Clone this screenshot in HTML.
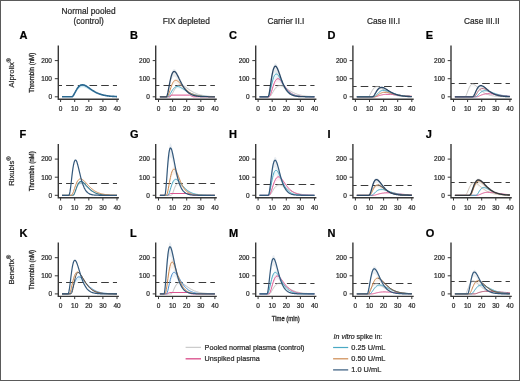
<!DOCTYPE html>
<html><head><meta charset="utf-8"><title>Thrombin generation</title>
<style>html,body{margin:0;padding:0;background:#fff;}svg{display:block;will-change:transform;filter:blur(0.3px);} text{stroke-width:0.22px;}</style>
</head><body>
<svg width="520" height="381" viewBox="0 0 520 381"><rect x="0.5" y="0.5" width="519" height="380" fill="#fff" stroke="#5a5a5a" stroke-width="1"/>
<g font-family='"Liberation Sans", sans-serif' font-size="8.3" fill="#2a2a2a" stroke="#2a2a2a" text-anchor="middle">
<text x="88.6" y="13.9">Normal pooled</text>
<text x="88.6" y="23.5">(control)</text>
<text x="186.25" y="23.5">FIX depleted</text>
<text x="285.9" y="23.5">Carrier II.I</text>
<text x="383.5" y="23.5">Case III.I</text>
<text x="481.75" y="23.5">Case III.II</text>
</g>
<g font-family='"Liberation Sans", sans-serif' font-size="11" font-weight="bold" fill="#000" stroke="#000">
<text x="19.5" y="39.0">A</text>
<text x="130.1" y="39.0">B</text>
<text x="228.9" y="39.0">C</text>
<text x="327.5" y="39.0">D</text>
<text x="425.8" y="39.0">E</text>
<text x="19.5" y="137.8">F</text>
<text x="130.1" y="137.8">G</text>
<text x="228.9" y="137.8">H</text>
<text x="327.5" y="137.8">I</text>
<text x="425.8" y="137.8">J</text>
<text x="19.5" y="236.6">K</text>
<text x="130.1" y="236.6">L</text>
<text x="228.9" y="236.6">M</text>
<text x="327.5" y="236.6">N</text>
<text x="425.8" y="236.6">O</text>
</g>
<text transform="translate(13.6,87.4) rotate(-90)" font-family='"Liberation Sans", sans-serif' font-size="7.7" fill="#2a2a2a" stroke="#2a2a2a">Alprolix<tspan font-size="5.6" dy="-2.5">®</tspan></text>
<text transform="translate(13.6,185.8) rotate(-90)" font-family='"Liberation Sans", sans-serif' font-size="7.7" fill="#2a2a2a" stroke="#2a2a2a">Rixubis<tspan font-size="5.6" dy="-2.5">®</tspan></text>
<text transform="translate(13.6,284.6) rotate(-90)" font-family='"Liberation Sans", sans-serif' font-size="7.7" fill="#2a2a2a" stroke="#2a2a2a">Benefix<tspan font-size="5.6" dy="-2.5">®</tspan></text>
<text transform="translate(34.0,72.8) rotate(-90) scale(0.765,1)" font-family='"Liberation Sans", sans-serif' font-size="8" fill="#2a2a2a" stroke="#2a2a2a" style="stroke-width:0.35px" text-anchor="middle">Thrombin (nM)</text>
<line x1="58.30" y1="85.50" x2="117.00" y2="85.50" stroke="#3a3a3a" stroke-width="1.15" stroke-dasharray="7.6 4.1" stroke-dashoffset="3.9"/>
<path d="M72.5,96.5 L73.0,95.9 L73.5,95.2 L73.9,94.4 L74.4,93.5 L74.8,92.5 L75.3,91.6 L75.8,90.6 L76.2,89.7 L76.7,88.9 L77.1,88.1 L77.6,87.4 L78.0,86.7 L78.5,86.1 L79.0,85.6 L79.4,85.2 L79.9,84.8 L80.3,84.5 L80.8,84.2 L81.3,84.1 L81.7,84.0 L82.2,83.9 L82.6,83.9 L83.1,83.9 L83.5,84.0 L84.0,84.2 L84.5,84.3 L84.9,84.6 L85.4,84.8 L85.8,85.0 L86.3,85.3 L86.8,85.6 L87.2,85.9 L87.7,86.3 L88.1,86.6 L88.6,86.9 L89.0,87.3 L89.5,87.6 L90.0,88.0 L90.4,88.3 L90.9,88.7 L91.3,89.0 L91.8,89.4 L92.3,89.7 L92.7,90.0 L93.2,90.3 L93.6,90.6 L94.1,90.9 L94.5,91.2 L95.0,91.5 L95.5,91.8 L95.9,92.0 L96.4,92.3 L96.8,92.5 L97.3,92.7 L97.8,93.0 L98.2,93.2 L98.7,93.4 L99.1,93.6 L99.6,93.8 L100.0,93.9 L100.5,94.1 L101.0,94.3 L101.4,94.4 L101.9,94.6 L102.3,94.7 L102.8,94.8 L103.3,94.9 L103.7,95.0 L104.2,95.2 L104.6,95.3 L105.1,95.4 L105.5,95.4 L106.0,95.5 L106.5,95.6 L106.9,95.7 L107.4,95.8 L107.8,95.8 L108.3,95.9 L108.8,96.0 L109.2,96.0 L109.7,96.1 L110.1,96.1 L110.6,96.2 L111.0,96.2 L111.5,96.2 L112.0,96.3 L112.4,96.3 L112.9,96.3 L113.3,96.4 L113.8,96.4 L114.3,96.4 L114.7,96.5 L115.2,96.5 L115.6,96.5 L116.1,96.5 L116.5,96.5 L117.0,96.6 L117.0,96.6 L116.5,96.6 L116.1,96.6 L115.6,96.6 L115.2,96.6 L114.7,96.5 L114.3,96.5 L113.8,96.5 L113.3,96.5 L112.9,96.5 L112.4,96.4 L112.0,96.4 L111.5,96.4 L111.0,96.4 L110.6,96.3 L110.1,96.3 L109.7,96.3 L109.2,96.2 L108.8,96.2 L108.3,96.1 L107.8,96.1 L107.4,96.0 L106.9,96.0 L106.5,95.9 L106.0,95.9 L105.5,95.8 L105.1,95.7 L104.6,95.7 L104.2,95.6 L103.7,95.5 L103.3,95.4 L102.8,95.3 L102.3,95.2 L101.9,95.1 L101.4,95.0 L101.0,94.9 L100.5,94.8 L100.0,94.7 L99.6,94.5 L99.1,94.4 L98.7,94.3 L98.2,94.1 L97.8,94.0 L97.3,93.8 L96.8,93.6 L96.4,93.5 L95.9,93.3 L95.5,93.1 L95.0,92.9 L94.5,92.7 L94.1,92.5 L93.6,92.2 L93.2,92.0 L92.7,91.8 L92.3,91.5 L91.8,91.3 L91.3,91.0 L90.9,90.8 L90.4,90.5 L90.0,90.3 L89.5,90.0 L89.0,89.8 L88.6,89.5 L88.1,89.2 L87.7,89.0 L87.2,88.8 L86.8,88.5 L86.3,88.3 L85.8,88.1 L85.4,87.9 L84.9,87.7 L84.5,87.6 L84.0,87.4 L83.5,87.3 L83.1,87.3 L82.6,87.2 L82.2,87.3 L81.7,87.3 L81.3,87.4 L80.8,87.5 L80.3,87.7 L79.9,87.9 L79.4,88.2 L79.0,88.5 L78.5,88.9 L78.0,89.3 L77.6,89.8 L77.1,90.3 L76.7,90.9 L76.2,91.6 L75.8,92.2 L75.3,92.9 L74.8,93.6 L74.4,94.3 L73.9,95.0 L73.5,95.6 L73.0,96.2 L72.5,96.6 Z" fill="#bfe6f4" opacity="0.8"/>
<path d="M62,96.8 L72,96.8 L72.5,96.5 L73,96 L73.5,95.3 L74,94.4 L74.5,93.5 L75,92.5 L75.5,91.6 L76,90.6 L76.5,89.8 L77,88.9 L77.5,88.2 L78,87.5 L78.5,86.9 L79,86.4 L79.5,85.9 L80,85.6 L80.5,85.3 L81,85.1 L81.5,85 L82,84.9 L83,84.9 L83.5,85 L84,85.1 L84.5,85.3 L85,85.5 L85.5,85.7 L86,86 L86.5,86.3 L87,86.6 L87.5,86.9 L88,87.3 L88.5,87.6 L89,88 L89.5,88.3 L90,88.7 L90.5,89 L91,89.4 L91.5,89.7 L92,90.1 L92.5,90.4 L93,90.7 L93.5,91 L94,91.3 L94.5,91.6 L95,91.9 L95.5,92.2 L96,92.4 L96.5,92.7 L97,92.9 L97.5,93.1 L98,93.4 L98.5,93.6 L99,93.8 L99.5,94 L100,94.1 L100.5,94.3 L101,94.5 L101.5,94.6 L102,94.8 L102.5,94.9 L103,95 L103.5,95.1 L104,95.2 L104.5,95.3 L105,95.4 L105.5,95.5 L106,95.6 L106.5,95.7 L107,95.8 L107.5,95.9 L108,95.9 L108.5,96 L109,96 L109.5,96.1 L110,96.1 L110.5,96.2 L111,96.2 L111.5,96.3 L112,96.3 L112.5,96.4 L114,96.4 L114.5,96.5 L116,96.5 L116.5,96.6 L117,96.6" fill="none" stroke="#2a6890" stroke-width="1.6" stroke-linejoin="round" opacity="1.0"/>
<path d="M58.30,45.50 L58.30,99.30 L118.90,99.30" fill="none" stroke="#383838" stroke-width="1.4"/>
<path d="M54.80,96.80 L58.30,96.80 M54.80,78.70 L58.30,78.70 M54.80,60.60 L58.30,60.60 M60.60,99.30 L60.60,102.00 M74.70,99.30 L74.70,102.00 M88.80,99.30 L88.80,102.00 M102.90,99.30 L102.90,102.00 M117.00,99.30 L117.00,102.00" stroke="#383838" stroke-width="1"/>
<g font-family='"Liberation Sans", sans-serif' font-size="6.5" fill="#2a2a2a" stroke="#2a2a2a">
<text x="52.00" y="99.15" text-anchor="end">0</text>
<text x="52.00" y="81.05" text-anchor="end">100</text>
<text x="52.00" y="62.95" text-anchor="end">200</text>
<text x="60.60" y="111.30" text-anchor="middle">0</text>
<text x="74.70" y="111.30" text-anchor="middle">10</text>
<text x="88.80" y="111.30" text-anchor="middle">20</text>
<text x="102.90" y="111.30" text-anchor="middle">30</text>
<text x="117.00" y="111.30" text-anchor="middle">40</text>
</g>
<line x1="155.70" y1="85.50" x2="214.90" y2="85.50" stroke="#3a3a3a" stroke-width="1.15" stroke-dasharray="7.6 4.1" stroke-dashoffset="3.9"/>
<path d="M170.9,95.9 L171.8,94.3 L172.7,92.5 L173.7,90.5 L174.6,88.7 L175.5,87.2 L176.4,85.9 L177.3,84.9 L178.2,84.3 L179.2,83.8 L180.1,83.7 L181.0,83.7 L181.9,83.9 L182.8,84.3 L183.7,84.8 L184.7,85.4 L185.6,86.1 L186.5,86.8 L187.4,87.5 L188.3,88.2 L189.2,88.9 L190.2,89.6 L191.1,90.2 L192.0,90.8 L192.9,91.4 L193.8,91.9 L194.7,92.4 L195.7,92.9 L196.6,93.3 L197.5,93.7 L198.4,94.0 L199.3,94.4 L200.2,94.6 L201.2,94.9 L202.1,95.1 L203.0,95.3 L203.9,95.5 L204.8,95.7 L205.7,95.8 L206.7,95.9 L207.6,96.0 L208.5,96.1 L209.4,96.2 L210.3,96.3 L211.2,96.4 L212.2,96.4 L213.1,96.5 L214.0,96.5 L214.9,96.6 L214.9,96.6 L214.0,96.6 L213.1,96.6 L212.2,96.5 L211.2,96.5 L210.3,96.4 L209.4,96.4 L208.5,96.3 L207.6,96.3 L206.7,96.2 L205.7,96.1 L204.8,96.0 L203.9,95.9 L203.0,95.7 L202.1,95.6 L201.2,95.4 L200.2,95.2 L199.3,95.0 L198.4,94.8 L197.5,94.5 L196.6,94.3 L195.7,94.0 L194.7,93.6 L193.8,93.3 L192.9,92.9 L192.0,92.5 L191.1,92.0 L190.2,91.5 L189.2,91.0 L188.3,90.5 L187.4,90.0 L186.5,89.5 L185.6,89.0 L184.7,88.5 L183.7,88.1 L182.8,87.7 L181.9,87.4 L181.0,87.3 L180.1,87.3 L179.2,87.4 L178.2,87.7 L177.3,88.2 L176.4,88.9 L175.5,89.8 L174.6,90.9 L173.7,92.2 L172.7,93.6 L171.8,95.0 L170.9,96.2 Z" fill="#b8b8b8" opacity="0.1"/>
<path d="M170.9,95.0 L171.8,94.9 L172.7,94.9 L173.7,94.9 L174.6,94.9 L175.5,94.9 L176.4,94.9 L177.3,94.9 L178.2,94.9 L179.2,94.9 L180.1,94.9 L181.0,94.9 L181.9,94.9 L182.8,94.9 L183.7,94.9 L184.7,94.9 L185.6,94.9 L186.5,94.9 L187.4,94.9 L188.3,94.9 L189.2,94.9 L190.2,95.3 L191.1,95.7 L192.0,96.2 L192.9,96.7 L192.9,96.7 L192.0,96.4 L191.1,96.0 L190.2,95.7 L189.2,95.5 L188.3,95.4 L187.4,95.4 L186.5,95.4 L185.6,95.4 L184.7,95.4 L183.7,95.4 L182.8,95.4 L181.9,95.4 L181.0,95.4 L180.1,95.4 L179.2,95.4 L178.2,95.4 L177.3,95.4 L176.4,95.4 L175.5,95.4 L174.6,95.4 L173.7,95.4 L172.7,95.4 L171.8,95.4 L170.9,95.5 Z" fill="#dc5690" opacity="0.1"/>
<path d="M168.2,96.7 L169.1,95.7 L170.0,94.1 L170.9,92.3 L171.8,90.5 L172.7,88.9 L173.7,87.6 L174.6,86.6 L175.5,85.9 L176.4,85.6 L177.3,85.5 L178.2,85.6 L179.2,85.8 L180.1,86.2 L181.0,86.7 L181.9,87.3 L182.8,87.9 L183.7,88.6 L184.7,89.2 L185.6,89.8 L186.5,90.4 L187.4,91.0 L188.3,91.6 L189.2,92.1 L190.2,92.6 L191.1,93.0 L192.0,93.4 L192.9,93.8 L193.8,94.1 L194.7,94.4 L195.7,94.7 L196.6,95.0 L197.5,95.2 L198.4,95.4 L199.3,95.6 L200.2,95.7 L201.2,95.9 L202.1,96.0 L203.0,96.1 L203.9,96.2 L204.8,96.3 L205.7,96.3 L206.7,96.4 L207.6,96.4 L208.5,96.5 L209.4,96.5 L210.3,96.6 L211.2,96.6 L212.2,96.6 L213.1,96.7 L214.0,96.7 L214.9,96.7 L214.9,96.7 L214.0,96.7 L213.1,96.7 L212.2,96.7 L211.2,96.7 L210.3,96.6 L209.4,96.6 L208.5,96.6 L207.6,96.5 L206.7,96.5 L205.7,96.5 L204.8,96.4 L203.9,96.3 L203.0,96.3 L202.1,96.2 L201.2,96.1 L200.2,96.0 L199.3,95.9 L198.4,95.8 L197.5,95.6 L196.6,95.5 L195.7,95.3 L194.7,95.1 L193.8,94.9 L192.9,94.6 L192.0,94.3 L191.1,94.0 L190.2,93.7 L189.2,93.4 L188.3,93.0 L187.4,92.6 L186.5,92.2 L185.6,91.7 L184.7,91.3 L183.7,90.8 L182.8,90.3 L181.9,89.9 L181.0,89.5 L180.1,89.1 L179.2,88.8 L178.2,88.6 L177.3,88.5 L176.4,88.6 L175.5,88.9 L174.6,89.4 L173.7,90.1 L172.7,91.1 L171.8,92.2 L170.9,93.5 L170.0,94.9 L169.1,96.0 L168.2,96.7 Z" fill="#4aa9c4" opacity="0.1"/>
<path d="M167.2,96.7 L168.2,95.4 L169.1,92.8 L170.0,89.7 L170.9,86.5 L171.8,83.7 L172.7,81.5 L173.7,80.0 L174.6,79.1 L175.5,78.7 L176.4,78.8 L177.3,79.3 L178.2,80.0 L179.2,80.9 L180.1,81.9 L181.0,83.1 L181.9,84.2 L182.8,85.4 L183.7,86.5 L184.7,87.5 L185.6,88.5 L186.5,89.5 L187.4,90.3 L188.3,91.1 L189.2,91.8 L190.2,92.4 L191.1,93.0 L192.0,93.5 L192.9,93.9 L193.8,94.3 L194.7,94.7 L195.7,95.0 L196.6,95.2 L197.5,95.5 L198.4,95.7 L199.3,95.8 L200.2,96.0 L201.2,96.1 L202.1,96.2 L203.0,96.3 L203.9,96.4 L204.8,96.4 L205.7,96.5 L206.7,96.5 L207.6,96.6 L208.5,96.6 L209.4,96.6 L210.3,96.7 L211.2,96.7 L212.2,96.7 L213.1,96.7 L214.0,96.7 L214.0,96.8 L213.1,96.7 L212.2,96.7 L211.2,96.7 L210.3,96.7 L209.4,96.7 L208.5,96.7 L207.6,96.6 L206.7,96.6 L205.7,96.6 L204.8,96.5 L203.9,96.5 L203.0,96.4 L202.1,96.4 L201.2,96.3 L200.2,96.2 L199.3,96.1 L198.4,96.0 L197.5,95.8 L196.6,95.7 L195.7,95.5 L194.7,95.3 L193.8,95.0 L192.9,94.7 L192.0,94.4 L191.1,94.0 L190.2,93.6 L189.2,93.2 L188.3,92.6 L187.4,92.1 L186.5,91.5 L185.6,90.8 L184.7,90.1 L183.7,89.3 L182.8,88.5 L181.9,87.6 L181.0,86.8 L180.1,86.0 L179.2,85.2 L178.2,84.6 L177.3,84.0 L176.4,83.7 L175.5,83.6 L174.6,83.9 L173.7,84.6 L172.7,85.7 L171.8,87.3 L170.9,89.3 L170.0,91.6 L169.1,93.9 L168.2,95.8 L167.2,96.8 Z" fill="#cd8a50" opacity="0.1"/>
<path d="M167.2,95.1 L168.2,90.7 L169.1,85.3 L170.0,80.0 L170.9,75.6 L171.8,72.2 L172.7,70.1 L173.7,69.1 L174.6,69.0 L175.5,69.8 L176.4,71.1 L177.3,72.8 L178.2,74.8 L179.2,76.9 L180.1,79.0 L181.0,81.0 L181.9,83.0 L182.8,84.8 L183.7,86.4 L184.7,87.9 L185.6,89.2 L186.5,90.3 L187.4,91.3 L188.3,92.2 L189.2,92.9 L190.2,93.6 L191.1,94.1 L192.0,94.6 L192.9,95.0 L193.8,95.3 L194.7,95.6 L195.7,95.8 L196.6,96.0 L197.5,96.1 L198.4,96.2 L199.3,96.3 L200.2,96.4 L201.2,96.5 L202.1,96.6 L203.0,96.6 L203.9,96.6 L204.8,96.7 L205.7,96.7 L206.7,96.7 L207.6,96.7 L207.6,96.8 L206.7,96.7 L205.7,96.7 L204.8,96.7 L203.9,96.7 L203.0,96.7 L202.1,96.6 L201.2,96.6 L200.2,96.5 L199.3,96.5 L198.4,96.4 L197.5,96.3 L196.6,96.2 L195.7,96.1 L194.7,95.9 L193.8,95.7 L192.9,95.5 L192.0,95.2 L191.1,94.9 L190.2,94.5 L189.2,94.0 L188.3,93.5 L187.4,92.8 L186.5,92.1 L185.6,91.3 L184.7,90.3 L183.7,89.2 L182.8,88.0 L181.9,86.7 L181.0,85.3 L180.1,83.8 L179.2,82.3 L178.2,80.8 L177.3,79.4 L176.4,78.1 L175.5,77.1 L174.6,76.6 L173.7,76.6 L172.7,77.4 L171.8,78.9 L170.9,81.4 L170.0,84.6 L169.1,88.5 L168.2,92.4 L167.2,95.5 Z" fill="#2c4866" opacity="0.1"/>
<path d="M159.9,96.8 L169.9,96.8 L170.4,96.5 L170.9,96 L171.4,95.3 L171.9,94.4 L172.4,93.5 L172.9,92.5 L173.4,91.6 L173.9,90.6 L174.4,89.8 L174.9,88.9 L175.4,88.2 L175.9,87.5 L176.4,86.9 L176.9,86.4 L177.4,85.9 L177.9,85.6 L178.4,85.3 L178.9,85.1 L179.4,85 L179.9,84.9 L180.9,84.9 L181.4,85 L181.9,85.1 L182.4,85.3 L182.9,85.5 L183.4,85.7 L183.9,86 L184.4,86.3 L184.9,86.6 L185.4,86.9 L185.9,87.3 L186.4,87.6 L186.9,88 L187.4,88.3 L187.9,88.7 L188.4,89 L188.9,89.4 L189.4,89.7 L189.9,90.1 L190.4,90.4 L190.9,90.7 L191.4,91 L191.9,91.3 L192.4,91.6 L192.9,91.9 L193.4,92.2 L193.9,92.4 L194.4,92.7 L194.9,92.9 L195.4,93.1 L195.9,93.4 L196.4,93.6 L196.9,93.8 L197.4,94 L197.9,94.1 L198.4,94.3 L198.9,94.5 L199.4,94.6 L199.9,94.8 L200.4,94.9 L200.9,95 L201.4,95.1 L201.9,95.2 L202.4,95.3 L202.9,95.4 L203.4,95.5 L203.9,95.6 L204.4,95.7 L204.9,95.8 L205.4,95.9 L205.9,95.9 L206.4,96 L206.9,96 L207.4,96.1 L207.9,96.1 L208.4,96.2 L208.9,96.2 L209.4,96.3 L209.9,96.3 L210.4,96.4 L211.9,96.4 L212.4,96.5 L213.9,96.5 L214.4,96.6 L214.9,96.6" fill="none" stroke="#b8b8b8" stroke-width="0.8" stroke-linejoin="round" opacity="1.0"/>
<path d="M159.9,96.8 L169.9,96.8 L170.4,96.5 L170.9,95.2 L171.4,95.1 L189.4,95.1 L189.9,95.3 L190.4,95.5 L190.9,95.7 L191.4,96 L191.9,96.3 L192.4,96.5 L192.9,96.7 L193.4,96.8 L214.9,96.8" fill="none" stroke="#dc5690" stroke-width="1.0" stroke-linejoin="round" opacity="1.0"/>
<path d="M159.9,96.8 L167.9,96.8 L168.4,96.5 L168.9,96 L169.4,95.3 L169.9,94.5 L170.4,93.6 L170.9,92.7 L171.4,91.8 L171.9,90.9 L172.4,90.1 L172.9,89.4 L173.4,88.7 L173.9,88.2 L174.4,87.7 L174.9,87.3 L175.4,87 L175.9,86.7 L176.4,86.6 L176.9,86.5 L177.9,86.5 L178.4,86.6 L178.9,86.8 L179.4,86.9 L179.9,87.1 L180.4,87.4 L180.9,87.6 L181.4,87.9 L181.9,88.2 L182.4,88.5 L182.9,88.8 L183.4,89.1 L183.9,89.4 L184.4,89.7 L184.9,90 L185.4,90.4 L185.9,90.7 L186.4,91 L186.9,91.3 L187.4,91.5 L187.9,91.8 L188.4,92.1 L188.9,92.3 L189.4,92.6 L189.9,92.8 L190.4,93.1 L190.9,93.3 L191.4,93.5 L191.9,93.7 L192.4,93.9 L192.9,94.1 L193.4,94.2 L193.9,94.4 L194.4,94.6 L194.9,94.7 L195.4,94.8 L195.9,95 L196.4,95.1 L196.9,95.2 L197.4,95.3 L197.9,95.4 L198.4,95.5 L198.9,95.6 L199.4,95.7 L199.9,95.8 L200.4,95.8 L200.9,95.9 L201.4,96 L201.9,96 L202.4,96.1 L202.9,96.1 L203.4,96.2 L203.9,96.2 L204.4,96.3 L205.4,96.3 L205.9,96.4 L206.9,96.4 L207.4,96.5 L208.9,96.5 L209.4,96.6 L211.9,96.6 L212.4,96.7 L214.9,96.7" fill="none" stroke="#4aa9c4" stroke-width="1.0" stroke-linejoin="round" opacity="1.0"/>
<path d="M159.9,96.8 L166.9,96.8 L167.4,96.6 L167.9,96 L168.4,95 L168.9,93.7 L169.4,92.2 L169.9,90.6 L170.4,89 L170.9,87.5 L171.4,86 L171.9,84.7 L172.4,83.6 L172.9,82.6 L173.4,81.8 L173.9,81.2 L174.4,80.8 L174.9,80.5 L175.4,80.4 L175.9,80.3 L176.4,80.4 L176.9,80.6 L177.4,80.9 L177.9,81.2 L178.4,81.7 L178.9,82.1 L179.4,82.6 L179.9,83.1 L180.4,83.7 L180.9,84.2 L181.4,84.8 L181.9,85.4 L182.4,85.9 L182.9,86.5 L183.4,87 L183.9,87.6 L184.4,88.1 L184.9,88.6 L185.4,89.1 L185.9,89.6 L186.4,90.1 L186.9,90.5 L187.4,90.9 L187.9,91.3 L188.4,91.7 L188.9,92 L189.4,92.4 L189.9,92.7 L190.4,93 L190.9,93.3 L191.4,93.5 L191.9,93.8 L192.4,94 L192.9,94.2 L193.4,94.4 L193.9,94.6 L194.4,94.8 L194.9,94.9 L195.4,95.1 L195.9,95.2 L196.4,95.3 L196.9,95.5 L197.4,95.6 L197.9,95.7 L198.4,95.8 L198.9,95.8 L199.4,95.9 L199.9,96 L200.4,96.1 L200.9,96.1 L201.4,96.2 L201.9,96.2 L202.4,96.3 L202.9,96.3 L203.4,96.4 L204.4,96.4 L204.9,96.5 L205.9,96.5 L206.4,96.6 L208.9,96.6 L209.4,96.7 L214.4,96.7 L214.9,96.8" fill="none" stroke="#cd8a50" stroke-width="1.0" stroke-linejoin="round" opacity="1.0"/>
<path d="M159.9,96.8 L166.4,96.8 L166.9,96.1 L167.4,94.6 L167.9,92.5 L168.4,90 L168.9,87.3 L169.4,84.6 L169.9,82 L170.4,79.6 L170.9,77.5 L171.4,75.7 L171.9,74.2 L172.4,73.1 L172.9,72.3 L173.4,71.7 L173.9,71.5 L174.4,71.5 L174.9,71.7 L175.4,72.1 L175.9,72.7 L176.4,73.4 L176.9,74.3 L177.4,75.2 L177.9,76.1 L178.4,77.1 L178.9,78.2 L179.4,79.2 L179.9,80.3 L180.4,81.3 L180.9,82.3 L181.4,83.3 L181.9,84.2 L182.4,85.1 L182.9,86 L183.4,86.8 L183.9,87.6 L184.4,88.3 L184.9,89 L185.4,89.7 L185.9,90.3 L186.4,90.8 L186.9,91.3 L187.4,91.8 L187.9,92.3 L188.4,92.7 L188.9,93.1 L189.4,93.4 L189.9,93.7 L190.4,94 L190.9,94.3 L191.4,94.5 L191.9,94.8 L192.4,95 L192.9,95.1 L193.4,95.3 L193.9,95.5 L194.4,95.6 L194.9,95.7 L195.4,95.8 L195.9,95.9 L196.4,96 L196.9,96.1 L197.4,96.2 L197.9,96.2 L198.4,96.3 L198.9,96.4 L199.9,96.4 L200.4,96.5 L201.4,96.5 L201.9,96.6 L203.4,96.6 L203.9,96.7 L207.9,96.7 L208.4,96.8 L214.9,96.8" fill="none" stroke="#2c4866" stroke-width="1.3" stroke-linejoin="round" opacity="1.0"/>
<path d="M155.70,45.50 L155.70,99.30 L216.80,99.30" fill="none" stroke="#383838" stroke-width="1.4"/>
<path d="M152.70,96.80 L155.70,96.80 M152.70,78.70 L155.70,78.70 M152.70,60.60 L155.70,60.60 M158.50,99.30 L158.50,102.00 M172.60,99.30 L172.60,102.00 M186.70,99.30 L186.70,102.00 M200.80,99.30 L200.80,102.00 M214.90,99.30 L214.90,102.00" stroke="#383838" stroke-width="1"/>
<g font-family='"Liberation Sans", sans-serif' font-size="6.5" fill="#2a2a2a" stroke="#2a2a2a">
<text x="149.90" y="99.15" text-anchor="end">0</text>
<text x="149.90" y="81.05" text-anchor="end">100</text>
<text x="149.90" y="62.95" text-anchor="end">200</text>
<text x="158.50" y="111.30" text-anchor="middle">0</text>
<text x="172.60" y="111.30" text-anchor="middle">10</text>
<text x="186.70" y="111.30" text-anchor="middle">20</text>
<text x="200.80" y="111.30" text-anchor="middle">30</text>
<text x="214.90" y="111.30" text-anchor="middle">40</text>
</g>
<line x1="255.70" y1="85.50" x2="314.50" y2="85.50" stroke="#3a3a3a" stroke-width="1.15" stroke-dasharray="7.6 4.1" stroke-dashoffset="3.9"/>
<path d="M270.5,96.0 L271.4,94.5 L272.3,92.7 L273.3,90.9 L274.2,89.2 L275.1,87.8 L276.0,86.6 L276.9,85.7 L277.8,85.0 L278.8,84.6 L279.7,84.5 L280.6,84.5 L281.5,84.7 L282.4,85.1 L283.3,85.6 L284.3,86.1 L285.2,86.7 L286.1,87.4 L287.0,88.0 L287.9,88.7 L288.8,89.4 L289.8,90.0 L290.7,90.6 L291.6,91.2 L292.5,91.7 L293.4,92.2 L294.3,92.7 L295.3,93.1 L296.2,93.5 L297.1,93.9 L298.0,94.2 L298.9,94.5 L299.8,94.8 L300.8,95.0 L301.7,95.2 L302.6,95.4 L303.5,95.6 L304.4,95.7 L305.3,95.9 L306.3,96.0 L307.2,96.1 L308.1,96.2 L309.0,96.3 L309.9,96.3 L310.8,96.4 L311.8,96.4 L312.7,96.5 L313.6,96.5 L314.5,96.6 L314.5,96.6 L313.6,96.6 L312.7,96.6 L311.8,96.5 L310.8,96.5 L309.9,96.5 L309.0,96.4 L308.1,96.4 L307.2,96.3 L306.3,96.2 L305.3,96.1 L304.4,96.0 L303.5,95.9 L302.6,95.8 L301.7,95.7 L300.8,95.5 L299.8,95.3 L298.9,95.1 L298.0,94.9 L297.1,94.7 L296.2,94.4 L295.3,94.1 L294.3,93.8 L293.4,93.5 L292.5,93.1 L291.6,92.7 L290.7,92.3 L289.8,91.9 L288.8,91.4 L287.9,90.9 L287.0,90.4 L286.1,89.9 L285.2,89.5 L284.3,89.0 L283.3,88.6 L282.4,88.3 L281.5,88.0 L280.6,87.9 L279.7,87.8 L278.8,87.9 L277.8,88.2 L276.9,88.7 L276.0,89.4 L275.1,90.2 L274.2,91.3 L273.3,92.5 L272.3,93.8 L271.4,95.1 L270.5,96.2 Z" fill="#b8b8b8" opacity="0.1"/>
<path d="M269.6,96.2 L270.5,94.2 L271.4,91.3 L272.3,88.0 L273.3,84.7 L274.2,81.9 L275.1,79.7 L276.0,78.2 L276.9,77.2 L277.8,76.9 L278.8,77.1 L279.7,77.8 L280.6,78.8 L281.5,80.0 L282.4,81.5 L283.3,83.0 L284.3,84.4 L285.2,85.9 L286.1,87.2 L287.0,88.5 L287.9,89.7 L288.8,90.7 L289.8,91.6 L290.7,92.4 L291.6,93.1 L292.5,93.7 L293.4,94.2 L294.3,94.7 L295.3,95.0 L296.2,95.3 L297.1,95.6 L298.0,95.8 L298.9,96.0 L299.8,96.1 L300.8,96.3 L301.7,96.4 L302.6,96.5 L303.5,96.5 L304.4,96.6 L305.3,96.6 L306.3,96.7 L307.2,96.7 L308.1,96.7 L309.0,96.7 L309.0,96.7 L308.1,96.7 L307.2,96.7 L306.3,96.7 L305.3,96.7 L304.4,96.6 L303.5,96.6 L302.6,96.5 L301.7,96.5 L300.8,96.4 L299.8,96.3 L298.9,96.2 L298.0,96.1 L297.1,95.9 L296.2,95.7 L295.3,95.5 L294.3,95.2 L293.4,94.9 L292.5,94.5 L291.6,94.1 L290.7,93.6 L289.8,93.0 L288.8,92.4 L287.9,91.6 L287.0,90.8 L286.1,89.8 L285.2,88.9 L284.3,87.8 L283.3,86.7 L282.4,85.6 L281.5,84.6 L280.6,83.7 L279.7,82.9 L278.8,82.5 L277.8,82.3 L276.9,82.6 L276.0,83.2 L275.1,84.4 L274.2,86.0 L273.3,88.0 L272.3,90.4 L271.4,92.8 L270.5,94.9 L269.6,96.4 Z" fill="#dc5690" opacity="0.1"/>
<path d="M268.7,96.2 L269.6,93.4 L270.5,89.1 L271.4,84.4 L272.3,80.1 L273.3,76.5 L274.2,74.0 L275.1,72.4 L276.0,71.7 L276.9,71.9 L277.8,72.7 L278.8,74.0 L279.7,75.6 L280.6,77.5 L281.5,79.4 L282.4,81.3 L283.3,83.1 L284.3,84.9 L285.2,86.5 L286.1,87.9 L287.0,89.2 L287.9,90.4 L288.8,91.4 L289.8,92.2 L290.7,93.0 L291.6,93.6 L292.5,94.2 L293.4,94.6 L294.3,95.0 L295.3,95.3 L296.2,95.6 L297.1,95.8 L298.0,96.0 L298.9,96.2 L299.8,96.3 L300.8,96.4 L301.7,96.5 L302.6,96.5 L303.5,96.6 L304.4,96.6 L305.3,96.7 L306.3,96.7 L307.2,96.7 L308.1,96.7 L308.1,96.7 L307.2,96.7 L306.3,96.7 L305.3,96.7 L304.4,96.7 L303.5,96.6 L302.6,96.6 L301.7,96.6 L300.8,96.5 L299.8,96.4 L298.9,96.3 L298.0,96.2 L297.1,96.1 L296.2,95.9 L295.3,95.7 L294.3,95.5 L293.4,95.2 L292.5,94.9 L291.6,94.5 L290.7,94.0 L289.8,93.5 L288.8,92.9 L287.9,92.1 L287.0,91.3 L286.1,90.3 L285.2,89.3 L284.3,88.1 L283.3,86.9 L282.4,85.5 L281.5,84.1 L280.6,82.7 L279.7,81.4 L278.8,80.2 L277.8,79.3 L276.9,78.7 L276.0,78.6 L275.1,79.1 L274.2,80.2 L273.3,82.1 L272.3,84.6 L271.4,87.8 L270.5,91.2 L269.6,94.3 L268.7,96.4 Z" fill="#4aa9c4" opacity="0.1"/>
<path d="M268.7,95.6 L269.6,90.7 L270.5,84.0 L271.4,77.2 L272.3,71.3 L273.3,67.0 L274.2,64.4 L275.1,63.2 L276.0,63.4 L276.9,64.7 L277.8,66.8 L278.8,69.4 L279.7,72.3 L280.6,75.2 L281.5,78.1 L282.4,80.8 L283.3,83.2 L284.3,85.4 L285.2,87.3 L286.1,88.9 L287.0,90.4 L287.9,91.5 L288.8,92.5 L289.8,93.4 L290.7,94.0 L291.6,94.6 L292.5,95.0 L293.4,95.4 L294.3,95.7 L295.3,95.9 L296.2,96.1 L297.1,96.3 L298.0,96.4 L298.9,96.5 L299.8,96.5 L300.8,96.6 L301.7,96.6 L302.6,96.7 L303.5,96.7 L304.4,96.7 L304.4,96.7 L303.5,96.7 L302.6,96.7 L301.7,96.7 L300.8,96.7 L299.8,96.6 L298.9,96.6 L298.0,96.5 L297.1,96.4 L296.2,96.3 L295.3,96.2 L294.3,96.0 L293.4,95.8 L292.5,95.5 L291.6,95.2 L290.7,94.8 L289.8,94.3 L288.8,93.7 L287.9,93.0 L287.0,92.1 L286.1,91.1 L285.2,89.9 L284.3,88.5 L283.3,86.9 L282.4,85.1 L281.5,83.2 L280.6,81.1 L279.7,79.0 L278.8,76.9 L277.8,75.0 L276.9,73.4 L276.0,72.5 L275.1,72.4 L274.2,73.2 L273.3,75.2 L272.3,78.3 L271.4,82.5 L270.5,87.5 L269.6,92.4 L268.7,95.9 Z" fill="#2c4866" opacity="0.1"/>
<path d="M259.5,96.8 L269.5,96.8 L270,96.5 L270.5,96 L271,95.4 L271.5,94.6 L272,93.7 L272.5,92.8 L273,91.9 L273.5,91 L274,90.2 L274.5,89.4 L275,88.7 L275.5,88.1 L276,87.5 L276.5,87 L277,86.6 L277.5,86.3 L278,86 L278.5,85.8 L279,85.7 L279.5,85.6 L280.5,85.6 L281,85.7 L281.5,85.8 L282,86 L282.5,86.2 L283,86.4 L283.5,86.7 L284,86.9 L284.5,87.2 L285,87.5 L285.5,87.9 L286,88.2 L286.5,88.5 L287,88.8 L287.5,89.2 L288,89.5 L288.5,89.8 L289,90.1 L289.5,90.5 L290,90.8 L290.5,91.1 L291,91.4 L291.5,91.6 L292,91.9 L292.5,92.2 L293,92.4 L293.5,92.7 L294,92.9 L294.5,93.1 L295,93.4 L295.5,93.6 L296,93.8 L296.5,93.9 L297,94.1 L297.5,94.3 L298,94.5 L298.5,94.6 L299,94.7 L299.5,94.9 L300,95 L300.5,95.1 L301,95.2 L301.5,95.3 L302,95.4 L302.5,95.5 L303,95.6 L303.5,95.7 L304,95.8 L304.5,95.8 L305,95.9 L305.5,96 L306,96 L306.5,96.1 L307,96.1 L307.5,96.2 L308,96.2 L308.5,96.3 L309.5,96.3 L310,96.4 L311,96.4 L311.5,96.5 L313,96.5 L313.5,96.6 L314.5,96.6" fill="none" stroke="#b8b8b8" stroke-width="0.8" stroke-linejoin="round" opacity="1.0"/>
<path d="M259.5,96.8 L269,96.8 L269.5,96.4 L270,95.6 L270.5,94.5 L271,93.1 L271.5,91.5 L272,89.9 L272.5,88.2 L273,86.6 L273.5,85.1 L274,83.7 L274.5,82.5 L275,81.4 L275.5,80.6 L276,79.9 L276.5,79.3 L277,79 L277.5,78.8 L278,78.7 L278.5,78.8 L279,79 L279.5,79.3 L280,79.8 L280.5,80.3 L281,80.9 L281.5,81.6 L282,82.3 L282.5,83 L283,83.7 L283.5,84.5 L284,85.2 L284.5,85.9 L285,86.6 L285.5,87.3 L286,88 L286.5,88.6 L287,89.3 L287.5,89.8 L288,90.4 L288.5,90.9 L289,91.4 L289.5,91.9 L290,92.3 L290.5,92.7 L291,93 L291.5,93.4 L292,93.7 L292.5,94 L293,94.3 L293.5,94.5 L294,94.7 L294.5,94.9 L295,95.1 L295.5,95.3 L296,95.4 L296.5,95.6 L297,95.7 L297.5,95.8 L298,95.9 L298.5,96 L299,96.1 L299.5,96.2 L300,96.2 L300.5,96.3 L301,96.3 L301.5,96.4 L302,96.4 L302.5,96.5 L303.5,96.5 L304,96.6 L305.5,96.6 L306,96.7 L310,96.7 L310.5,96.8 L314.5,96.8" fill="none" stroke="#dc5690" stroke-width="1.0" stroke-linejoin="round" opacity="1.0"/>
<path d="M259.5,96.8 L268,96.8 L268.5,96.5 L269,95.5 L269.5,94 L270,92 L270.5,89.8 L271,87.5 L271.5,85.2 L272,83 L272.5,80.9 L273,79.2 L273.5,77.6 L274,76.4 L274.5,75.4 L275,74.7 L275.5,74.3 L276,74 L276.5,74 L277,74.2 L277.5,74.6 L278,75.1 L278.5,75.7 L279,76.5 L279.5,77.3 L280,78.2 L280.5,79.1 L281,80 L281.5,81 L282,81.9 L282.5,82.9 L283,83.8 L283.5,84.7 L284,85.5 L284.5,86.4 L285,87.2 L285.5,87.9 L286,88.6 L286.5,89.3 L287,89.9 L287.5,90.5 L288,91 L288.5,91.5 L289,92 L289.5,92.5 L290,92.9 L290.5,93.2 L291,93.6 L291.5,93.9 L292,94.2 L292.5,94.4 L293,94.6 L293.5,94.9 L294,95.1 L294.5,95.2 L295,95.4 L295.5,95.5 L296,95.7 L296.5,95.8 L297,95.9 L297.5,96 L298,96.1 L298.5,96.2 L299,96.2 L299.5,96.3 L300,96.3 L300.5,96.4 L301,96.4 L301.5,96.5 L302.5,96.5 L303,96.6 L304.5,96.6 L305,96.7 L309,96.7 L309.5,96.8 L314.5,96.8" fill="none" stroke="#4aa9c4" stroke-width="1.0" stroke-linejoin="round" opacity="1.0"/>
<path d="M259.5,96.8 L268,96.8 L268.5,96.2 L269,94.4 L269.5,91.8 L270,88.6 L270.5,85.1 L271,81.7 L271.5,78.4 L272,75.4 L272.5,72.8 L273,70.7 L273.5,68.9 L274,67.7 L274.5,66.8 L275,66.3 L275.5,66.2 L276,66.4 L276.5,67 L277,67.8 L277.5,68.8 L278,69.9 L278.5,71.2 L279,72.6 L279.5,74 L280,75.5 L280.5,77 L281,78.4 L281.5,79.8 L282,81.1 L282.5,82.4 L283,83.7 L283.5,84.8 L284,85.9 L284.5,86.9 L285,87.9 L285.5,88.7 L286,89.5 L286.5,90.3 L287,90.9 L287.5,91.6 L288,92.1 L288.5,92.6 L289,93.1 L289.5,93.5 L290,93.9 L290.5,94.2 L291,94.5 L291.5,94.8 L292,95 L292.5,95.2 L293,95.4 L293.5,95.6 L294,95.7 L294.5,95.8 L295,96 L295.5,96.1 L296,96.2 L296.5,96.2 L297,96.3 L297.5,96.4 L298,96.4 L298.5,96.5 L299.5,96.5 L300,96.6 L301,96.6 L301.5,96.7 L305,96.7 L305.5,96.8 L314.5,96.8" fill="none" stroke="#2c4866" stroke-width="1.3" stroke-linejoin="round" opacity="1.0"/>
<path d="M255.70,45.50 L255.70,99.30 L316.40,99.30" fill="none" stroke="#383838" stroke-width="1.4"/>
<path d="M252.30,96.80 L255.70,96.80 M252.30,78.70 L255.70,78.70 M252.30,60.60 L255.70,60.60 M258.10,99.30 L258.10,102.00 M272.20,99.30 L272.20,102.00 M286.30,99.30 L286.30,102.00 M300.40,99.30 L300.40,102.00 M314.50,99.30 L314.50,102.00" stroke="#383838" stroke-width="1"/>
<g font-family='"Liberation Sans", sans-serif' font-size="6.5" fill="#2a2a2a" stroke="#2a2a2a">
<text x="249.50" y="99.15" text-anchor="end">0</text>
<text x="249.50" y="81.05" text-anchor="end">100</text>
<text x="249.50" y="62.95" text-anchor="end">200</text>
<text x="258.10" y="111.30" text-anchor="middle">0</text>
<text x="272.20" y="111.30" text-anchor="middle">10</text>
<text x="286.30" y="111.30" text-anchor="middle">20</text>
<text x="300.40" y="111.30" text-anchor="middle">30</text>
<text x="314.50" y="111.30" text-anchor="middle">40</text>
</g>
<line x1="352.90" y1="86.50" x2="411.80" y2="86.50" stroke="#3a3a3a" stroke-width="1.15" stroke-dasharray="7.6 4.1" stroke-dashoffset="3.9"/>
<path d="M368.7,96.5 L369.6,95.1 L370.6,93.3 L371.5,91.3 L372.4,89.6 L373.3,88.1 L374.2,87.0 L375.1,86.1 L376.1,85.7 L377.0,85.5 L377.9,85.5 L378.8,85.8 L379.7,86.2 L380.6,86.7 L381.6,87.4 L382.5,88.1 L383.4,88.8 L384.3,89.5 L385.2,90.2 L386.1,90.8 L387.1,91.5 L388.0,92.0 L388.9,92.6 L389.8,93.1 L390.7,93.5 L391.6,93.9 L392.6,94.3 L393.5,94.6 L394.4,94.9 L395.3,95.2 L396.2,95.4 L397.1,95.6 L398.1,95.8 L399.0,95.9 L399.9,96.0 L400.8,96.1 L401.7,96.2 L402.6,96.3 L403.6,96.4 L404.5,96.5 L405.4,96.5 L406.3,96.6 L407.2,96.6 L408.1,96.6 L409.1,96.7 L410.0,96.7 L410.9,96.7 L411.8,96.7 L411.8,96.7 L410.9,96.7 L410.0,96.7 L409.1,96.7 L408.1,96.7 L407.2,96.6 L406.3,96.6 L405.4,96.6 L404.5,96.6 L403.6,96.5 L402.6,96.5 L401.7,96.4 L400.8,96.3 L399.9,96.2 L399.0,96.1 L398.1,96.0 L397.1,95.9 L396.2,95.8 L395.3,95.6 L394.4,95.4 L393.5,95.2 L392.6,95.0 L391.6,94.7 L390.7,94.4 L389.8,94.1 L388.9,93.7 L388.0,93.3 L387.1,92.9 L386.1,92.5 L385.2,92.0 L384.3,91.5 L383.4,91.0 L382.5,90.4 L381.6,89.9 L380.6,89.5 L379.7,89.1 L378.8,88.8 L377.9,88.6 L377.0,88.6 L376.1,88.7 L375.1,89.1 L374.2,89.6 L373.3,90.5 L372.4,91.5 L371.5,92.8 L370.6,94.2 L369.6,95.6 L368.7,96.5 Z" fill="#b8b8b8" opacity="0.1"/>
<path d="M376.1,96.6 L377.0,96.3 L377.9,96.0 L378.8,95.6 L379.7,95.3 L380.6,95.0 L381.6,94.8 L382.5,94.6 L383.4,94.4 L384.3,94.2 L385.2,94.1 L386.1,94.1 L387.1,94.0 L388.0,94.0 L388.9,94.0 L389.8,94.1 L390.7,94.1 L391.6,94.2 L392.6,94.3 L393.5,94.4 L394.4,94.5 L395.3,94.6 L396.2,94.7 L397.1,94.8 L398.1,94.9 L399.0,95.0 L399.9,95.1 L400.8,95.3 L401.7,95.4 L402.6,95.5 L403.6,95.6 L404.5,95.7 L405.4,95.7 L406.3,95.8 L407.2,95.9 L408.1,96.0 L409.1,96.0 L410.0,96.1 L410.9,96.2 L411.8,96.2 L411.8,96.4 L410.9,96.3 L410.0,96.3 L409.1,96.3 L408.1,96.2 L407.2,96.1 L406.3,96.1 L405.4,96.0 L404.5,96.0 L403.6,95.9 L402.6,95.8 L401.7,95.8 L400.8,95.7 L399.9,95.6 L399.0,95.5 L398.1,95.4 L397.1,95.4 L396.2,95.3 L395.3,95.2 L394.4,95.1 L393.5,95.0 L392.6,95.0 L391.6,94.9 L390.7,94.8 L389.8,94.8 L388.9,94.8 L388.0,94.8 L387.1,94.8 L386.1,94.8 L385.2,94.9 L384.3,94.9 L383.4,95.0 L382.5,95.2 L381.6,95.3 L380.6,95.5 L379.7,95.7 L378.8,96.0 L377.9,96.2 L377.0,96.5 L376.1,96.7 Z" fill="#dc5690" opacity="0.1"/>
<path d="M375.1,96.7 L376.1,96.2 L377.0,95.5 L377.9,94.8 L378.8,94.1 L379.7,93.4 L380.6,92.9 L381.6,92.5 L382.5,92.2 L383.4,92.0 L384.3,91.8 L385.2,91.8 L386.1,91.9 L387.1,92.0 L388.0,92.1 L388.9,92.3 L389.8,92.6 L390.7,92.8 L391.6,93.0 L392.6,93.3 L393.5,93.5 L394.4,93.8 L395.3,94.0 L396.2,94.3 L397.1,94.5 L398.1,94.7 L399.0,94.9 L399.9,95.1 L400.8,95.2 L401.7,95.4 L402.6,95.5 L403.6,95.7 L404.5,95.8 L405.4,95.9 L406.3,96.0 L407.2,96.1 L408.1,96.2 L409.1,96.2 L410.0,96.3 L410.9,96.4 L411.8,96.4 L411.8,96.5 L410.9,96.5 L410.0,96.4 L409.1,96.4 L408.1,96.3 L407.2,96.3 L406.3,96.2 L405.4,96.1 L404.5,96.1 L403.6,96.0 L402.6,95.9 L401.7,95.8 L400.8,95.7 L399.9,95.5 L399.0,95.4 L398.1,95.3 L397.1,95.1 L396.2,95.0 L395.3,94.8 L394.4,94.6 L393.5,94.4 L392.6,94.2 L391.6,94.1 L390.7,93.9 L389.8,93.7 L388.9,93.6 L388.0,93.4 L387.1,93.3 L386.1,93.2 L385.2,93.2 L384.3,93.2 L383.4,93.3 L382.5,93.4 L381.6,93.6 L380.6,94.0 L379.7,94.3 L378.8,94.8 L377.9,95.3 L377.0,95.8 L376.1,96.3 L375.1,96.7 Z" fill="#cd8a50" opacity="0.1"/>
<path d="M374.2,96.7 L375.1,96.1 L376.1,95.2 L377.0,94.1 L377.9,93.0 L378.8,92.0 L379.7,91.1 L380.6,90.5 L381.6,90.0 L382.5,89.7 L383.4,89.6 L384.3,89.7 L385.2,89.8 L386.1,90.0 L387.1,90.3 L388.0,90.7 L388.9,91.1 L389.8,91.5 L390.7,91.9 L391.6,92.3 L392.6,92.7 L393.5,93.0 L394.4,93.4 L395.3,93.7 L396.2,94.0 L397.1,94.3 L398.1,94.6 L399.0,94.8 L399.9,95.1 L400.8,95.3 L401.7,95.4 L402.6,95.6 L403.6,95.8 L404.5,95.9 L405.4,96.0 L406.3,96.1 L407.2,96.2 L408.1,96.3 L409.1,96.3 L410.0,96.4 L410.9,96.5 L411.8,96.5 L411.8,96.6 L410.9,96.5 L410.0,96.5 L409.1,96.5 L408.1,96.4 L407.2,96.4 L406.3,96.3 L405.4,96.2 L404.5,96.1 L403.6,96.0 L402.6,95.9 L401.7,95.8 L400.8,95.7 L399.9,95.5 L399.0,95.4 L398.1,95.2 L397.1,95.0 L396.2,94.8 L395.3,94.6 L394.4,94.3 L393.5,94.1 L392.6,93.8 L391.6,93.5 L390.7,93.2 L389.8,92.9 L388.9,92.6 L388.0,92.4 L387.1,92.1 L386.1,91.9 L385.2,91.7 L384.3,91.6 L383.4,91.6 L382.5,91.7 L381.6,91.9 L380.6,92.2 L379.7,92.7 L378.8,93.3 L377.9,94.0 L377.0,94.8 L376.1,95.6 L375.1,96.3 L374.2,96.7 Z" fill="#4aa9c4" opacity="0.1"/>
<path d="M373.3,96.3 L374.2,95.1 L375.1,93.4 L376.1,91.7 L377.0,90.0 L377.9,88.7 L378.8,87.6 L379.7,86.9 L380.6,86.6 L381.6,86.4 L382.5,86.6 L383.4,86.9 L384.3,87.3 L385.2,87.8 L386.1,88.4 L387.1,89.1 L388.0,89.7 L388.9,90.4 L389.8,91.0 L390.7,91.6 L391.6,92.1 L392.6,92.7 L393.5,93.1 L394.4,93.6 L395.3,94.0 L396.2,94.3 L397.1,94.6 L398.1,94.9 L399.0,95.2 L399.9,95.4 L400.8,95.6 L401.7,95.8 L402.6,95.9 L403.6,96.0 L404.5,96.1 L405.4,96.2 L406.3,96.3 L407.2,96.4 L408.1,96.5 L409.1,96.5 L410.0,96.6 L410.9,96.6 L411.8,96.6 L411.8,96.7 L410.9,96.6 L410.0,96.6 L409.1,96.6 L408.1,96.5 L407.2,96.5 L406.3,96.5 L405.4,96.4 L404.5,96.3 L403.6,96.2 L402.6,96.1 L401.7,96.0 L400.8,95.9 L399.9,95.8 L399.0,95.6 L398.1,95.4 L397.1,95.2 L396.2,95.0 L395.3,94.7 L394.4,94.4 L393.5,94.1 L392.6,93.8 L391.6,93.4 L390.7,93.0 L389.8,92.6 L388.9,92.1 L388.0,91.6 L387.1,91.2 L386.1,90.7 L385.2,90.3 L384.3,89.9 L383.4,89.6 L382.5,89.4 L381.6,89.3 L380.6,89.3 L379.7,89.6 L378.8,90.1 L377.9,90.9 L377.0,91.9 L376.1,93.1 L375.1,94.3 L374.2,95.5 L373.3,96.5 Z" fill="#2c4866" opacity="0.1"/>
<path d="M356.8,96.8 L368.3,96.8 L368.8,96.4 L369.3,95.8 L369.8,95 L370.3,94 L370.8,93.1 L371.3,92.1 L371.8,91.2 L372.3,90.4 L372.8,89.6 L373.3,88.9 L373.8,88.3 L374.3,87.8 L374.8,87.3 L375.3,87 L375.8,86.8 L376.3,86.6 L376.8,86.5 L377.8,86.5 L378.3,86.6 L378.8,86.8 L379.3,87 L379.8,87.2 L380.3,87.5 L380.8,87.8 L381.3,88.1 L381.8,88.4 L382.3,88.7 L382.8,89.1 L383.3,89.4 L383.8,89.8 L384.3,90.1 L384.8,90.5 L385.3,90.8 L385.8,91.2 L386.3,91.5 L386.8,91.8 L387.3,92.1 L387.8,92.4 L388.3,92.7 L388.8,92.9 L389.3,93.2 L389.8,93.4 L390.3,93.6 L390.8,93.9 L391.3,94.1 L391.8,94.3 L392.3,94.4 L392.8,94.6 L393.3,94.8 L393.8,94.9 L394.3,95.1 L394.8,95.2 L395.3,95.3 L395.8,95.4 L396.3,95.5 L396.8,95.6 L397.3,95.7 L397.8,95.8 L398.3,95.9 L398.8,96 L399.3,96 L399.8,96.1 L400.3,96.2 L400.8,96.2 L401.3,96.3 L402.3,96.3 L402.8,96.4 L403.8,96.4 L404.3,96.5 L405.3,96.5 L405.8,96.6 L408.3,96.6 L408.8,96.7 L411.8,96.7" fill="none" stroke="#b8b8b8" stroke-width="0.8" stroke-linejoin="round" opacity="1.0"/>
<path d="M356.8,96.8 L375.3,96.8 L375.8,96.7 L376.3,96.6 L376.8,96.4 L377.3,96.3 L377.8,96.1 L378.3,95.9 L378.8,95.7 L379.3,95.6 L379.8,95.4 L380.3,95.3 L380.8,95.1 L381.3,95 L381.8,94.9 L382.3,94.8 L382.8,94.7 L383.3,94.6 L383.8,94.5 L384.3,94.5 L384.8,94.4 L385.3,94.4 L385.8,94.3 L390.3,94.3 L390.8,94.4 L391.8,94.4 L392.3,94.5 L392.8,94.5 L393.3,94.6 L393.8,94.6 L394.3,94.7 L394.8,94.7 L395.3,94.8 L395.8,94.8 L396.3,94.9 L396.8,94.9 L397.3,95 L397.8,95.1 L398.3,95.1 L398.8,95.2 L399.3,95.2 L399.8,95.3 L400.3,95.3 L400.8,95.4 L401.3,95.5 L401.8,95.5 L402.3,95.6 L402.8,95.6 L403.3,95.7 L404.3,95.7 L404.8,95.8 L405.3,95.8 L405.8,95.9 L406.3,95.9 L406.8,96 L407.8,96 L408.3,96.1 L409.3,96.1 L409.8,96.2 L411.3,96.2 L411.8,96.3" fill="none" stroke="#dc5690" stroke-width="1.0" stroke-linejoin="round" opacity="1.0"/>
<path d="M356.8,96.8 L374.8,96.8 L375.3,96.6 L375.8,96.4 L376.3,96.1 L376.8,95.7 L377.3,95.4 L377.8,95 L378.3,94.6 L378.8,94.3 L379.3,94 L379.8,93.7 L380.3,93.4 L380.8,93.2 L381.3,93 L381.8,92.8 L382.3,92.6 L382.8,92.5 L383.3,92.4 L383.8,92.3 L386.3,92.3 L386.8,92.4 L387.3,92.5 L387.8,92.5 L388.3,92.6 L388.8,92.7 L389.3,92.8 L389.8,92.9 L390.3,93.1 L390.8,93.2 L391.3,93.3 L391.8,93.4 L392.3,93.5 L392.8,93.7 L393.3,93.8 L393.8,93.9 L394.3,94 L394.8,94.2 L395.3,94.3 L395.8,94.4 L396.3,94.5 L396.8,94.6 L397.3,94.7 L397.8,94.8 L398.3,94.9 L398.8,95 L399.3,95.1 L399.8,95.2 L400.3,95.3 L400.8,95.4 L401.3,95.5 L401.8,95.5 L402.3,95.6 L402.8,95.7 L403.3,95.7 L403.8,95.8 L404.3,95.9 L404.8,95.9 L405.3,96 L405.8,96 L406.3,96.1 L406.8,96.1 L407.3,96.2 L408.3,96.2 L408.8,96.3 L409.8,96.3 L410.3,96.4 L411.8,96.4" fill="none" stroke="#cd8a50" stroke-width="1.0" stroke-linejoin="round" opacity="1.0"/>
<path d="M356.8,96.8 L373.8,96.8 L374.3,96.7 L374.8,96.4 L375.3,96.1 L375.8,95.6 L376.3,95.1 L376.8,94.5 L377.3,94 L377.8,93.4 L378.3,92.9 L378.8,92.4 L379.3,92 L379.8,91.6 L380.3,91.2 L380.8,91 L381.3,90.7 L381.8,90.5 L382.3,90.4 L382.8,90.3 L384.3,90.3 L384.8,90.4 L385.3,90.5 L385.8,90.6 L386.3,90.7 L386.8,90.9 L387.3,91 L387.8,91.2 L388.3,91.4 L388.8,91.6 L389.3,91.8 L389.8,92 L390.3,92.2 L390.8,92.4 L391.3,92.6 L391.8,92.7 L392.3,92.9 L392.8,93.1 L393.3,93.3 L393.8,93.5 L394.3,93.7 L394.8,93.8 L395.3,94 L395.8,94.2 L396.3,94.3 L396.8,94.5 L397.3,94.6 L397.8,94.7 L398.3,94.9 L398.8,95 L399.3,95.1 L399.8,95.2 L400.3,95.3 L400.8,95.4 L401.3,95.5 L401.8,95.6 L402.3,95.7 L402.8,95.7 L403.3,95.8 L403.8,95.9 L404.3,95.9 L404.8,96 L405.3,96.1 L405.8,96.1 L406.3,96.2 L407.3,96.2 L407.8,96.3 L408.3,96.3 L408.8,96.4 L409.8,96.4 L410.3,96.5 L411.8,96.5" fill="none" stroke="#4aa9c4" stroke-width="1.0" stroke-linejoin="round" opacity="1.0"/>
<path d="M356.8,96.8 L372.3,96.8 L372.8,96.7 L373.3,96.4 L373.8,95.8 L374.3,95.1 L374.8,94.3 L375.3,93.4 L375.8,92.6 L376.3,91.7 L376.8,90.9 L377.3,90.2 L377.8,89.5 L378.3,89 L378.8,88.5 L379.3,88.1 L379.8,87.8 L380.3,87.6 L380.8,87.5 L381.3,87.4 L381.8,87.4 L382.3,87.5 L382.8,87.6 L383.3,87.7 L383.8,87.9 L384.3,88.2 L384.8,88.4 L385.3,88.7 L385.8,89 L386.3,89.3 L386.8,89.6 L387.3,89.9 L387.8,90.3 L388.3,90.6 L388.8,90.9 L389.3,91.2 L389.8,91.5 L390.3,91.8 L390.8,92.1 L391.3,92.4 L391.8,92.6 L392.3,92.9 L392.8,93.2 L393.3,93.4 L393.8,93.6 L394.3,93.8 L394.8,94 L395.3,94.2 L395.8,94.4 L396.3,94.6 L396.8,94.7 L397.3,94.9 L397.8,95 L398.3,95.2 L398.8,95.3 L399.3,95.4 L399.8,95.5 L400.3,95.6 L400.8,95.7 L401.3,95.8 L401.8,95.9 L402.3,95.9 L402.8,96 L403.3,96.1 L403.8,96.1 L404.3,96.2 L404.8,96.2 L405.3,96.3 L405.8,96.3 L406.3,96.4 L407.3,96.4 L407.8,96.5 L409.3,96.5 L409.8,96.6 L411.8,96.6" fill="none" stroke="#2c4866" stroke-width="1.3" stroke-linejoin="round" opacity="1.0"/>
<path d="M352.90,45.50 L352.90,99.30 L413.70,99.30" fill="none" stroke="#383838" stroke-width="1.4"/>
<path d="M349.60,96.80 L352.90,96.80 M349.60,78.70 L352.90,78.70 M349.60,60.60 L352.90,60.60 M355.40,99.30 L355.40,102.00 M369.50,99.30 L369.50,102.00 M383.60,99.30 L383.60,102.00 M397.70,99.30 L397.70,102.00 M411.80,99.30 L411.80,102.00" stroke="#383838" stroke-width="1"/>
<g font-family='"Liberation Sans", sans-serif' font-size="6.5" fill="#2a2a2a" stroke="#2a2a2a">
<text x="346.80" y="99.15" text-anchor="end">0</text>
<text x="346.80" y="81.05" text-anchor="end">100</text>
<text x="346.80" y="62.95" text-anchor="end">200</text>
<text x="355.40" y="111.30" text-anchor="middle">0</text>
<text x="369.50" y="111.30" text-anchor="middle">10</text>
<text x="383.60" y="111.30" text-anchor="middle">20</text>
<text x="397.70" y="111.30" text-anchor="middle">30</text>
<text x="411.80" y="111.30" text-anchor="middle">40</text>
</g>
<line x1="451.00" y1="83.50" x2="509.90" y2="83.50" stroke="#3a3a3a" stroke-width="1.15" stroke-dasharray="7.6 4.1" stroke-dashoffset="3.9"/>
<path d="M465.9,95.7 L466.8,93.6 L467.7,90.8 L468.7,88.2 L469.6,85.9 L470.5,84.3 L471.4,83.3 L472.3,82.9 L473.2,83.0 L474.2,83.4 L475.1,84.0 L476.0,84.8 L476.9,85.7 L477.8,86.6 L478.7,87.6 L479.7,88.5 L480.6,89.4 L481.5,90.2 L482.4,91.0 L483.3,91.7 L484.2,92.4 L485.2,93.0 L486.1,93.5 L487.0,93.9 L487.9,94.3 L488.8,94.7 L489.7,95.0 L490.7,95.3 L491.6,95.5 L492.5,95.7 L493.4,95.9 L494.3,96.0 L495.2,96.1 L496.2,96.2 L497.1,96.3 L498.0,96.4 L498.9,96.5 L499.8,96.5 L500.7,96.6 L501.7,96.6 L502.6,96.6 L503.5,96.7 L504.4,96.7 L505.3,96.7 L506.2,96.7 L507.2,96.7 L507.2,96.8 L506.2,96.7 L505.3,96.7 L504.4,96.7 L503.5,96.7 L502.6,96.7 L501.7,96.7 L500.7,96.6 L499.8,96.6 L498.9,96.6 L498.0,96.5 L497.1,96.5 L496.2,96.4 L495.2,96.3 L494.3,96.2 L493.4,96.1 L492.5,96.0 L491.6,95.9 L490.7,95.7 L489.7,95.5 L488.8,95.3 L487.9,95.0 L487.0,94.7 L486.1,94.4 L485.2,94.0 L484.2,93.6 L483.3,93.1 L482.4,92.6 L481.5,92.0 L480.6,91.4 L479.7,90.8 L478.7,90.1 L477.8,89.4 L476.9,88.7 L476.0,88.1 L475.1,87.5 L474.2,87.0 L473.2,86.7 L472.3,86.7 L471.4,87.0 L470.5,87.7 L469.6,88.9 L468.7,90.5 L467.7,92.5 L466.8,94.4 L465.9,96.0 Z" fill="#b8b8b8" opacity="0.1"/>
<path d="M477.8,96.6 L478.7,96.2 L479.7,95.7 L480.6,95.2 L481.5,94.8 L482.4,94.4 L483.3,94.1 L484.2,93.9 L485.2,93.7 L486.1,93.5 L487.0,93.5 L487.9,93.4 L488.8,93.4 L489.7,93.5 L490.7,93.6 L491.6,93.7 L492.5,93.8 L493.4,93.9 L494.3,94.1 L495.2,94.2 L496.2,94.4 L497.1,94.5 L498.0,94.7 L498.9,94.9 L499.8,95.0 L500.7,95.1 L501.7,95.3 L502.6,95.4 L503.5,95.5 L504.4,95.6 L505.3,95.7 L506.2,95.8 L507.2,95.9 L508.1,96.0 L509.0,96.1 L509.9,96.2 L509.9,96.3 L509.0,96.3 L508.1,96.2 L507.2,96.2 L506.2,96.1 L505.3,96.0 L504.4,96.0 L503.5,95.9 L502.6,95.8 L501.7,95.7 L500.7,95.6 L499.8,95.5 L498.9,95.4 L498.0,95.3 L497.1,95.2 L496.2,95.0 L495.2,94.9 L494.3,94.8 L493.4,94.7 L492.5,94.6 L491.6,94.5 L490.7,94.4 L489.7,94.4 L488.8,94.3 L487.9,94.3 L487.0,94.4 L486.1,94.4 L485.2,94.5 L484.2,94.7 L483.3,94.8 L482.4,95.1 L481.5,95.4 L480.6,95.7 L479.7,96.0 L478.7,96.3 L477.8,96.6 Z" fill="#dc5690" opacity="0.1"/>
<path d="M476.0,96.7 L476.9,96.0 L477.8,95.1 L478.7,94.0 L479.7,93.0 L480.6,92.0 L481.5,91.3 L482.4,90.7 L483.3,90.3 L484.2,90.1 L485.2,90.0 L486.1,90.1 L487.0,90.3 L487.9,90.5 L488.8,90.8 L489.7,91.1 L490.7,91.5 L491.6,91.8 L492.5,92.2 L493.4,92.6 L494.3,92.9 L495.2,93.3 L496.2,93.6 L497.1,93.9 L498.0,94.2 L498.9,94.5 L499.8,94.7 L500.7,95.0 L501.7,95.2 L502.6,95.3 L503.5,95.5 L504.4,95.7 L505.3,95.8 L506.2,95.9 L507.2,96.0 L508.1,96.1 L509.0,96.2 L509.9,96.3 L509.9,96.4 L509.0,96.4 L508.1,96.3 L507.2,96.2 L506.2,96.2 L505.3,96.1 L504.4,96.0 L503.5,95.9 L502.6,95.7 L501.7,95.6 L500.7,95.5 L499.8,95.3 L498.9,95.1 L498.0,94.9 L497.1,94.7 L496.2,94.5 L495.2,94.2 L494.3,94.0 L493.4,93.7 L492.5,93.5 L491.6,93.2 L490.7,92.9 L489.7,92.7 L488.8,92.4 L487.9,92.2 L487.0,92.0 L486.1,91.9 L485.2,91.9 L484.2,91.9 L483.3,92.1 L482.4,92.4 L481.5,92.8 L480.6,93.3 L479.7,94.0 L478.7,94.8 L477.8,95.6 L476.9,96.2 L476.0,96.7 Z" fill="#4aa9c4" opacity="0.1"/>
<path d="M475.1,96.1 L476.0,94.7 L476.9,93.0 L477.8,91.4 L478.7,90.0 L479.7,88.9 L480.6,88.2 L481.5,87.8 L482.4,87.6 L483.3,87.7 L484.2,88.0 L485.2,88.4 L486.1,88.9 L487.0,89.5 L487.9,90.1 L488.8,90.7 L489.7,91.3 L490.7,91.9 L491.6,92.4 L492.5,92.9 L493.4,93.4 L494.3,93.8 L495.2,94.2 L496.2,94.5 L497.1,94.8 L498.0,95.1 L498.9,95.3 L499.8,95.5 L500.7,95.7 L501.7,95.9 L502.6,96.0 L503.5,96.1 L504.4,96.2 L505.3,96.3 L506.2,96.4 L507.2,96.5 L508.1,96.5 L509.0,96.6 L509.9,96.6 L509.9,96.6 L509.0,96.6 L508.1,96.6 L507.2,96.5 L506.2,96.5 L505.3,96.4 L504.4,96.4 L503.5,96.3 L502.6,96.2 L501.7,96.1 L500.7,96.0 L499.8,95.9 L498.9,95.7 L498.0,95.6 L497.1,95.4 L496.2,95.1 L495.2,94.9 L494.3,94.6 L493.4,94.3 L492.5,94.0 L491.6,93.6 L490.7,93.2 L489.7,92.8 L488.8,92.4 L487.9,91.9 L487.0,91.5 L486.1,91.1 L485.2,90.7 L484.2,90.4 L483.3,90.2 L482.4,90.1 L481.5,90.2 L480.6,90.5 L479.7,91.1 L478.7,91.8 L477.8,92.9 L476.9,94.0 L476.0,95.2 L475.1,96.3 Z" fill="#b07080" opacity="0.1"/>
<path d="M473.2,96.5 L474.2,95.0 L475.1,92.8 L476.0,90.5 L476.9,88.4 L477.8,86.7 L478.7,85.5 L479.7,84.8 L480.6,84.5 L481.5,84.5 L482.4,84.9 L483.3,85.4 L484.2,86.1 L485.2,86.9 L486.1,87.7 L487.0,88.6 L487.9,89.4 L488.8,90.2 L489.7,91.0 L490.7,91.7 L491.6,92.3 L492.5,92.9 L493.4,93.4 L494.3,93.9 L495.2,94.3 L496.2,94.7 L497.1,95.0 L498.0,95.2 L498.9,95.5 L499.8,95.7 L500.7,95.9 L501.7,96.0 L502.6,96.1 L503.5,96.2 L504.4,96.3 L505.3,96.4 L506.2,96.5 L507.2,96.5 L508.1,96.6 L509.0,96.6 L509.9,96.6 L509.9,96.7 L509.0,96.7 L508.1,96.6 L507.2,96.6 L506.2,96.6 L505.3,96.5 L504.4,96.5 L503.5,96.4 L502.6,96.3 L501.7,96.2 L500.7,96.1 L499.8,96.0 L498.9,95.8 L498.0,95.7 L497.1,95.5 L496.2,95.2 L495.2,95.0 L494.3,94.7 L493.4,94.3 L492.5,94.0 L491.6,93.5 L490.7,93.1 L489.7,92.6 L488.8,92.0 L487.9,91.4 L487.0,90.8 L486.1,90.2 L485.2,89.6 L484.2,89.0 L483.3,88.5 L482.4,88.1 L481.5,87.9 L480.6,87.8 L479.7,88.1 L478.7,88.6 L477.8,89.5 L476.9,90.7 L476.0,92.2 L475.1,93.9 L474.2,95.5 L473.2,96.5 Z" fill="#2c4866" opacity="0.1"/>
<path d="M454.9,96.8 L464.9,96.8 L465.4,96.5 L465.9,95.8 L466.4,94.9 L466.9,93.6 L467.4,92.3 L467.9,90.9 L468.4,89.6 L468.9,88.3 L469.4,87.2 L469.9,86.3 L470.4,85.5 L470.9,84.9 L471.4,84.5 L471.9,84.2 L472.4,84.1 L472.9,84.2 L473.4,84.3 L473.9,84.5 L474.4,84.7 L474.9,85.1 L475.4,85.4 L475.9,85.8 L476.4,86.2 L476.9,86.7 L477.4,87.2 L477.9,87.6 L478.4,88.1 L478.9,88.6 L479.4,89 L479.9,89.5 L480.4,89.9 L480.9,90.3 L481.4,90.8 L481.9,91.2 L482.4,91.5 L482.9,91.9 L483.4,92.2 L483.9,92.6 L484.4,92.9 L484.9,93.2 L485.4,93.4 L485.9,93.7 L486.4,93.9 L486.9,94.2 L487.4,94.4 L487.9,94.6 L488.4,94.7 L488.9,94.9 L489.4,95.1 L489.9,95.2 L490.4,95.3 L490.9,95.5 L491.4,95.6 L491.9,95.7 L492.4,95.8 L492.9,95.9 L493.4,95.9 L493.9,96 L494.4,96.1 L494.9,96.2 L495.4,96.2 L495.9,96.3 L496.4,96.3 L496.9,96.4 L497.9,96.4 L498.4,96.5 L499.4,96.5 L499.9,96.6 L502.4,96.6 L502.9,96.7 L507.4,96.7 L507.9,96.8 L509.9,96.8" fill="none" stroke="#b8b8b8" stroke-width="0.8" stroke-linejoin="round" opacity="1.0"/>
<path d="M454.9,96.8 L476.9,96.8 L477.4,96.7 L477.9,96.6 L478.4,96.4 L478.9,96.1 L479.4,95.9 L479.9,95.7 L480.4,95.5 L480.9,95.2 L481.4,95 L481.9,94.8 L482.4,94.7 L482.9,94.5 L483.4,94.3 L483.9,94.2 L484.4,94.1 L484.9,94 L485.4,93.9 L485.9,93.8 L486.9,93.8 L487.4,93.7 L488.9,93.7 L489.4,93.8 L490.4,93.8 L490.9,93.9 L491.4,93.9 L491.9,94 L492.4,94 L492.9,94.1 L493.4,94.2 L493.9,94.3 L494.4,94.3 L494.9,94.4 L495.4,94.5 L495.9,94.6 L496.4,94.6 L496.9,94.7 L497.4,94.8 L497.9,94.9 L498.4,95 L498.9,95 L499.4,95.1 L499.9,95.2 L500.4,95.2 L500.9,95.3 L501.4,95.4 L501.9,95.5 L502.4,95.5 L502.9,95.6 L503.4,95.6 L503.9,95.7 L504.4,95.7 L504.9,95.8 L505.4,95.9 L506.4,95.9 L506.9,96 L507.4,96 L507.9,96.1 L508.4,96.1 L508.9,96.2 L509.9,96.2" fill="none" stroke="#dc5690" stroke-width="1.0" stroke-linejoin="round" opacity="1.0"/>
<path d="M454.9,96.8 L475.4,96.8 L475.9,96.7 L476.4,96.5 L476.9,96.1 L477.4,95.7 L477.9,95.2 L478.4,94.6 L478.9,94.1 L479.4,93.6 L479.9,93.1 L480.4,92.6 L480.9,92.2 L481.4,91.8 L481.9,91.5 L482.4,91.2 L482.9,91 L483.4,90.9 L483.9,90.8 L484.4,90.7 L484.9,90.6 L485.4,90.7 L486.4,90.7 L486.9,90.8 L487.4,90.9 L487.9,91.1 L488.4,91.2 L488.9,91.4 L489.4,91.5 L489.9,91.7 L490.4,91.9 L490.9,92 L491.4,92.2 L491.9,92.4 L492.4,92.6 L492.9,92.8 L493.4,93 L493.9,93.2 L494.4,93.3 L494.9,93.5 L495.4,93.7 L495.9,93.8 L496.4,94 L496.9,94.1 L497.4,94.3 L497.9,94.4 L498.4,94.6 L498.9,94.7 L499.4,94.8 L499.9,94.9 L500.4,95.1 L500.9,95.2 L501.4,95.3 L501.9,95.4 L502.4,95.4 L502.9,95.5 L503.4,95.6 L503.9,95.7 L504.4,95.8 L504.9,95.8 L505.4,95.9 L505.9,96 L506.4,96 L506.9,96.1 L507.4,96.1 L507.9,96.2 L508.4,96.2 L508.9,96.3 L509.9,96.3" fill="none" stroke="#4aa9c4" stroke-width="1.0" stroke-linejoin="round" opacity="1.0"/>
<path d="M454.9,96.8 L473.9,96.8 L474.4,96.7 L474.9,96.3 L475.4,95.7 L475.9,95 L476.4,94.2 L476.9,93.3 L477.4,92.5 L477.9,91.7 L478.4,91 L478.9,90.4 L479.4,89.9 L479.9,89.4 L480.4,89.1 L480.9,88.8 L481.4,88.6 L481.9,88.5 L482.9,88.5 L483.4,88.6 L483.9,88.7 L484.4,88.9 L484.9,89.1 L485.4,89.3 L485.9,89.6 L486.4,89.8 L486.9,90.1 L487.4,90.4 L487.9,90.7 L488.4,91 L488.9,91.3 L489.4,91.6 L489.9,91.9 L490.4,92.2 L490.9,92.4 L491.4,92.7 L491.9,93 L492.4,93.2 L492.9,93.5 L493.4,93.7 L493.9,93.9 L494.4,94.1 L494.9,94.3 L495.4,94.5 L495.9,94.6 L496.4,94.8 L496.9,94.9 L497.4,95.1 L497.9,95.2 L498.4,95.3 L498.9,95.5 L499.4,95.6 L499.9,95.7 L500.4,95.8 L500.9,95.8 L501.4,95.9 L501.9,96 L502.4,96.1 L502.9,96.1 L503.4,96.2 L503.9,96.2 L504.4,96.3 L504.9,96.3 L505.4,96.4 L506.4,96.4 L506.9,96.5 L508.4,96.5 L508.9,96.6 L509.9,96.6" fill="none" stroke="#b07080" stroke-width="1.0" stroke-linejoin="round" opacity="1.0"/>
<path d="M454.9,96.8 L472.4,96.8 L472.9,96.7 L473.4,96.3 L473.9,95.6 L474.4,94.6 L474.9,93.6 L475.4,92.4 L475.9,91.3 L476.4,90.2 L476.9,89.2 L477.4,88.3 L477.9,87.5 L478.4,86.9 L478.9,86.4 L479.4,86 L479.9,85.8 L480.4,85.6 L481.4,85.6 L481.9,85.8 L482.4,86 L482.9,86.2 L483.4,86.5 L483.9,86.8 L484.4,87.2 L484.9,87.6 L485.4,88 L485.9,88.4 L486.4,88.8 L486.9,89.3 L487.4,89.7 L487.9,90.1 L488.4,90.5 L488.9,90.9 L489.4,91.3 L489.9,91.6 L490.4,92 L490.9,92.3 L491.4,92.6 L491.9,92.9 L492.4,93.2 L492.9,93.5 L493.4,93.7 L493.9,94 L494.4,94.2 L494.9,94.4 L495.4,94.6 L495.9,94.8 L496.4,94.9 L496.9,95.1 L497.4,95.2 L497.9,95.4 L498.4,95.5 L498.9,95.6 L499.4,95.7 L499.9,95.8 L500.4,95.9 L500.9,96 L501.4,96 L501.9,96.1 L502.4,96.2 L502.9,96.2 L503.4,96.3 L503.9,96.3 L504.4,96.4 L504.9,96.4 L505.4,96.5 L506.9,96.5 L507.4,96.6 L509.4,96.6 L509.9,96.7" fill="none" stroke="#2c4866" stroke-width="1.3" stroke-linejoin="round" opacity="1.0"/>
<path d="M451.00,45.50 L451.00,99.30 L511.80,99.30" fill="none" stroke="#383838" stroke-width="1.4"/>
<path d="M447.70,96.80 L451.00,96.80 M447.70,78.70 L451.00,78.70 M447.70,60.60 L451.00,60.60 M453.50,99.30 L453.50,102.00 M467.60,99.30 L467.60,102.00 M481.70,99.30 L481.70,102.00 M495.80,99.30 L495.80,102.00 M509.90,99.30 L509.90,102.00" stroke="#383838" stroke-width="1"/>
<g font-family='"Liberation Sans", sans-serif' font-size="6.5" fill="#2a2a2a" stroke="#2a2a2a">
<text x="444.90" y="99.15" text-anchor="end">0</text>
<text x="444.90" y="81.05" text-anchor="end">100</text>
<text x="444.90" y="62.95" text-anchor="end">200</text>
<text x="453.50" y="111.30" text-anchor="middle">0</text>
<text x="467.60" y="111.30" text-anchor="middle">10</text>
<text x="481.70" y="111.30" text-anchor="middle">20</text>
<text x="495.80" y="111.30" text-anchor="middle">30</text>
<text x="509.90" y="111.30" text-anchor="middle">40</text>
</g>
<text transform="translate(34.0,171.3) rotate(-90) scale(0.765,1)" font-family='"Liberation Sans", sans-serif' font-size="8" fill="#2a2a2a" stroke="#2a2a2a" style="stroke-width:0.35px" text-anchor="middle">Thrombin (nM)</text>
<line x1="58.30" y1="183.50" x2="117.00" y2="183.50" stroke="#3a3a3a" stroke-width="1.15" stroke-dasharray="7.6 4.1" stroke-dashoffset="3.9"/>
<path d="M73.5,195.1 L73.9,194.5 L74.4,193.6 L74.8,192.4 L75.3,191.0 L75.8,189.6 L76.2,188.1 L76.7,186.8 L77.1,185.5 L77.6,184.3 L78.0,183.3 L78.5,182.5 L79.0,181.8 L79.4,181.2 L79.9,180.8 L80.3,180.6 L80.8,180.5 L81.3,180.5 L81.7,180.6 L82.2,180.7 L82.6,181.0 L83.1,181.4 L83.5,181.8 L84.0,182.2 L84.5,182.7 L84.9,183.2 L85.4,183.7 L85.8,184.2 L86.3,184.8 L86.8,185.3 L87.2,185.9 L87.7,186.4 L88.1,186.9 L88.6,187.4 L89.0,187.9 L89.5,188.4 L90.0,188.9 L90.4,189.3 L90.9,189.7 L91.3,190.1 L91.8,190.5 L92.3,190.8 L92.7,191.2 L93.2,191.5 L93.6,191.8 L94.1,192.0 L94.5,192.3 L95.0,192.5 L95.5,192.8 L95.9,193.0 L96.4,193.2 L96.8,193.3 L97.3,193.5 L97.8,193.6 L98.2,193.8 L98.7,193.9 L99.1,194.0 L99.6,194.1 L100.0,194.2 L100.5,194.3 L101.0,194.4 L101.4,194.5 L101.9,194.6 L102.3,194.6 L102.8,194.7 L103.3,194.8 L103.7,194.8 L104.2,194.9 L104.6,194.9 L105.1,194.9 L105.5,195.0 L106.0,195.0 L106.5,195.0 L106.9,195.1 L107.4,195.1 L107.8,195.1 L108.3,195.1 L108.8,195.1 L109.2,195.2 L109.7,195.2 L110.1,195.2 L110.6,195.2 L111.0,195.2 L111.5,195.2 L112.0,195.2 L112.4,195.2 L112.9,195.2 L113.3,195.2 L113.3,195.3 L112.9,195.3 L112.4,195.2 L112.0,195.2 L111.5,195.2 L111.0,195.2 L110.6,195.2 L110.1,195.2 L109.7,195.2 L109.2,195.2 L108.8,195.2 L108.3,195.2 L107.8,195.1 L107.4,195.1 L106.9,195.1 L106.5,195.1 L106.0,195.1 L105.5,195.1 L105.1,195.0 L104.6,195.0 L104.2,195.0 L103.7,194.9 L103.3,194.9 L102.8,194.9 L102.3,194.8 L101.9,194.8 L101.4,194.7 L101.0,194.7 L100.5,194.6 L100.0,194.5 L99.6,194.4 L99.1,194.4 L98.7,194.3 L98.2,194.2 L97.8,194.1 L97.3,194.0 L96.8,193.8 L96.4,193.7 L95.9,193.6 L95.5,193.4 L95.0,193.2 L94.5,193.1 L94.1,192.9 L93.6,192.7 L93.2,192.5 L92.7,192.2 L92.3,192.0 L91.8,191.7 L91.3,191.4 L90.9,191.2 L90.4,190.8 L90.0,190.5 L89.5,190.2 L89.0,189.8 L88.6,189.5 L88.1,189.1 L87.7,188.7 L87.2,188.3 L86.8,187.9 L86.3,187.5 L85.8,187.1 L85.4,186.7 L84.9,186.3 L84.5,186.0 L84.0,185.6 L83.5,185.3 L83.1,185.0 L82.6,184.7 L82.2,184.5 L81.7,184.4 L81.3,184.3 L80.8,184.3 L80.3,184.4 L79.9,184.6 L79.4,184.9 L79.0,185.3 L78.5,185.8 L78.0,186.4 L77.6,187.2 L77.1,188.0 L76.7,189.0 L76.2,190.0 L75.8,191.1 L75.3,192.1 L74.8,193.1 L74.4,194.0 L73.9,194.7 L73.5,195.2 Z" fill="#cfeaf4" opacity="0.8"/>
<path d="M62,195.3 L73,195.3 L73.5,195.1 L74,194.4 L74.5,193.4 L75,192.1 L75.5,190.7 L76,189.3 L76.5,187.9 L77,186.5 L77.5,185.3 L78,184.3 L78.5,183.4 L79,182.7 L79.5,182.2 L80,181.8 L80.5,181.6 L81,181.5 L81.5,181.6 L82,181.8 L82.5,182 L83,182.3 L83.5,182.7 L84,183.2 L84.5,183.7 L85,184.2 L85.5,184.7 L86,185.3 L86.5,185.8 L87,186.3 L87.5,186.9 L88,187.4 L88.5,187.9 L89,188.4 L89.5,188.9 L90,189.4 L90.5,189.8 L91,190.2 L91.5,190.6 L92,191 L92.5,191.3 L93,191.6 L93.5,191.9 L94,192.2 L94.5,192.5 L95,192.7 L95.5,193 L96,193.2 L96.5,193.4 L97,193.5 L97.5,193.7 L98,193.8 L98.5,194 L99,194.1 L99.5,194.2 L100,194.3 L100.5,194.4 L101,194.5 L101.5,194.6 L102,194.6 L102.5,194.7 L103,194.8 L103.5,194.8 L104,194.9 L104.5,194.9 L105,195 L106.5,195 L107,195.1 L108.5,195.1 L109,195.2 L113.5,195.2 L114,195.3 L117,195.3" fill="none" stroke="#3f7a8a" stroke-width="1.1" stroke-linejoin="round" opacity="1.0"/>
<path d="M62,195.3 L71,195.3 L71.5,195.2 L72,194.8 L72.5,193.9 L73,192.8 L73.5,191.5 L74,190 L74.5,188.5 L75,187 L75.5,185.6 L76,184.3 L76.5,183.1 L77,182 L77.5,181.1 L78,180.4 L78.5,179.8 L79,179.4 L79.5,179.1 L80,178.9 L80.5,178.8 L81,178.9 L81.5,179 L82,179.3 L82.5,179.6 L83,179.9 L83.5,180.3 L84,180.8 L84.5,181.3 L85,181.8 L85.5,182.3 L86,182.9 L86.5,183.4 L87,184 L87.5,184.5 L88,185.1 L88.5,185.6 L89,186.1 L89.5,186.6 L90,187.1 L90.5,187.6 L91,188.1 L91.5,188.5 L92,188.9 L92.5,189.3 L93,189.7 L93.5,190.1 L94,190.5 L94.5,190.8 L95,191.1 L95.5,191.4 L96,191.7 L96.5,191.9 L97,192.2 L97.5,192.4 L98,192.6 L98.5,192.8 L99,193 L99.5,193.2 L100,193.3 L100.5,193.5 L101,193.6 L101.5,193.8 L102,193.9 L102.5,194 L103,194.1 L103.5,194.2 L104,194.3 L104.5,194.4 L105,194.4 L105.5,194.5 L106,194.6 L106.5,194.6 L107,194.7 L107.5,194.7 L108,194.8 L108.5,194.8 L109,194.9 L110,194.9 L110.5,195 L111.5,195 L112,195.1 L114.5,195.1 L115,195.2 L117,195.2" fill="none" stroke="#cd8a50" stroke-width="1.0" stroke-linejoin="round" opacity="1.0"/>
<path d="M62,195.3 L68.5,195.3 L69,195.2 L69.5,194.1 L70,191.7 L70.5,188.3 L71,184.2 L71.5,179.8 L72,175.4 L72.5,171.4 L73,167.9 L73.5,165 L74,162.8 L74.5,161.2 L75,160.3 L75.5,160 L76,160.3 L76.5,161.1 L77,162.3 L77.5,164 L78,165.8 L78.5,167.9 L79,170 L79.5,172.1 L80,174.2 L80.5,176.3 L81,178.3 L81.5,180.1 L82,181.8 L82.5,183.4 L83,184.8 L83.5,186.1 L84,187.3 L84.5,188.4 L85,189.3 L85.5,190.1 L86,190.9 L86.5,191.5 L87,192 L87.5,192.5 L88,192.9 L88.5,193.3 L89,193.6 L89.5,193.9 L90,194.1 L90.5,194.3 L91,194.4 L91.5,194.6 L92,194.7 L92.5,194.8 L93,194.9 L93.5,195 L94,195 L94.5,195.1 L95.5,195.1 L96,195.2 L98.5,195.2 L99,195.3 L117,195.3" fill="none" stroke="#34597c" stroke-width="1.2" stroke-linejoin="round" opacity="1.0"/>
<path d="M58.30,144.00 L58.30,197.80 L118.90,197.80" fill="none" stroke="#383838" stroke-width="1.4"/>
<path d="M54.80,195.30 L58.30,195.30 M54.80,177.20 L58.30,177.20 M54.80,159.10 L58.30,159.10 M60.60,197.80 L60.60,200.50 M74.70,197.80 L74.70,200.50 M88.80,197.80 L88.80,200.50 M102.90,197.80 L102.90,200.50 M117.00,197.80 L117.00,200.50" stroke="#383838" stroke-width="1"/>
<g font-family='"Liberation Sans", sans-serif' font-size="6.5" fill="#2a2a2a" stroke="#2a2a2a">
<text x="52.00" y="197.65" text-anchor="end">0</text>
<text x="52.00" y="179.55" text-anchor="end">100</text>
<text x="52.00" y="161.45" text-anchor="end">200</text>
<text x="60.60" y="209.80" text-anchor="middle">0</text>
<text x="74.70" y="209.80" text-anchor="middle">10</text>
<text x="88.80" y="209.80" text-anchor="middle">20</text>
<text x="102.90" y="209.80" text-anchor="middle">30</text>
<text x="117.00" y="209.80" text-anchor="middle">40</text>
</g>
<line x1="155.70" y1="183.50" x2="214.90" y2="183.50" stroke="#3a3a3a" stroke-width="1.15" stroke-dasharray="7.6 4.1" stroke-dashoffset="3.9"/>
<path d="M171.8,194.9 L172.7,192.9 L173.7,190.1 L174.6,187.3 L175.5,185.0 L176.4,183.3 L177.3,182.4 L178.2,182.2 L179.2,182.4 L180.1,183.0 L181.0,183.8 L181.9,184.8 L182.8,185.8 L183.7,186.9 L184.7,187.9 L185.6,188.9 L186.5,189.8 L187.4,190.6 L188.3,191.3 L189.2,191.9 L190.2,192.5 L191.1,193.0 L192.0,193.4 L192.9,193.7 L193.8,194.0 L194.7,194.2 L195.7,194.4 L196.6,194.6 L197.5,194.7 L198.4,194.8 L199.3,194.9 L200.2,195.0 L201.2,195.1 L202.1,195.1 L203.0,195.1 L203.9,195.2 L204.8,195.2 L205.7,195.2 L206.7,195.2 L206.7,195.3 L205.7,195.2 L204.8,195.2 L203.9,195.2 L203.0,195.2 L202.1,195.2 L201.2,195.1 L200.2,195.1 L199.3,195.0 L198.4,195.0 L197.5,194.9 L196.6,194.8 L195.7,194.7 L194.7,194.5 L193.8,194.3 L192.9,194.1 L192.0,193.9 L191.1,193.6 L190.2,193.3 L189.2,192.9 L188.3,192.4 L187.4,191.9 L186.5,191.3 L185.6,190.6 L184.7,189.9 L183.7,189.2 L182.8,188.4 L181.9,187.7 L181.0,186.9 L180.1,186.3 L179.2,185.9 L178.2,185.7 L177.3,185.9 L176.4,186.6 L175.5,187.8 L174.6,189.5 L173.7,191.5 L172.7,193.5 L171.8,195.0 Z" fill="#b8b8b8" opacity="0.1"/>
<path d="M168.2,195.1 L169.1,194.3 L170.0,193.5 L170.9,193.3 L171.8,193.3 L172.7,193.3 L173.7,193.3 L174.6,193.3 L175.5,193.3 L176.4,193.3 L177.3,193.3 L178.2,193.3 L179.2,193.3 L180.1,193.3 L181.0,193.3 L181.9,193.3 L182.8,193.3 L183.7,193.3 L184.7,193.3 L185.6,193.3 L186.5,193.3 L187.4,193.3 L188.3,193.3 L189.2,193.5 L190.2,193.9 L191.1,194.4 L192.0,194.8 L192.9,195.2 L192.9,195.2 L192.0,195.0 L191.1,194.6 L190.2,194.3 L189.2,194.0 L188.3,193.9 L187.4,193.9 L186.5,193.9 L185.6,193.9 L184.7,193.9 L183.7,193.9 L182.8,193.9 L181.9,193.9 L181.0,193.9 L180.1,193.9 L179.2,193.9 L178.2,193.9 L177.3,193.9 L176.4,193.9 L175.5,193.9 L174.6,193.9 L173.7,193.9 L172.7,193.9 L171.8,193.9 L170.9,193.9 L170.0,194.0 L169.1,194.6 L168.2,195.2 Z" fill="#dc5690" opacity="0.1"/>
<path d="M168.2,195.1 L169.1,193.2 L170.0,190.1 L170.9,186.7 L171.8,183.6 L172.7,181.1 L173.7,179.3 L174.6,178.2 L175.5,177.8 L176.4,177.9 L177.3,178.4 L178.2,179.2 L179.2,180.2 L180.1,181.4 L181.0,182.6 L181.9,183.8 L182.8,185.0 L183.7,186.1 L184.7,187.2 L185.6,188.2 L186.5,189.1 L187.4,189.9 L188.3,190.6 L189.2,191.2 L190.2,191.8 L191.1,192.3 L192.0,192.8 L192.9,193.1 L193.8,193.5 L194.7,193.7 L195.7,194.0 L196.6,194.2 L197.5,194.4 L198.4,194.5 L199.3,194.6 L200.2,194.8 L201.2,194.8 L202.1,194.9 L203.0,195.0 L203.9,195.0 L204.8,195.1 L205.7,195.1 L206.7,195.2 L207.6,195.2 L208.5,195.2 L209.4,195.2 L210.3,195.2 L210.3,195.2 L209.4,195.2 L208.5,195.2 L207.6,195.2 L206.7,195.2 L205.7,195.2 L204.8,195.1 L203.9,195.1 L203.0,195.1 L202.1,195.0 L201.2,195.0 L200.2,194.9 L199.3,194.8 L198.4,194.7 L197.5,194.6 L196.6,194.5 L195.7,194.3 L194.7,194.2 L193.8,194.0 L192.9,193.7 L192.0,193.5 L191.1,193.1 L190.2,192.8 L189.2,192.4 L188.3,191.9 L187.4,191.3 L186.5,190.8 L185.6,190.1 L184.7,189.4 L183.7,188.6 L182.8,187.8 L181.9,186.9 L181.0,186.0 L180.1,185.2 L179.2,184.4 L178.2,183.6 L177.3,183.0 L176.4,182.7 L175.5,182.6 L174.6,182.9 L173.7,183.7 L172.7,185.0 L171.8,186.8 L170.9,189.1 L170.0,191.5 L169.1,193.7 L168.2,195.1 Z" fill="#4aa9c4" opacity="0.1"/>
<path d="M167.2,193.5 L168.2,189.0 L169.1,183.4 L170.0,178.0 L170.9,173.3 L171.8,169.8 L172.7,167.6 L173.7,166.6 L174.6,166.6 L175.5,167.5 L176.4,169.3 L177.3,171.5 L178.2,173.9 L179.2,176.5 L180.1,179.0 L181.0,181.3 L181.9,183.5 L182.8,185.4 L183.7,187.1 L184.7,188.5 L185.6,189.8 L186.5,190.8 L187.4,191.7 L188.3,192.4 L189.2,193.0 L190.2,193.5 L191.1,193.9 L192.0,194.2 L192.9,194.4 L193.8,194.6 L194.7,194.8 L195.7,194.9 L196.6,195.0 L197.5,195.0 L198.4,195.1 L199.3,195.2 L200.2,195.2 L201.2,195.2 L202.1,195.2 L202.1,195.3 L201.2,195.2 L200.2,195.2 L199.3,195.2 L198.4,195.2 L197.5,195.1 L196.6,195.1 L195.7,195.0 L194.7,194.9 L193.8,194.8 L192.9,194.7 L192.0,194.5 L191.1,194.2 L190.2,194.0 L189.2,193.6 L188.3,193.2 L187.4,192.7 L186.5,192.0 L185.6,191.3 L184.7,190.4 L183.7,189.3 L182.8,188.1 L181.9,186.7 L181.0,185.1 L180.1,183.4 L179.2,181.6 L178.2,179.8 L177.3,178.0 L176.4,176.4 L175.5,175.1 L174.6,174.4 L173.7,174.4 L172.7,175.2 L171.8,176.8 L170.9,179.3 L170.0,182.7 L169.1,186.7 L168.2,190.7 L167.2,194.0 Z" fill="#cd8a50" opacity="0.1"/>
<path d="M165.4,193.1 L166.3,182.9 L167.2,168.9 L168.2,156.4 L169.1,147.8 L170.0,143.7 L170.9,143.4 L171.8,145.9 L172.7,149.9 L173.7,154.9 L174.6,160.2 L175.5,165.4 L176.4,170.3 L177.3,174.6 L178.2,178.4 L179.2,181.7 L180.1,184.4 L181.0,186.7 L181.9,188.5 L182.8,190.0 L183.7,191.2 L184.7,192.1 L185.6,192.8 L186.5,193.4 L187.4,193.9 L188.3,194.2 L189.2,194.5 L190.2,194.7 L191.1,194.8 L192.0,194.9 L192.9,195.0 L193.8,195.1 L194.7,195.2 L195.7,195.2 L196.6,195.2 L197.5,195.2 L197.5,195.3 L196.6,195.2 L195.7,195.2 L194.7,195.2 L193.8,195.2 L192.9,195.1 L192.0,195.0 L191.1,195.0 L190.2,194.8 L189.2,194.7 L188.3,194.5 L187.4,194.2 L186.5,193.9 L185.6,193.5 L184.7,193.0 L183.7,192.3 L182.8,191.4 L181.9,190.3 L181.0,189.0 L180.1,187.4 L179.2,185.4 L178.2,183.0 L177.3,180.3 L176.4,177.1 L175.5,173.6 L174.6,169.8 L173.7,165.9 L172.7,162.3 L171.8,159.3 L170.9,157.6 L170.0,157.7 L169.1,160.7 L168.2,167.0 L167.2,176.1 L166.3,186.3 L165.4,193.7 Z" fill="#34597c" opacity="0.1"/>
<path d="M159.9,195.3 L171.4,195.3 L171.9,194.8 L172.4,193.9 L172.9,192.7 L173.4,191.3 L173.9,189.8 L174.4,188.4 L174.9,187.2 L175.4,186.1 L175.9,185.2 L176.4,184.4 L176.9,183.9 L177.4,183.6 L177.9,183.4 L178.4,183.4 L178.9,183.5 L179.4,183.7 L179.9,184 L180.4,184.3 L180.9,184.8 L181.4,185.2 L181.9,185.7 L182.4,186.3 L182.9,186.8 L183.4,187.3 L183.9,187.8 L184.4,188.3 L184.9,188.8 L185.4,189.3 L185.9,189.8 L186.4,190.2 L186.9,190.6 L187.4,191 L187.9,191.4 L188.4,191.7 L188.9,192 L189.4,192.3 L189.9,192.6 L190.4,192.9 L190.9,193.1 L191.4,193.3 L191.9,193.5 L192.4,193.7 L192.9,193.8 L193.4,194 L193.9,194.1 L194.4,194.2 L194.9,194.3 L195.4,194.4 L195.9,194.5 L196.4,194.6 L196.9,194.7 L197.4,194.8 L197.9,194.8 L198.4,194.9 L198.9,194.9 L199.4,195 L200.4,195 L200.9,195.1 L202.4,195.1 L202.9,195.2 L206.9,195.2 L207.4,195.3 L214.9,195.3" fill="none" stroke="#b8b8b8" stroke-width="0.8" stroke-linejoin="round" opacity="1.0"/>
<path d="M159.9,195.3 L167.9,195.3 L168.4,195 L168.9,194.6 L169.4,194.1 L169.9,193.7 L170.4,193.5 L188.4,193.5 L188.9,193.6 L189.4,193.7 L189.9,193.9 L190.4,194.1 L190.9,194.4 L191.4,194.6 L191.9,194.8 L192.4,195 L192.9,195.2 L193.4,195.3 L214.9,195.3" fill="none" stroke="#dc5690" stroke-width="1.0" stroke-linejoin="round" opacity="1.0"/>
<path d="M159.9,195.3 L167.9,195.3 L168.4,194.8 L168.9,193.8 L169.4,192.4 L169.9,190.9 L170.4,189.2 L170.9,187.5 L171.4,185.9 L171.9,184.4 L172.4,183.1 L172.9,182 L173.4,181.1 L173.9,180.4 L174.4,179.9 L174.9,179.6 L175.4,179.4 L175.9,179.4 L176.4,179.5 L176.9,179.7 L177.4,180 L177.9,180.4 L178.4,180.9 L178.9,181.4 L179.4,181.9 L179.9,182.5 L180.4,183 L180.9,183.6 L181.4,184.2 L181.9,184.8 L182.4,185.4 L182.9,186 L183.4,186.6 L183.9,187.1 L184.4,187.6 L184.9,188.2 L185.4,188.6 L185.9,189.1 L186.4,189.5 L186.9,190 L187.4,190.4 L187.9,190.7 L188.4,191.1 L188.9,191.4 L189.4,191.7 L189.9,192 L190.4,192.3 L190.9,192.5 L191.4,192.7 L191.9,193 L192.4,193.2 L192.9,193.3 L193.4,193.5 L193.9,193.7 L194.4,193.8 L194.9,193.9 L195.4,194.1 L195.9,194.2 L196.4,194.3 L196.9,194.4 L197.4,194.4 L197.9,194.5 L198.4,194.6 L198.9,194.7 L199.4,194.7 L199.9,194.8 L200.4,194.8 L200.9,194.9 L201.9,194.9 L202.4,195 L203.4,195 L203.9,195.1 L205.9,195.1 L206.4,195.2 L210.9,195.2 L211.4,195.3 L214.9,195.3" fill="none" stroke="#4aa9c4" stroke-width="1.0" stroke-linejoin="round" opacity="1.0"/>
<path d="M159.9,195.3 L166.4,195.3 L166.9,194.6 L167.4,193.1 L167.9,190.9 L168.4,188.3 L168.9,185.5 L169.4,182.6 L169.9,180 L170.4,177.5 L170.9,175.3 L171.4,173.4 L171.9,171.9 L172.4,170.7 L172.9,169.9 L173.4,169.3 L173.9,169.1 L174.4,169.1 L174.9,169.4 L175.4,169.9 L175.9,170.7 L176.4,171.6 L176.9,172.7 L177.4,173.8 L177.9,175.1 L178.4,176.3 L178.9,177.6 L179.4,178.8 L179.9,180.1 L180.4,181.3 L180.9,182.4 L181.4,183.5 L181.9,184.6 L182.4,185.5 L182.9,186.5 L183.4,187.3 L183.9,188.1 L184.4,188.8 L184.9,189.5 L185.4,190.1 L185.9,190.7 L186.4,191.2 L186.9,191.6 L187.4,192 L187.9,192.4 L188.4,192.7 L188.9,193 L189.4,193.3 L189.9,193.5 L190.4,193.7 L190.9,193.9 L191.4,194.1 L191.9,194.2 L192.4,194.4 L192.9,194.5 L193.4,194.6 L193.9,194.7 L194.4,194.8 L194.9,194.8 L195.4,194.9 L195.9,194.9 L196.4,195 L196.9,195 L197.4,195.1 L198.9,195.1 L199.4,195.2 L202.4,195.2 L202.9,195.3 L214.9,195.3" fill="none" stroke="#cd8a50" stroke-width="1.0" stroke-linejoin="round" opacity="1.0"/>
<path d="M159.9,195.3 L164.4,195.3 L164.9,195.2 L165.4,193.3 L165.9,189 L166.4,182.9 L166.9,176 L167.4,169 L167.9,162.7 L168.4,157.4 L168.9,153.2 L169.4,150.3 L169.9,148.5 L170.4,147.9 L170.9,148.2 L171.4,149.1 L171.9,150.6 L172.4,152.6 L172.9,154.8 L173.4,157.3 L173.9,159.9 L174.4,162.5 L174.9,165.1 L175.4,167.7 L175.9,170.2 L176.4,172.5 L176.9,174.8 L177.4,176.8 L177.9,178.8 L178.4,180.5 L178.9,182.2 L179.4,183.6 L179.9,185 L180.4,186.2 L180.9,187.3 L181.4,188.2 L181.9,189.1 L182.4,189.9 L182.9,190.6 L183.4,191.2 L183.9,191.7 L184.4,192.2 L184.9,192.6 L185.4,192.9 L185.9,193.3 L186.4,193.5 L186.9,193.8 L187.4,194 L187.9,194.2 L188.4,194.3 L188.9,194.5 L189.4,194.6 L189.9,194.7 L190.4,194.8 L190.9,194.8 L191.4,194.9 L191.9,195 L192.4,195 L192.9,195.1 L194.4,195.1 L194.9,195.2 L197.4,195.2 L197.9,195.3 L214.9,195.3" fill="none" stroke="#34597c" stroke-width="1.2" stroke-linejoin="round" opacity="1.0"/>
<path d="M155.70,144.00 L155.70,197.80 L216.80,197.80" fill="none" stroke="#383838" stroke-width="1.4"/>
<path d="M152.70,195.30 L155.70,195.30 M152.70,177.20 L155.70,177.20 M152.70,159.10 L155.70,159.10 M158.50,197.80 L158.50,200.50 M172.60,197.80 L172.60,200.50 M186.70,197.80 L186.70,200.50 M200.80,197.80 L200.80,200.50 M214.90,197.80 L214.90,200.50" stroke="#383838" stroke-width="1"/>
<g font-family='"Liberation Sans", sans-serif' font-size="6.5" fill="#2a2a2a" stroke="#2a2a2a">
<text x="149.90" y="197.65" text-anchor="end">0</text>
<text x="149.90" y="179.55" text-anchor="end">100</text>
<text x="149.90" y="161.45" text-anchor="end">200</text>
<text x="158.50" y="209.80" text-anchor="middle">0</text>
<text x="172.60" y="209.80" text-anchor="middle">10</text>
<text x="186.70" y="209.80" text-anchor="middle">20</text>
<text x="200.80" y="209.80" text-anchor="middle">30</text>
<text x="214.90" y="209.80" text-anchor="middle">40</text>
</g>
<line x1="255.70" y1="184.50" x2="314.50" y2="184.50" stroke="#3a3a3a" stroke-width="1.15" stroke-dasharray="7.6 4.1" stroke-dashoffset="3.9"/>
<path d="M270.5,194.4 L271.4,192.9 L272.3,191.1 L273.3,189.3 L274.2,187.7 L275.1,186.3 L276.0,185.3 L276.9,184.5 L277.8,184.0 L278.8,183.8 L279.7,183.8 L280.6,184.0 L281.5,184.3 L282.4,184.8 L283.3,185.3 L284.3,186.0 L285.2,186.6 L286.1,187.3 L287.0,188.0 L287.9,188.6 L288.8,189.2 L289.8,189.8 L290.7,190.4 L291.6,190.9 L292.5,191.4 L293.4,191.8 L294.3,192.2 L295.3,192.6 L296.2,192.9 L297.1,193.2 L298.0,193.5 L298.9,193.7 L299.8,193.9 L300.8,194.1 L301.7,194.2 L302.6,194.4 L303.5,194.5 L304.4,194.6 L305.3,194.7 L306.3,194.8 L307.2,194.9 L308.1,194.9 L309.0,195.0 L309.9,195.0 L310.8,195.1 L311.8,195.1 L312.7,195.1 L313.6,195.2 L314.5,195.2 L314.5,195.2 L313.6,195.2 L312.7,195.2 L311.8,195.2 L310.8,195.1 L309.9,195.1 L309.0,195.1 L308.1,195.0 L307.2,195.0 L306.3,194.9 L305.3,194.9 L304.4,194.8 L303.5,194.7 L302.6,194.6 L301.7,194.5 L300.8,194.4 L299.8,194.3 L298.9,194.1 L298.0,194.0 L297.1,193.8 L296.2,193.6 L295.3,193.3 L294.3,193.1 L293.4,192.8 L292.5,192.5 L291.6,192.1 L290.7,191.7 L289.8,191.3 L288.8,190.9 L287.9,190.4 L287.0,190.0 L286.1,189.5 L285.2,189.0 L284.3,188.5 L283.3,188.1 L282.4,187.7 L281.5,187.3 L280.6,187.1 L279.7,186.9 L278.8,186.9 L277.8,187.1 L276.9,187.4 L276.0,188.0 L275.1,188.8 L274.2,189.8 L273.3,190.9 L272.3,192.2 L271.4,193.5 L270.5,194.7 Z" fill="#b8b8b8" opacity="0.1"/>
<path d="M269.6,194.8 L270.5,193.0 L271.4,190.2 L272.3,187.1 L273.3,183.9 L274.2,181.1 L275.1,178.7 L276.0,176.9 L276.9,175.7 L277.8,175.1 L278.8,175.0 L279.7,175.4 L280.6,176.1 L281.5,177.2 L282.4,178.4 L283.3,179.8 L284.3,181.2 L285.2,182.6 L286.1,184.0 L287.0,185.4 L287.9,186.6 L288.8,187.7 L289.8,188.7 L290.7,189.7 L291.6,190.5 L292.5,191.2 L293.4,191.8 L294.3,192.4 L295.3,192.8 L296.2,193.2 L297.1,193.6 L298.0,193.9 L298.9,194.1 L299.8,194.3 L300.8,194.5 L301.7,194.6 L302.6,194.7 L303.5,194.8 L304.4,194.9 L305.3,195.0 L306.3,195.1 L307.2,195.1 L308.1,195.1 L309.0,195.2 L309.9,195.2 L310.8,195.2 L311.8,195.2 L311.8,195.2 L310.8,195.2 L309.9,195.2 L309.0,195.2 L308.1,195.2 L307.2,195.2 L306.3,195.1 L305.3,195.1 L304.4,195.0 L303.5,195.0 L302.6,194.9 L301.7,194.8 L300.8,194.7 L299.8,194.6 L298.9,194.4 L298.0,194.3 L297.1,194.0 L296.2,193.8 L295.3,193.5 L294.3,193.2 L293.4,192.8 L292.5,192.3 L291.6,191.8 L290.7,191.2 L289.8,190.5 L288.8,189.8 L287.9,189.0 L287.0,188.1 L286.1,187.1 L285.2,186.1 L284.3,185.1 L283.3,184.0 L282.4,183.0 L281.5,182.1 L280.6,181.3 L279.7,180.8 L278.8,180.5 L277.8,180.6 L276.9,181.1 L276.0,181.9 L275.1,183.2 L274.2,184.9 L273.3,187.0 L272.3,189.3 L271.4,191.6 L270.5,193.6 L269.6,194.9 Z" fill="#dc5690" opacity="0.1"/>
<path d="M268.7,194.9 L269.6,192.1 L270.5,187.3 L271.4,181.9 L272.3,176.9 L273.3,172.8 L274.2,169.9 L275.1,168.3 L276.0,167.8 L276.9,168.3 L277.8,169.6 L278.8,171.4 L279.7,173.5 L280.6,175.8 L281.5,178.1 L282.4,180.4 L283.3,182.5 L284.3,184.4 L285.2,186.1 L286.1,187.6 L287.0,188.9 L287.9,190.0 L288.8,191.0 L289.8,191.8 L290.7,192.4 L291.6,193.0 L292.5,193.4 L293.4,193.8 L294.3,194.1 L295.3,194.4 L296.2,194.5 L297.1,194.7 L298.0,194.8 L298.9,194.9 L299.8,195.0 L300.8,195.1 L301.7,195.1 L302.6,195.2 L303.5,195.2 L304.4,195.2 L305.3,195.2 L305.3,195.3 L304.4,195.2 L303.5,195.2 L302.6,195.2 L301.7,195.2 L300.8,195.1 L299.8,195.1 L298.9,195.0 L298.0,195.0 L297.1,194.9 L296.2,194.8 L295.3,194.6 L294.3,194.4 L293.4,194.2 L292.5,193.9 L291.6,193.6 L290.7,193.2 L289.8,192.7 L288.8,192.2 L287.9,191.5 L287.0,190.6 L286.1,189.7 L285.2,188.6 L284.3,187.4 L283.3,186.0 L282.4,184.4 L281.5,182.8 L280.6,181.1 L279.7,179.5 L278.8,177.9 L277.8,176.6 L276.9,175.7 L276.0,175.3 L275.1,175.7 L274.2,176.9 L273.3,178.9 L272.3,181.9 L271.4,185.6 L270.5,189.5 L269.6,193.0 L268.7,195.0 Z" fill="#4aa9c4" opacity="0.1"/>
<path d="M268.7,194.7 L269.6,190.1 L270.5,182.3 L271.4,173.8 L272.3,166.3 L273.3,160.9 L274.2,157.7 L275.1,156.7 L276.0,157.5 L276.9,159.8 L277.8,163.0 L278.8,166.8 L279.7,170.7 L280.6,174.5 L281.5,177.9 L282.4,181.1 L283.3,183.8 L284.3,186.1 L285.2,188.0 L286.1,189.5 L287.0,190.8 L287.9,191.8 L288.8,192.6 L289.8,193.3 L290.7,193.7 L291.6,194.1 L292.5,194.4 L293.4,194.6 L294.3,194.8 L295.3,194.9 L296.2,195.0 L297.1,195.1 L298.0,195.2 L298.9,195.2 L299.8,195.2 L299.8,195.2 L298.9,195.2 L298.0,195.2 L297.1,195.2 L296.2,195.1 L295.3,195.0 L294.3,194.9 L293.4,194.8 L292.5,194.7 L291.6,194.4 L290.7,194.2 L289.8,193.8 L288.8,193.4 L287.9,192.8 L287.0,192.0 L286.1,191.1 L285.2,190.0 L284.3,188.6 L283.3,186.9 L282.4,184.9 L281.5,182.7 L280.6,180.1 L279.7,177.4 L278.8,174.6 L277.8,171.8 L276.9,169.5 L276.0,167.8 L275.1,167.2 L274.2,168.0 L273.3,170.3 L272.3,174.2 L271.4,179.7 L270.5,185.8 L269.6,191.5 L268.7,194.9 Z" fill="#34597c" opacity="0.1"/>
<path d="M259.5,195.3 L269.5,195.3 L270,195 L270.5,194.5 L271,193.8 L271.5,193 L272,192.1 L272.5,191.2 L273,190.3 L273.5,189.4 L274,188.6 L274.5,187.9 L275,187.2 L275.5,186.7 L276,186.2 L276.5,185.8 L277,185.4 L277.5,185.2 L278,185 L278.5,184.9 L279,184.8 L279.5,184.8 L280,184.9 L280.5,185 L281,185.1 L281.5,185.3 L282,185.5 L282.5,185.8 L283,186.1 L283.5,186.4 L284,186.7 L284.5,187 L285,187.3 L285.5,187.6 L286,188 L286.5,188.3 L287,188.6 L287.5,189 L288,189.3 L288.5,189.6 L289,189.9 L289.5,190.2 L290,190.5 L290.5,190.7 L291,191 L291.5,191.3 L292,191.5 L292.5,191.7 L293,192 L293.5,192.2 L294,192.4 L294.5,192.6 L295,192.7 L295.5,192.9 L296,193.1 L296.5,193.2 L297,193.4 L297.5,193.5 L298,193.6 L298.5,193.7 L299,193.9 L299.5,194 L300,194.1 L300.5,194.1 L301,194.2 L301.5,194.3 L302,194.4 L302.5,194.5 L303,194.5 L303.5,194.6 L304,194.6 L304.5,194.7 L305,194.7 L305.5,194.8 L306,194.8 L306.5,194.9 L307.5,194.9 L308,195 L309.5,195 L310,195.1 L312.5,195.1 L313,195.2 L314.5,195.2" fill="none" stroke="#b8b8b8" stroke-width="0.8" stroke-linejoin="round" opacity="1.0"/>
<path d="M259.5,195.3 L269,195.3 L269.5,194.9 L270,194.2 L270.5,193.2 L271,191.9 L271.5,190.5 L272,188.9 L272.5,187.3 L273,185.7 L273.5,184.2 L274,182.8 L274.5,181.5 L275,180.4 L275.5,179.4 L276,178.6 L276.5,177.9 L277,177.5 L277.5,177.1 L278,176.9 L278.5,176.8 L279,176.9 L279.5,177.1 L280,177.4 L280.5,177.8 L281,178.3 L281.5,178.8 L282,179.4 L282.5,180.1 L283,180.7 L283.5,181.4 L284,182.1 L284.5,182.9 L285,183.6 L285.5,184.3 L286,184.9 L286.5,185.6 L287,186.3 L287.5,186.9 L288,187.5 L288.5,188 L289,188.6 L289.5,189.1 L290,189.6 L290.5,190 L291,190.5 L291.5,190.9 L292,191.2 L292.5,191.6 L293,191.9 L293.5,192.2 L294,192.5 L294.5,192.7 L295,192.9 L295.5,193.2 L296,193.4 L296.5,193.5 L297,193.7 L297.5,193.9 L298,194 L298.5,194.1 L299,194.2 L299.5,194.3 L300,194.4 L300.5,194.5 L301,194.6 L301.5,194.7 L302,194.7 L302.5,194.8 L303,194.8 L303.5,194.9 L304,194.9 L304.5,195 L305.5,195 L306,195.1 L308,195.1 L308.5,195.2 L312.5,195.2 L313,195.3 L314.5,195.3" fill="none" stroke="#dc5690" stroke-width="1.0" stroke-linejoin="round" opacity="1.0"/>
<path d="M259.5,195.3 L268,195.3 L268.5,195.1 L269,194.3 L269.5,192.7 L270,190.6 L270.5,188.1 L271,185.4 L271.5,182.7 L272,180.1 L272.5,177.8 L273,175.7 L273.5,174 L274,172.6 L274.5,171.6 L275,170.9 L275.5,170.5 L276,170.3 L276.5,170.5 L277,170.8 L277.5,171.4 L278,172.2 L278.5,173.1 L279,174.1 L279.5,175.1 L280,176.2 L280.5,177.4 L281,178.5 L281.5,179.7 L282,180.8 L282.5,181.9 L283,183 L283.5,184 L284,184.9 L284.5,185.8 L285,186.7 L285.5,187.4 L286,188.2 L286.5,188.9 L287,189.5 L287.5,190.1 L288,190.6 L288.5,191.1 L289,191.5 L289.5,191.9 L290,192.3 L290.5,192.6 L291,192.9 L291.5,193.2 L292,193.4 L292.5,193.6 L293,193.8 L293.5,194 L294,194.1 L294.5,194.3 L295,194.4 L295.5,194.5 L296,194.6 L296.5,194.7 L297,194.7 L297.5,194.8 L298,194.9 L298.5,194.9 L299,195 L300,195 L300.5,195.1 L301.5,195.1 L302,195.2 L305.5,195.2 L306,195.3 L314.5,195.3" fill="none" stroke="#4aa9c4" stroke-width="1.0" stroke-linejoin="round" opacity="1.0"/>
<path d="M259.5,195.3 L268,195.3 L268.5,195.1 L269,193.7 L269.5,191.1 L270,187.6 L270.5,183.5 L271,179.2 L271.5,175.1 L272,171.3 L272.5,167.9 L273,165.2 L273.5,163.1 L274,161.5 L274.5,160.6 L275,160.2 L275.5,160.3 L276,160.9 L276.5,161.9 L277,163.2 L277.5,164.8 L278,166.6 L278.5,168.4 L279,170.3 L279.5,172.3 L280,174.2 L280.5,176.1 L281,177.8 L281.5,179.5 L282,181.1 L282.5,182.6 L283,184 L283.5,185.2 L284,186.4 L284.5,187.4 L285,188.3 L285.5,189.2 L286,189.9 L286.5,190.6 L287,191.2 L287.5,191.7 L288,192.2 L288.5,192.6 L289,193 L289.5,193.3 L290,193.6 L290.5,193.8 L291,194 L291.5,194.2 L292,194.4 L292.5,194.5 L293,194.6 L293.5,194.7 L294,194.8 L294.5,194.9 L295,194.9 L295.5,195 L296,195 L296.5,195.1 L297.5,195.1 L298,195.2 L300.5,195.2 L301,195.3 L314.5,195.3" fill="none" stroke="#34597c" stroke-width="1.2" stroke-linejoin="round" opacity="1.0"/>
<path d="M255.70,144.00 L255.70,197.80 L316.40,197.80" fill="none" stroke="#383838" stroke-width="1.4"/>
<path d="M252.30,195.30 L255.70,195.30 M252.30,177.20 L255.70,177.20 M252.30,159.10 L255.70,159.10 M258.10,197.80 L258.10,200.50 M272.20,197.80 L272.20,200.50 M286.30,197.80 L286.30,200.50 M300.40,197.80 L300.40,200.50 M314.50,197.80 L314.50,200.50" stroke="#383838" stroke-width="1"/>
<g font-family='"Liberation Sans", sans-serif' font-size="6.5" fill="#2a2a2a" stroke="#2a2a2a">
<text x="249.50" y="197.65" text-anchor="end">0</text>
<text x="249.50" y="179.55" text-anchor="end">100</text>
<text x="249.50" y="161.45" text-anchor="end">200</text>
<text x="258.10" y="209.80" text-anchor="middle">0</text>
<text x="272.20" y="209.80" text-anchor="middle">10</text>
<text x="286.30" y="209.80" text-anchor="middle">20</text>
<text x="300.40" y="209.80" text-anchor="middle">30</text>
<text x="314.50" y="209.80" text-anchor="middle">40</text>
</g>
<line x1="352.90" y1="185.50" x2="411.80" y2="185.50" stroke="#3a3a3a" stroke-width="1.15" stroke-dasharray="7.6 4.1" stroke-dashoffset="3.9"/>
<path d="M368.7,195.0 L369.6,193.6 L370.6,191.9 L371.5,190.0 L372.4,188.3 L373.3,186.9 L374.2,185.8 L375.1,185.0 L376.1,184.6 L377.0,184.4 L377.9,184.4 L378.8,184.7 L379.7,185.1 L380.6,185.6 L381.6,186.2 L382.5,186.9 L383.4,187.5 L384.3,188.2 L385.2,188.9 L386.1,189.5 L387.1,190.1 L388.0,190.7 L388.9,191.2 L389.8,191.7 L390.7,192.1 L391.6,192.5 L392.6,192.9 L393.5,193.2 L394.4,193.5 L395.3,193.7 L396.2,193.9 L397.1,194.1 L398.1,194.3 L399.0,194.4 L399.9,194.6 L400.8,194.7 L401.7,194.8 L402.6,194.8 L403.6,194.9 L404.5,195.0 L405.4,195.0 L406.3,195.1 L407.2,195.1 L408.1,195.1 L409.1,195.2 L410.0,195.2 L410.9,195.2 L411.8,195.2 L411.8,195.2 L410.9,195.2 L410.0,195.2 L409.1,195.2 L408.1,195.2 L407.2,195.2 L406.3,195.1 L405.4,195.1 L404.5,195.1 L403.6,195.0 L402.6,195.0 L401.7,194.9 L400.8,194.8 L399.9,194.8 L399.0,194.7 L398.1,194.6 L397.1,194.4 L396.2,194.3 L395.3,194.2 L394.4,194.0 L393.5,193.8 L392.6,193.5 L391.6,193.3 L390.7,193.0 L389.8,192.7 L388.9,192.3 L388.0,192.0 L387.1,191.5 L386.1,191.1 L385.2,190.6 L384.3,190.2 L383.4,189.7 L382.5,189.2 L381.6,188.7 L380.6,188.2 L379.7,187.9 L378.8,187.6 L377.9,187.4 L377.0,187.3 L376.1,187.5 L375.1,187.8 L374.2,188.4 L373.3,189.2 L372.4,190.2 L371.5,191.5 L370.6,192.8 L369.6,194.1 L368.7,195.1 Z" fill="#b8b8b8" opacity="0.1"/>
<path d="M375.1,195.0 L376.1,194.7 L377.0,194.4 L377.9,194.1 L378.8,193.8 L379.7,193.6 L380.6,193.3 L381.6,193.1 L382.5,193.0 L383.4,192.8 L384.3,192.7 L385.2,192.6 L386.1,192.6 L387.1,192.5 L388.0,192.5 L388.9,192.5 L389.8,192.6 L390.7,192.6 L391.6,192.7 L392.6,192.8 L393.5,192.9 L394.4,193.0 L395.3,193.2 L396.2,193.3 L397.1,193.4 L398.1,193.6 L399.0,193.7 L399.9,193.8 L400.8,193.9 L401.7,194.1 L402.6,194.2 L403.6,194.3 L404.5,194.4 L405.4,194.5 L406.3,194.5 L407.2,194.6 L408.1,194.7 L409.1,194.8 L410.0,194.8 L410.9,194.9 L411.8,194.9 L411.8,195.0 L410.9,195.0 L410.0,194.9 L409.1,194.9 L408.1,194.9 L407.2,194.8 L406.3,194.8 L405.4,194.7 L404.5,194.6 L403.6,194.6 L402.6,194.5 L401.7,194.4 L400.8,194.3 L399.9,194.2 L399.0,194.1 L398.1,194.0 L397.1,193.9 L396.2,193.8 L395.3,193.8 L394.4,193.7 L393.5,193.6 L392.6,193.5 L391.6,193.4 L390.7,193.4 L389.8,193.3 L388.9,193.3 L388.0,193.3 L387.1,193.3 L386.1,193.3 L385.2,193.4 L384.3,193.4 L383.4,193.5 L382.5,193.6 L381.6,193.7 L380.6,193.9 L379.7,194.0 L378.8,194.2 L377.9,194.4 L377.0,194.7 L376.1,194.9 L375.1,195.1 Z" fill="#dc5690" opacity="0.1"/>
<path d="M372.4,195.0 L372.8,194.7 L373.3,194.3 L373.8,193.8 L374.2,193.3 L374.7,192.8 L375.1,192.3 L375.6,191.8 L376.1,191.3 L376.5,190.9 L377.0,190.5 L377.4,190.1 L377.9,189.8 L378.3,189.6 L378.8,189.4 L379.3,189.2 L379.7,189.0 L380.2,188.9 L380.6,188.9 L381.1,188.9 L381.6,188.9 L382.0,188.9 L382.5,188.9 L382.9,189.0 L383.4,189.1 L383.8,189.2 L384.3,189.3 L384.8,189.5 L385.2,189.6 L385.7,189.8 L386.1,189.9 L386.6,190.1 L387.1,190.3 L387.5,190.5 L388.0,190.6 L388.4,190.8 L388.9,191.0 L389.3,191.2 L389.8,191.3 L390.3,191.5 L390.7,191.7 L391.2,191.8 L391.6,192.0 L392.1,192.2 L392.6,192.3 L393.0,192.5 L393.5,192.6 L393.9,192.7 L394.4,192.9 L394.8,193.0 L395.3,193.1 L395.8,193.2 L396.2,193.4 L396.7,193.5 L397.1,193.6 L397.6,193.7 L398.1,193.8 L398.5,193.9 L399.0,193.9 L399.4,194.0 L399.9,194.1 L400.3,194.2 L400.8,194.2 L401.3,194.3 L401.7,194.4 L402.2,194.4 L402.6,194.5 L403.1,194.5 L403.6,194.6 L404.0,194.6 L404.5,194.7 L404.9,194.7 L405.4,194.7 L405.8,194.8 L406.3,194.8 L406.8,194.8 L407.2,194.9 L407.7,194.9 L408.1,194.9 L408.6,195.0 L409.1,195.0 L409.5,195.0 L410.0,195.0 L410.4,195.0 L410.9,195.1 L411.3,195.1 L411.8,195.1 L411.8,195.1 L411.3,195.1 L410.9,195.1 L410.4,195.1 L410.0,195.1 L409.5,195.1 L409.1,195.1 L408.6,195.0 L408.1,195.0 L407.7,195.0 L407.2,195.0 L406.8,195.0 L406.3,194.9 L405.8,194.9 L405.4,194.9 L404.9,194.9 L404.5,194.8 L404.0,194.8 L403.6,194.8 L403.1,194.7 L402.6,194.7 L402.2,194.6 L401.7,194.6 L401.3,194.6 L400.8,194.5 L400.3,194.5 L399.9,194.4 L399.4,194.4 L399.0,194.3 L398.5,194.2 L398.1,194.2 L397.6,194.1 L397.1,194.0 L396.7,193.9 L396.2,193.9 L395.8,193.8 L395.3,193.7 L394.8,193.6 L394.4,193.5 L393.9,193.4 L393.5,193.3 L393.0,193.2 L392.6,193.1 L392.1,193.0 L391.6,192.9 L391.2,192.7 L390.7,192.6 L390.3,192.5 L389.8,192.4 L389.3,192.2 L388.9,192.1 L388.4,192.0 L388.0,191.8 L387.5,191.7 L387.1,191.6 L386.6,191.5 L386.1,191.3 L385.7,191.2 L385.2,191.1 L384.8,191.0 L384.3,190.9 L383.8,190.8 L383.4,190.7 L382.9,190.6 L382.5,190.6 L382.0,190.5 L381.6,190.5 L381.1,190.5 L380.6,190.5 L380.2,190.6 L379.7,190.7 L379.3,190.8 L378.8,190.9 L378.3,191.1 L377.9,191.3 L377.4,191.5 L377.0,191.7 L376.5,192.0 L376.1,192.3 L375.6,192.7 L375.1,193.1 L374.7,193.4 L374.2,193.8 L373.8,194.2 L373.3,194.5 L372.8,194.9 L372.4,195.1 Z" fill="#cfeaf4" opacity="0.8"/>
<path d="M370.6,194.5 L371.5,192.8 L372.4,190.7 L373.3,188.6 L374.2,186.8 L375.1,185.4 L376.1,184.5 L377.0,184.1 L377.9,184.0 L378.8,184.2 L379.7,184.6 L380.6,185.1 L381.6,185.8 L382.5,186.6 L383.4,187.3 L384.3,188.1 L385.2,188.8 L386.1,189.6 L387.1,190.2 L388.0,190.8 L388.9,191.4 L389.8,191.9 L390.7,192.3 L391.6,192.8 L392.6,193.1 L393.5,193.4 L394.4,193.7 L395.3,193.9 L396.2,194.1 L397.1,194.3 L398.1,194.5 L399.0,194.6 L399.9,194.7 L400.8,194.8 L401.7,194.9 L402.6,194.9 L403.6,195.0 L404.5,195.1 L405.4,195.1 L406.3,195.1 L407.2,195.2 L408.1,195.2 L409.1,195.2 L410.0,195.2 L410.9,195.2 L410.9,195.3 L410.0,195.2 L409.1,195.2 L408.1,195.2 L407.2,195.2 L406.3,195.2 L405.4,195.2 L404.5,195.1 L403.6,195.1 L402.6,195.0 L401.7,195.0 L400.8,194.9 L399.9,194.9 L399.0,194.8 L398.1,194.7 L397.1,194.6 L396.2,194.5 L395.3,194.3 L394.4,194.1 L393.5,193.9 L392.6,193.7 L391.6,193.4 L390.7,193.2 L389.8,192.8 L388.9,192.5 L388.0,192.1 L387.1,191.6 L386.1,191.1 L385.2,190.6 L384.3,190.1 L383.4,189.5 L382.5,189.0 L381.6,188.4 L380.6,187.9 L379.7,187.5 L378.8,187.2 L377.9,187.1 L377.0,187.1 L376.1,187.5 L375.1,188.1 L374.2,189.1 L373.3,190.4 L372.4,192.0 L371.5,193.5 L370.6,194.7 Z" fill="#cd8a50" opacity="0.1"/>
<path d="M369.6,194.8 L370.6,192.4 L371.5,189.0 L372.4,185.4 L373.3,182.4 L374.2,180.1 L375.1,178.6 L376.1,178.0 L377.0,178.1 L377.9,178.6 L378.8,179.5 L379.7,180.7 L380.6,181.9 L381.6,183.2 L382.5,184.6 L383.4,185.8 L384.3,187.0 L385.2,188.1 L386.1,189.1 L387.1,190.0 L388.0,190.8 L388.9,191.5 L389.8,192.1 L390.7,192.6 L391.6,193.0 L392.6,193.4 L393.5,193.7 L394.4,194.0 L395.3,194.2 L396.2,194.4 L397.1,194.6 L398.1,194.7 L399.0,194.8 L399.9,194.9 L400.8,195.0 L401.7,195.0 L402.6,195.1 L403.6,195.1 L404.5,195.2 L405.4,195.2 L406.3,195.2 L407.2,195.2 L407.2,195.2 L406.3,195.2 L405.4,195.2 L404.5,195.2 L403.6,195.2 L402.6,195.1 L401.7,195.1 L400.8,195.1 L399.9,195.0 L399.0,194.9 L398.1,194.9 L397.1,194.8 L396.2,194.7 L395.3,194.5 L394.4,194.4 L393.5,194.2 L392.6,193.9 L391.6,193.7 L390.7,193.3 L389.8,193.0 L388.9,192.5 L388.0,192.0 L387.1,191.5 L386.1,190.8 L385.2,190.1 L384.3,189.3 L383.4,188.4 L382.5,187.5 L381.6,186.5 L380.6,185.6 L379.7,184.7 L378.8,183.8 L377.9,183.2 L377.0,182.8 L376.1,182.7 L375.1,183.2 L374.2,184.2 L373.3,185.9 L372.4,188.1 L371.5,190.7 L370.6,193.2 L369.6,194.9 Z" fill="#2c4866" opacity="0.1"/>
<path d="M356.8,195.3 L368.3,195.3 L368.8,194.9 L369.3,194.3 L369.8,193.5 L370.3,192.6 L370.8,191.7 L371.3,190.8 L371.8,189.9 L372.3,189.1 L372.8,188.3 L373.3,187.7 L373.8,187.1 L374.3,186.6 L374.8,186.2 L375.3,185.9 L375.8,185.6 L376.3,185.5 L376.8,185.4 L377.3,185.3 L377.8,185.4 L378.3,185.5 L378.8,185.6 L379.3,185.8 L379.8,186 L380.3,186.3 L380.8,186.6 L381.3,186.9 L381.8,187.2 L382.3,187.5 L382.8,187.9 L383.3,188.2 L383.8,188.5 L384.3,188.9 L384.8,189.2 L385.3,189.5 L385.8,189.9 L386.3,190.2 L386.8,190.5 L387.3,190.8 L387.8,191 L388.3,191.3 L388.8,191.6 L389.3,191.8 L389.8,192 L390.3,192.3 L390.8,192.5 L391.3,192.7 L391.8,192.8 L392.3,193 L392.8,193.2 L393.3,193.3 L393.8,193.5 L394.3,193.6 L394.8,193.7 L395.3,193.9 L395.8,194 L396.3,194.1 L396.8,194.2 L397.3,194.3 L397.8,194.3 L398.3,194.4 L398.8,194.5 L399.3,194.6 L399.8,194.6 L400.3,194.7 L400.8,194.7 L401.3,194.8 L401.8,194.8 L402.3,194.9 L403.3,194.9 L403.8,195 L405.3,195 L405.8,195.1 L407.8,195.1 L408.3,195.2 L411.8,195.2" fill="none" stroke="#b8b8b8" stroke-width="0.8" stroke-linejoin="round" opacity="1.0"/>
<path d="M356.8,195.3 L373.8,195.3 L374.3,195.2 L374.8,195.1 L375.3,195 L375.8,194.9 L376.3,194.7 L376.8,194.6 L377.3,194.4 L377.8,194.3 L378.3,194.1 L378.8,194 L379.3,193.8 L379.8,193.7 L380.3,193.6 L380.8,193.5 L381.3,193.4 L381.8,193.3 L382.3,193.2 L382.8,193.1 L383.3,193.1 L383.8,193 L384.3,192.9 L385.3,192.9 L385.8,192.8 L390.3,192.8 L390.8,192.9 L391.3,192.9 L391.8,193 L392.3,193 L392.8,193.1 L393.3,193.1 L393.8,193.2 L394.3,193.2 L394.8,193.3 L395.3,193.4 L395.8,193.4 L396.3,193.5 L396.8,193.6 L397.3,193.6 L397.8,193.7 L398.3,193.8 L398.8,193.8 L399.3,193.9 L399.8,194 L400.3,194 L400.8,194.1 L401.3,194.1 L401.8,194.2 L402.3,194.2 L402.8,194.3 L403.3,194.3 L403.8,194.4 L404.3,194.4 L404.8,194.5 L405.3,194.5 L405.8,194.6 L406.3,194.6 L406.8,194.7 L407.8,194.7 L408.3,194.8 L409.8,194.8 L410.3,194.9 L411.8,194.9" fill="none" stroke="#dc5690" stroke-width="1.0" stroke-linejoin="round" opacity="1.0"/>
<path d="M356.8,195.3 L371.8,195.3 L372.3,195.1 L372.8,194.8 L373.3,194.4 L373.8,193.9 L374.3,193.4 L374.8,192.8 L375.3,192.3 L375.8,191.8 L376.3,191.4 L376.8,191 L377.3,190.6 L377.8,190.3 L378.3,190 L378.8,189.8 L379.3,189.6 L379.8,189.5 L380.3,189.4 L380.8,189.3 L381.8,189.3 L382.3,189.4 L382.8,189.4 L383.3,189.5 L383.8,189.6 L384.3,189.8 L384.8,189.9 L385.3,190.1 L385.8,190.2 L386.3,190.4 L386.8,190.6 L387.3,190.7 L387.8,190.9 L388.3,191.1 L388.8,191.3 L389.3,191.5 L389.8,191.6 L390.3,191.8 L390.8,192 L391.3,192.1 L391.8,192.3 L392.3,192.5 L392.8,192.6 L393.3,192.8 L393.8,192.9 L394.3,193 L394.8,193.2 L395.3,193.3 L395.8,193.4 L396.3,193.5 L396.8,193.6 L397.3,193.7 L397.8,193.8 L398.3,193.9 L398.8,194 L399.3,194.1 L399.8,194.2 L400.3,194.2 L400.8,194.3 L401.3,194.4 L401.8,194.4 L402.3,194.5 L402.8,194.6 L403.3,194.6 L403.8,194.7 L404.8,194.7 L405.3,194.8 L405.8,194.8 L406.3,194.9 L407.8,194.9 L408.3,195 L409.8,195 L410.3,195.1 L411.8,195.1" fill="none" stroke="#4aa9c4" stroke-width="1.0" stroke-linejoin="round" opacity="1.0"/>
<path d="M356.8,195.3 L369.8,195.3 L370.3,194.9 L370.8,194.2 L371.3,193.4 L371.8,192.4 L372.3,191.3 L372.8,190.2 L373.3,189.2 L373.8,188.3 L374.3,187.5 L374.8,186.7 L375.3,186.2 L375.8,185.7 L376.3,185.4 L376.8,185.1 L377.3,185 L378.3,185 L378.8,185.2 L379.3,185.4 L379.8,185.6 L380.3,185.9 L380.8,186.2 L381.3,186.5 L381.8,186.9 L382.3,187.2 L382.8,187.6 L383.3,188 L383.8,188.4 L384.3,188.8 L384.8,189.1 L385.3,189.5 L385.8,189.8 L386.3,190.2 L386.8,190.5 L387.3,190.8 L387.8,191.1 L388.3,191.4 L388.8,191.7 L389.3,192 L389.8,192.2 L390.3,192.4 L390.8,192.7 L391.3,192.9 L391.8,193 L392.3,193.2 L392.8,193.4 L393.3,193.5 L393.8,193.7 L394.3,193.8 L394.8,193.9 L395.3,194.1 L395.8,194.2 L396.3,194.3 L396.8,194.3 L397.3,194.4 L397.8,194.5 L398.3,194.6 L398.8,194.6 L399.3,194.7 L399.8,194.7 L400.3,194.8 L400.8,194.8 L401.3,194.9 L401.8,194.9 L402.3,195 L403.8,195 L404.3,195.1 L406.3,195.1 L406.8,195.2 L411.8,195.2" fill="none" stroke="#cd8a50" stroke-width="1.0" stroke-linejoin="round" opacity="1.0"/>
<path d="M378,185 L378.5,185.1 L379,185.2 L379.5,185.4 L380,185.7 L380.5,186 L381,186.3 L381.5,186.6 L382,187 L382.5,187.4 L383,187.8 L383.5,188.2 L384,188.5 L384.5,188.9 L385,189.3 L385.5,189.7 L386,190 L386.5,190.4 L387.1,190.7 L387.6,191 L388.1,191.3 L388.6,191.6 L389.1,191.8 L389.6,192.1 L390.1,192.3 L390.6,192.6 L391.1,192.8 L391.6,193 L392.1,193.2 L392.6,193.3 L393.1,193.5 L393.6,193.6 L394.1,193.8 L394.6,193.9 L395.1,194 L395.6,194.1 L396.1,194.2 L396.6,194.3 L397.2,194.4 L397.7,194.5 L398.2,194.6 L398.7,194.6 L399.2,194.7 L399.7,194.7 L400.2,194.8 L400.7,194.8 L401.2,194.9 L401.7,194.9 L402.2,195 L403.7,195 L404.2,195.1 L406.2,195.1 L406.7,195.2 L411.8,195.2" fill="none" stroke="#4a4d52" stroke-width="1.0" stroke-linejoin="round" opacity="1.0"/>
<path d="M356.8,195.3 L368.8,195.3 L369.3,195.2 L369.8,194.5 L370.3,193.4 L370.8,191.9 L371.3,190.1 L371.8,188.3 L372.3,186.6 L372.8,185 L373.3,183.5 L373.8,182.3 L374.3,181.3 L374.8,180.5 L375.3,180 L375.8,179.7 L376.3,179.6 L376.8,179.6 L377.3,179.8 L377.8,180.1 L378.3,180.5 L378.8,181 L379.3,181.5 L379.8,182.1 L380.3,182.7 L380.8,183.4 L381.3,184 L381.8,184.7 L382.3,185.3 L382.8,186 L383.3,186.6 L383.8,187.2 L384.3,187.8 L384.8,188.3 L385.3,188.9 L385.8,189.4 L386.3,189.8 L386.8,190.3 L387.3,190.7 L387.8,191.1 L388.3,191.4 L388.8,191.8 L389.3,192.1 L389.8,192.4 L390.3,192.6 L390.8,192.9 L391.3,193.1 L391.8,193.3 L392.3,193.5 L392.8,193.7 L393.3,193.8 L393.8,194 L394.3,194.1 L394.8,194.2 L395.3,194.3 L395.8,194.4 L396.3,194.5 L396.8,194.6 L397.3,194.7 L397.8,194.7 L398.3,194.8 L398.8,194.8 L399.3,194.9 L399.8,194.9 L400.3,195 L401.3,195 L401.8,195.1 L403.3,195.1 L403.8,195.2 L408.3,195.2 L408.8,195.3 L411.8,195.3" fill="none" stroke="#2c4866" stroke-width="1.3" stroke-linejoin="round" opacity="1.0"/>
<path d="M352.90,144.00 L352.90,197.80 L413.70,197.80" fill="none" stroke="#383838" stroke-width="1.4"/>
<path d="M349.60,195.30 L352.90,195.30 M349.60,177.20 L352.90,177.20 M349.60,159.10 L352.90,159.10 M355.40,197.80 L355.40,200.50 M369.50,197.80 L369.50,200.50 M383.60,197.80 L383.60,200.50 M397.70,197.80 L397.70,200.50 M411.80,197.80 L411.80,200.50" stroke="#383838" stroke-width="1"/>
<g font-family='"Liberation Sans", sans-serif' font-size="6.5" fill="#2a2a2a" stroke="#2a2a2a">
<text x="346.80" y="197.65" text-anchor="end">0</text>
<text x="346.80" y="179.55" text-anchor="end">100</text>
<text x="346.80" y="161.45" text-anchor="end">200</text>
<text x="355.40" y="209.80" text-anchor="middle">0</text>
<text x="369.50" y="209.80" text-anchor="middle">10</text>
<text x="383.60" y="209.80" text-anchor="middle">20</text>
<text x="397.70" y="209.80" text-anchor="middle">30</text>
<text x="411.80" y="209.80" text-anchor="middle">40</text>
</g>
<line x1="451.00" y1="182.50" x2="509.90" y2="182.50" stroke="#3a3a3a" stroke-width="1.15" stroke-dasharray="7.6 4.1" stroke-dashoffset="3.9"/>
<path d="M465.9,194.9 L466.8,193.3 L467.7,191.1 L468.7,188.7 L469.6,186.4 L470.5,184.4 L471.4,183.0 L472.3,182.0 L473.2,181.5 L474.2,181.4 L475.1,181.6 L476.0,182.0 L476.9,182.6 L477.8,183.3 L478.7,184.1 L479.7,184.9 L480.6,185.7 L481.5,186.6 L482.4,187.4 L483.3,188.2 L484.2,188.9 L485.2,189.6 L486.1,190.2 L487.0,190.8 L487.9,191.3 L488.8,191.8 L489.7,192.2 L490.7,192.6 L491.6,193.0 L492.5,193.3 L493.4,193.5 L494.3,193.8 L495.2,194.0 L496.2,194.1 L497.1,194.3 L498.0,194.4 L498.9,194.6 L499.8,194.7 L500.7,194.8 L501.7,194.8 L502.6,194.9 L503.5,195.0 L504.4,195.0 L505.3,195.1 L506.2,195.1 L507.2,195.1 L508.1,195.1 L509.0,195.2 L509.9,195.2 L509.9,195.2 L509.0,195.2 L508.1,195.2 L507.2,195.2 L506.2,195.1 L505.3,195.1 L504.4,195.1 L503.5,195.1 L502.6,195.0 L501.7,195.0 L500.7,194.9 L499.8,194.8 L498.9,194.8 L498.0,194.7 L497.1,194.6 L496.2,194.5 L495.2,194.3 L494.3,194.2 L493.4,194.0 L492.5,193.8 L491.6,193.6 L490.7,193.3 L489.7,193.1 L488.8,192.8 L487.9,192.4 L487.0,192.0 L486.1,191.6 L485.2,191.1 L484.2,190.6 L483.3,190.1 L482.4,189.5 L481.5,189.0 L480.6,188.4 L479.7,187.7 L478.7,187.1 L477.8,186.6 L476.9,186.0 L476.0,185.6 L475.1,185.3 L474.2,185.2 L473.2,185.2 L472.3,185.6 L471.4,186.3 L470.5,187.4 L469.6,188.8 L468.7,190.5 L467.7,192.2 L466.8,193.9 L465.9,195.0 Z" fill="#c8b8a8" opacity="0.1"/>
<path d="M478.7,195.0 L479.7,194.5 L480.6,194.1 L481.5,193.6 L482.4,193.2 L483.3,192.8 L484.2,192.5 L485.2,192.3 L486.1,192.1 L487.0,192.0 L487.9,191.9 L488.8,191.9 L489.7,191.9 L490.7,192.0 L491.6,192.1 L492.5,192.2 L493.4,192.3 L494.3,192.5 L495.2,192.6 L496.2,192.8 L497.1,193.0 L498.0,193.1 L498.9,193.3 L499.8,193.4 L500.7,193.6 L501.7,193.7 L502.6,193.9 L503.5,194.0 L504.4,194.1 L505.3,194.2 L506.2,194.3 L507.2,194.4 L508.1,194.5 L509.0,194.6 L509.9,194.6 L509.9,194.8 L509.0,194.8 L508.1,194.7 L507.2,194.6 L506.2,194.6 L505.3,194.5 L504.4,194.4 L503.5,194.3 L502.6,194.2 L501.7,194.2 L500.7,194.0 L499.8,193.9 L498.9,193.8 L498.0,193.7 L497.1,193.6 L496.2,193.5 L495.2,193.4 L494.3,193.3 L493.4,193.1 L492.5,193.1 L491.6,193.0 L490.7,192.9 L489.7,192.9 L488.8,192.8 L487.9,192.9 L487.0,192.9 L486.1,193.0 L485.2,193.1 L484.2,193.3 L483.3,193.5 L482.4,193.8 L481.5,194.1 L480.6,194.4 L479.7,194.8 L478.7,195.1 Z" fill="#dc5690" opacity="0.1"/>
<path d="M476.9,194.8 L477.8,193.5 L478.7,191.8 L479.7,190.2 L480.6,188.8 L481.5,187.7 L482.4,187.1 L483.3,186.8 L484.2,186.8 L485.2,187.0 L486.1,187.3 L487.0,187.8 L487.9,188.3 L488.8,188.9 L489.7,189.5 L490.7,190.1 L491.6,190.7 L492.5,191.2 L493.4,191.7 L494.3,192.1 L495.2,192.5 L496.2,192.9 L497.1,193.2 L498.0,193.5 L498.9,193.8 L499.8,194.0 L500.7,194.2 L501.7,194.4 L502.6,194.5 L503.5,194.6 L504.4,194.7 L505.3,194.8 L506.2,194.9 L507.2,195.0 L508.1,195.0 L509.0,195.1 L509.9,195.1 L509.9,195.2 L509.0,195.1 L508.1,195.1 L507.2,195.1 L506.2,195.0 L505.3,195.0 L504.4,194.9 L503.5,194.8 L502.6,194.7 L501.7,194.6 L500.7,194.5 L499.8,194.4 L498.9,194.2 L498.0,194.0 L497.1,193.8 L496.2,193.6 L495.2,193.3 L494.3,193.0 L493.4,192.7 L492.5,192.3 L491.6,191.9 L490.7,191.5 L489.7,191.1 L488.8,190.7 L487.9,190.2 L487.0,189.8 L486.1,189.5 L485.2,189.2 L484.2,189.1 L483.3,189.1 L482.4,189.3 L481.5,189.8 L480.6,190.6 L479.7,191.6 L478.7,192.8 L477.8,194.0 L476.9,195.0 Z" fill="#4aa9c4" opacity="0.1"/>
<path d="M470.5,195.2 L471.4,194.0 L472.3,191.6 L473.2,188.8 L474.2,186.1 L475.1,183.7 L476.0,181.8 L476.9,180.4 L477.8,179.7 L478.7,179.4 L479.7,179.5 L480.6,179.9 L481.5,180.6 L482.4,181.5 L483.3,182.4 L484.2,183.5 L485.2,184.5 L486.1,185.5 L487.0,186.5 L487.9,187.5 L488.8,188.4 L489.7,189.2 L490.7,189.9 L491.6,190.6 L492.5,191.2 L493.4,191.8 L494.3,192.2 L495.2,192.7 L496.2,193.0 L497.1,193.4 L498.0,193.6 L498.9,193.9 L499.8,194.1 L500.7,194.3 L501.7,194.4 L502.6,194.6 L503.5,194.7 L504.4,194.8 L505.3,194.9 L506.2,194.9 L507.2,195.0 L508.1,195.0 L509.0,195.1 L509.9,195.1 L509.9,195.2 L509.0,195.1 L508.1,195.1 L507.2,195.1 L506.2,195.0 L505.3,195.0 L504.4,194.9 L503.5,194.8 L502.6,194.8 L501.7,194.7 L500.7,194.6 L499.8,194.4 L498.9,194.3 L498.0,194.1 L497.1,193.9 L496.2,193.6 L495.2,193.4 L494.3,193.1 L493.4,192.7 L492.5,192.3 L491.6,191.9 L490.7,191.4 L489.7,190.8 L488.8,190.3 L487.9,189.6 L487.0,188.9 L486.1,188.2 L485.2,187.4 L484.2,186.7 L483.3,185.9 L482.4,185.2 L481.5,184.6 L480.6,184.1 L479.7,183.8 L478.7,183.7 L477.8,183.9 L476.9,184.5 L476.0,185.5 L475.1,186.8 L474.2,188.6 L473.2,190.6 L472.3,192.6 L471.4,194.3 L470.5,195.2 Z" fill="#cd8a50" opacity="0.1"/>
<path d="M470.5,194.4 L471.4,192.2 L472.3,189.4 L473.2,186.5 L474.2,183.9 L475.1,181.7 L476.0,180.1 L476.9,179.0 L477.8,178.5 L478.7,178.4 L479.7,178.7 L480.6,179.2 L481.5,179.9 L482.4,180.8 L483.3,181.8 L484.2,182.8 L485.2,183.9 L486.1,184.9 L487.0,185.9 L487.9,186.8 L488.8,187.7 L489.7,188.6 L490.7,189.3 L491.6,190.0 L492.5,190.7 L493.4,191.2 L494.3,191.7 L495.2,192.2 L496.2,192.6 L497.1,193.0 L498.0,193.3 L498.9,193.6 L499.8,193.8 L500.7,194.0 L501.7,194.2 L502.6,194.3 L503.5,194.5 L504.4,194.6 L505.3,194.7 L506.2,194.8 L507.2,194.9 L508.1,194.9 L509.0,195.0 L509.9,195.0 L509.9,195.1 L509.0,195.1 L508.1,195.0 L507.2,195.0 L506.2,194.9 L505.3,194.9 L504.4,194.8 L503.5,194.7 L502.6,194.6 L501.7,194.5 L500.7,194.4 L499.8,194.2 L498.9,194.0 L498.0,193.8 L497.1,193.6 L496.2,193.3 L495.2,193.0 L494.3,192.7 L493.4,192.3 L492.5,191.9 L491.6,191.5 L490.7,191.0 L489.7,190.4 L488.8,189.8 L487.9,189.2 L487.0,188.5 L486.1,187.7 L485.2,187.0 L484.2,186.2 L483.3,185.5 L482.4,184.8 L481.5,184.1 L480.6,183.6 L479.7,183.2 L478.7,183.0 L477.8,183.1 L476.9,183.5 L476.0,184.2 L475.1,185.4 L474.2,187.0 L473.2,188.9 L472.3,191.0 L471.4,193.0 L470.5,194.6 Z" fill="#33373e" opacity="0.1"/>
<path d="M454.9,195.3 L464.9,195.3 L465.4,195.2 L465.9,194.9 L466.4,194.3 L466.9,193.3 L467.4,192.3 L467.9,191.1 L468.4,189.9 L468.9,188.7 L469.4,187.5 L469.9,186.5 L470.4,185.6 L470.9,184.8 L471.4,184.1 L471.9,183.5 L472.4,183.1 L472.9,182.9 L473.4,182.7 L473.9,182.6 L474.4,182.7 L474.9,182.8 L475.4,182.9 L475.9,183.2 L476.4,183.4 L476.9,183.7 L477.4,184.1 L477.9,184.4 L478.4,184.8 L478.9,185.2 L479.4,185.6 L479.9,186.1 L480.4,186.5 L480.9,186.9 L481.4,187.3 L481.9,187.7 L482.4,188.1 L482.9,188.5 L483.4,188.9 L483.9,189.2 L484.4,189.6 L484.9,189.9 L485.4,190.3 L485.9,190.6 L486.4,190.9 L486.9,191.2 L487.4,191.4 L487.9,191.7 L488.4,191.9 L488.9,192.2 L489.4,192.4 L489.9,192.6 L490.4,192.8 L490.9,192.9 L491.4,193.1 L491.9,193.3 L492.4,193.4 L492.9,193.6 L493.4,193.7 L493.9,193.8 L494.4,193.9 L494.9,194 L495.4,194.1 L495.9,194.2 L496.4,194.3 L496.9,194.4 L497.4,194.4 L497.9,194.5 L498.4,194.6 L498.9,194.6 L499.4,194.7 L499.9,194.7 L500.4,194.8 L500.9,194.8 L501.4,194.9 L502.4,194.9 L502.9,195 L504.4,195 L504.9,195.1 L507.4,195.1 L507.9,195.2 L509.9,195.2" fill="none" stroke="#c8b8a8" stroke-width="0.8" stroke-linejoin="round" opacity="1.0"/>
<path d="M454.9,195.3 L477.9,195.3 L478.4,195.1 L478.9,194.9 L479.4,194.7 L479.9,194.5 L480.4,194.3 L480.9,194 L481.4,193.8 L481.9,193.6 L482.4,193.4 L482.9,193.2 L483.4,193 L483.9,192.9 L484.4,192.7 L484.9,192.6 L485.4,192.5 L485.9,192.4 L486.4,192.4 L486.9,192.3 L487.4,192.3 L487.9,192.2 L489.4,192.2 L489.9,192.3 L490.9,192.3 L491.4,192.4 L491.9,192.4 L492.4,192.5 L492.9,192.5 L493.4,192.6 L493.9,192.7 L494.4,192.8 L494.9,192.8 L495.4,192.9 L495.9,193 L496.4,193.1 L496.9,193.1 L497.4,193.2 L497.9,193.3 L498.4,193.4 L498.9,193.5 L499.4,193.5 L499.9,193.6 L500.4,193.7 L500.9,193.8 L501.4,193.8 L501.9,193.9 L502.4,194 L502.9,194 L503.4,194.1 L503.9,194.1 L504.4,194.2 L504.9,194.3 L505.4,194.3 L505.9,194.4 L506.4,194.4 L506.9,194.5 L507.9,194.5 L508.4,194.6 L508.9,194.6 L509.4,194.7 L509.9,194.7" fill="none" stroke="#dc5690" stroke-width="1.0" stroke-linejoin="round" opacity="1.0"/>
<path d="M454.9,195.3 L475.9,195.3 L476.4,195.2 L476.9,194.9 L477.4,194.3 L477.9,193.5 L478.4,192.7 L478.9,191.8 L479.4,191 L479.9,190.3 L480.4,189.6 L480.9,189 L481.4,188.5 L481.9,188.1 L482.4,187.8 L482.9,187.6 L483.4,187.5 L483.9,187.5 L484.4,187.6 L484.9,187.7 L485.4,187.8 L485.9,188 L486.4,188.2 L486.9,188.4 L487.4,188.7 L487.9,189 L488.4,189.3 L488.9,189.6 L489.4,189.8 L489.9,190.1 L490.4,190.4 L490.9,190.7 L491.4,191 L491.9,191.3 L492.4,191.5 L492.9,191.8 L493.4,192 L493.9,192.2 L494.4,192.5 L494.9,192.7 L495.4,192.9 L495.9,193 L496.4,193.2 L496.9,193.4 L497.4,193.5 L497.9,193.7 L498.4,193.8 L498.9,193.9 L499.4,194 L499.9,194.1 L500.4,194.2 L500.9,194.3 L501.4,194.4 L501.9,194.5 L502.4,194.6 L502.9,194.6 L503.4,194.7 L503.9,194.7 L504.4,194.8 L504.9,194.8 L505.4,194.9 L506.4,194.9 L506.9,195 L507.9,195 L508.4,195.1 L509.9,195.1" fill="none" stroke="#4aa9c4" stroke-width="1.0" stroke-linejoin="round" opacity="1.0"/>
<path d="M454.9,195.3 L470.4,195.3 L470.9,194.9 L471.4,194.1 L471.9,193 L472.4,191.7 L472.9,190.3 L473.4,188.9 L473.9,187.6 L474.4,186.3 L474.9,185.1 L475.4,184 L475.9,183.1 L476.4,182.4 L476.9,181.8 L477.4,181.3 L477.9,181 L478.4,180.9 L478.9,180.8 L479.4,180.9 L479.9,181 L480.4,181.2 L480.9,181.5 L481.4,181.9 L481.9,182.3 L482.4,182.7 L482.9,183.2 L483.4,183.7 L483.9,184.2 L484.4,184.7 L484.9,185.2 L485.4,185.7 L485.9,186.3 L486.4,186.8 L486.9,187.2 L487.4,187.7 L487.9,188.2 L488.4,188.6 L488.9,189.1 L489.4,189.5 L489.9,189.9 L490.4,190.2 L490.9,190.6 L491.4,190.9 L491.9,191.2 L492.4,191.5 L492.9,191.8 L493.4,192.1 L493.9,192.3 L494.4,192.5 L494.9,192.8 L495.4,193 L495.9,193.1 L496.4,193.3 L496.9,193.5 L497.4,193.6 L497.9,193.8 L498.4,193.9 L498.9,194 L499.4,194.1 L499.9,194.2 L500.4,194.3 L500.9,194.4 L501.4,194.5 L501.9,194.5 L502.4,194.6 L502.9,194.7 L503.4,194.7 L503.9,194.8 L504.4,194.8 L504.9,194.9 L505.9,194.9 L506.4,195 L507.4,195 L507.9,195.1 L509.9,195.1" fill="none" stroke="#cd8a50" stroke-width="1.0" stroke-linejoin="round" opacity="1.0"/>
<path d="M454.9,195.3 L469.4,195.3 L469.9,195.1 L470.4,194.6 L470.9,193.7 L471.4,192.5 L471.9,191.1 L472.4,189.7 L472.9,188.3 L473.4,186.9 L473.9,185.5 L474.4,184.3 L474.9,183.3 L475.4,182.3 L475.9,181.6 L476.4,181 L476.9,180.5 L477.4,180.2 L477.9,180 L478.4,179.9 L478.9,180 L479.4,180.1 L479.9,180.3 L480.4,180.6 L480.9,180.9 L481.4,181.3 L481.9,181.7 L482.4,182.1 L482.9,182.6 L483.4,183.1 L483.9,183.6 L484.4,184.1 L484.9,184.7 L485.4,185.2 L485.9,185.7 L486.4,186.2 L486.9,186.7 L487.4,187.2 L487.9,187.6 L488.4,188.1 L488.9,188.5 L489.4,188.9 L489.9,189.3 L490.4,189.7 L490.9,190.1 L491.4,190.4 L491.9,190.7 L492.4,191 L492.9,191.3 L493.4,191.6 L493.9,191.9 L494.4,192.1 L494.9,192.3 L495.4,192.6 L495.9,192.8 L496.4,192.9 L496.9,193.1 L497.4,193.3 L497.9,193.4 L498.4,193.6 L498.9,193.7 L499.4,193.8 L499.9,194 L500.4,194.1 L500.9,194.2 L501.4,194.2 L501.9,194.3 L502.4,194.4 L502.9,194.5 L503.4,194.6 L503.9,194.6 L504.4,194.7 L504.9,194.7 L505.4,194.8 L505.9,194.8 L506.4,194.9 L507.4,194.9 L507.9,195 L509.4,195 L509.9,195.1" fill="none" stroke="#33373e" stroke-width="1.35" stroke-linejoin="round" opacity="1.0"/>
<path d="M451.00,144.00 L451.00,197.80 L511.80,197.80" fill="none" stroke="#383838" stroke-width="1.4"/>
<path d="M447.70,195.30 L451.00,195.30 M447.70,177.20 L451.00,177.20 M447.70,159.10 L451.00,159.10 M453.50,197.80 L453.50,200.50 M467.60,197.80 L467.60,200.50 M481.70,197.80 L481.70,200.50 M495.80,197.80 L495.80,200.50 M509.90,197.80 L509.90,200.50" stroke="#383838" stroke-width="1"/>
<g font-family='"Liberation Sans", sans-serif' font-size="6.5" fill="#2a2a2a" stroke="#2a2a2a">
<text x="444.90" y="197.65" text-anchor="end">0</text>
<text x="444.90" y="179.55" text-anchor="end">100</text>
<text x="444.90" y="161.45" text-anchor="end">200</text>
<text x="453.50" y="209.80" text-anchor="middle">0</text>
<text x="467.60" y="209.80" text-anchor="middle">10</text>
<text x="481.70" y="209.80" text-anchor="middle">20</text>
<text x="495.80" y="209.80" text-anchor="middle">30</text>
<text x="509.90" y="209.80" text-anchor="middle">40</text>
</g>
<text transform="translate(34.0,269.9) rotate(-90) scale(0.765,1)" font-family='"Liberation Sans", sans-serif' font-size="8" fill="#2a2a2a" stroke="#2a2a2a" style="stroke-width:0.35px" text-anchor="middle">Thrombin (nM)</text>
<line x1="58.30" y1="282.50" x2="117.00" y2="282.50" stroke="#3a3a3a" stroke-width="1.15" stroke-dasharray="7.6 4.1" stroke-dashoffset="3.9"/>
<path d="M70.3,293.7 L70.7,293.1 L71.2,292.2 L71.6,290.9 L72.1,289.5 L72.5,288.0 L73.0,286.5 L73.5,284.9 L73.9,283.4 L74.4,282.0 L74.8,280.7 L75.3,279.6 L75.8,278.6 L76.2,277.7 L76.7,277.0 L77.1,276.4 L77.6,276.0 L78.0,275.7 L78.5,275.6 L79.0,275.5 L79.4,275.6 L79.9,275.7 L80.3,276.0 L80.8,276.3 L81.3,276.6 L81.7,277.0 L82.2,277.5 L82.6,278.0 L83.1,278.5 L83.5,279.0 L84.0,279.6 L84.5,280.1 L84.9,280.7 L85.4,281.3 L85.8,281.9 L86.3,282.4 L86.8,283.0 L87.2,283.5 L87.7,284.1 L88.1,284.6 L88.6,285.1 L89.0,285.6 L89.5,286.1 L90.0,286.5 L90.4,286.9 L90.9,287.4 L91.3,287.8 L91.8,288.1 L92.3,288.5 L92.7,288.8 L93.2,289.2 L93.6,289.5 L94.1,289.8 L94.5,290.0 L95.0,290.3 L95.5,290.5 L95.9,290.8 L96.4,291.0 L96.8,291.2 L97.3,291.4 L97.8,291.6 L98.2,291.7 L98.7,291.9 L99.1,292.0 L99.6,292.2 L100.0,292.3 L100.5,292.4 L101.0,292.5 L101.4,292.6 L101.9,292.7 L102.3,292.8 L102.8,292.9 L103.3,293.0 L103.7,293.0 L104.2,293.1 L104.6,293.2 L105.1,293.2 L105.5,293.3 L106.0,293.3 L106.5,293.4 L106.9,293.4 L107.4,293.5 L107.8,293.5 L108.3,293.5 L108.8,293.6 L109.2,293.6 L109.7,293.6 L110.1,293.6 L110.6,293.7 L111.0,293.7 L111.5,293.7 L112.0,293.7 L112.4,293.7 L112.9,293.7 L113.3,293.8 L113.8,293.8 L114.3,293.8 L114.7,293.8 L115.2,293.8 L115.6,293.8 L116.1,293.8 L116.5,293.8 L117.0,293.8 L117.0,293.8 L116.5,293.8 L116.1,293.8 L115.6,293.8 L115.2,293.8 L114.7,293.8 L114.3,293.8 L113.8,293.8 L113.3,293.8 L112.9,293.8 L112.4,293.8 L112.0,293.8 L111.5,293.7 L111.0,293.7 L110.6,293.7 L110.1,293.7 L109.7,293.7 L109.2,293.7 L108.8,293.6 L108.3,293.6 L107.8,293.6 L107.4,293.6 L106.9,293.5 L106.5,293.5 L106.0,293.5 L105.5,293.4 L105.1,293.4 L104.6,293.4 L104.2,293.3 L103.7,293.3 L103.3,293.2 L102.8,293.2 L102.3,293.1 L101.9,293.0 L101.4,293.0 L101.0,292.9 L100.5,292.8 L100.0,292.7 L99.6,292.6 L99.1,292.5 L98.7,292.4 L98.2,292.3 L97.8,292.2 L97.3,292.0 L96.8,291.9 L96.4,291.7 L95.9,291.6 L95.5,291.4 L95.0,291.2 L94.5,291.0 L94.1,290.8 L93.6,290.6 L93.2,290.4 L92.7,290.2 L92.3,289.9 L91.8,289.6 L91.3,289.3 L90.9,289.1 L90.4,288.7 L90.0,288.4 L89.5,288.1 L89.0,287.7 L88.6,287.4 L88.1,287.0 L87.7,286.6 L87.2,286.2 L86.8,285.8 L86.3,285.4 L85.8,285.0 L85.4,284.6 L84.9,284.1 L84.5,283.7 L84.0,283.3 L83.5,282.9 L83.1,282.5 L82.6,282.1 L82.2,281.7 L81.7,281.4 L81.3,281.1 L80.8,280.8 L80.3,280.6 L79.9,280.4 L79.4,280.3 L79.0,280.3 L78.5,280.3 L78.0,280.4 L77.6,280.7 L77.1,281.0 L76.7,281.4 L76.2,281.9 L75.8,282.5 L75.3,283.3 L74.8,284.1 L74.4,285.1 L73.9,286.1 L73.5,287.2 L73.0,288.4 L72.5,289.5 L72.1,290.7 L71.6,291.7 L71.2,292.6 L70.7,293.3 L70.3,293.8 Z" fill="#d8eef6" opacity="0.8"/>
<path d="M62,293.9 L70,293.9 L70.5,293.5 L71,292.6 L71.5,291.5 L72,290.1 L72.5,288.6 L73,287 L73.5,285.4 L74,283.9 L74.5,282.6 L75,281.3 L75.5,280.2 L76,279.3 L76.5,278.5 L77,277.9 L77.5,277.4 L78,277.1 L78.5,276.9 L79,276.9 L79.5,277 L80,277.1 L80.5,277.4 L81,277.7 L81.5,278.1 L82,278.5 L82.5,279 L83,279.5 L83.5,280.1 L84,280.6 L84.5,281.2 L85,281.8 L85.5,282.4 L86,282.9 L86.5,283.5 L87,284.1 L87.5,284.6 L88,285.1 L88.5,285.7 L89,286.2 L89.5,286.6 L90,287.1 L90.5,287.5 L91,287.9 L91.5,288.3 L92,288.7 L92.5,289.1 L93,289.4 L93.5,289.7 L94,290 L94.5,290.3 L95,290.6 L95.5,290.8 L96,291 L96.5,291.3 L97,291.5 L97.5,291.6 L98,291.8 L98.5,292 L99,292.1 L99.5,292.3 L100,292.4 L100.5,292.5 L101,292.6 L101.5,292.7 L102,292.8 L102.5,292.9 L103,293 L103.5,293.1 L104,293.1 L104.5,293.2 L105,293.3 L105.5,293.3 L106,293.4 L106.5,293.4 L107,293.5 L108,293.5 L108.5,293.6 L110,293.6 L110.5,293.7 L112.5,293.7 L113,293.8 L117,293.8" fill="none" stroke="#4b8fcf" stroke-width="1.0" stroke-linejoin="round" opacity="1.0"/>
<path d="M62,293.9 L69,293.9 L69.5,293.7 L70,292.8 L70.5,291.3 L71,289.4 L71.5,287.2 L72,285 L72.5,282.8 L73,280.7 L73.5,278.8 L74,277.1 L74.5,275.6 L75,274.4 L75.5,273.5 L76,272.8 L76.5,272.3 L77,272.1 L77.5,272 L78,272.1 L78.5,272.4 L79,272.8 L79.5,273.3 L80,273.9 L80.5,274.6 L81,275.3 L81.5,276.1 L82,276.9 L82.5,277.7 L83,278.5 L83.5,279.3 L84,280.1 L84.5,280.9 L85,281.7 L85.5,282.5 L86,283.2 L86.5,283.9 L87,284.6 L87.5,285.2 L88,285.8 L88.5,286.4 L89,287 L89.5,287.5 L90,288 L90.5,288.4 L91,288.9 L91.5,289.3 L92,289.6 L92.5,290 L93,290.3 L93.5,290.6 L94,290.9 L94.5,291.1 L95,291.4 L95.5,291.6 L96,291.8 L96.5,292 L97,292.1 L97.5,292.3 L98,292.4 L98.5,292.6 L99,292.7 L99.5,292.8 L100,292.9 L100.5,293 L101,293.1 L101.5,293.2 L102,293.2 L102.5,293.3 L103,293.3 L103.5,293.4 L104,293.4 L104.5,293.5 L105,293.5 L105.5,293.6 L106.5,293.6 L107,293.7 L109,293.7 L109.5,293.8 L114.5,293.8 L115,293.9 L117,293.9" fill="none" stroke="#cd8a50" stroke-width="1.0" stroke-linejoin="round" opacity="1.0"/>
<path d="M62,293.9 L71,293.9 L71.5,293.4 L72,292.3 L72.5,290.6 L73,288.4 L73.5,286 L74,283.5 L74.5,281 L75,278.8 L75.5,276.9 L76,275.3 L76.5,274.1 L77,273.2 L77.5,272.7 L78,272.5 L78.5,272.6 L79,272.9 L79.5,273.2 L80,273.8 L80.5,274.4 L81,275.1 L81.5,275.8 L82,276.6 L82.5,277.5 L83,278.3 L83.5,279.2 L84,280 L84.5,280.9 L85,281.7 L85.5,282.5 L86,283.2 L86.5,284 L87,284.7 L87.5,285.4 L88,286 L88.5,286.6 L89,287.2 L89.5,287.7 L90,288.2 L90.5,288.7 L91,289.1 L91.5,289.5 L92,289.9 L92.5,290.2 L93,290.5 L93.5,290.8 L94,291.1 L94.5,291.4 L95,291.6 L95.5,291.8 L96,292 L96.5,292.2 L97,292.3 L97.5,292.5 L98,292.6 L98.5,292.7 L99,292.8 L99.5,292.9 L100,293 L100.5,293.1 L101,293.2 L101.5,293.3 L102,293.3 L102.5,293.4 L103,293.4 L103.5,293.5 L104,293.5 L104.5,293.6 L105.5,293.6 L106,293.7 L108,293.7 L108.5,293.8 L113,293.8 L113.5,293.9 L117,293.9" fill="none" stroke="#4a4a4a" stroke-width="1.0" stroke-linejoin="round" opacity="1.0"/>
<path d="M62,293.9 L68,293.9 L68.5,293.1 L69,291.2 L69.5,288.2 L70,284.5 L70.5,280.4 L71,276.3 L71.5,272.5 L72,269 L72.5,266.1 L73,263.8 L73.5,262 L74,260.9 L74.5,260.3 L75,260.3 L75.5,260.6 L76,261.3 L76.5,262.3 L77,263.5 L77.5,264.9 L78,266.4 L78.5,268 L79,269.7 L79.5,271.3 L80,273 L80.5,274.6 L81,276.1 L81.5,277.6 L82,279.1 L82.5,280.4 L83,281.7 L83.5,282.8 L84,283.9 L84.5,284.9 L85,285.8 L85.5,286.7 L86,287.4 L86.5,288.1 L87,288.8 L87.5,289.3 L88,289.8 L88.5,290.3 L89,290.7 L89.5,291.1 L90,291.4 L90.5,291.7 L91,292 L91.5,292.2 L92,292.4 L92.5,292.6 L93,292.8 L93.5,292.9 L94,293 L94.5,293.1 L95,293.2 L95.5,293.3 L96,293.4 L96.5,293.5 L97,293.5 L97.5,293.6 L98.5,293.6 L99,293.7 L100,293.7 L100.5,293.8 L104,293.8 L104.5,293.9 L117,293.9" fill="none" stroke="#34597c" stroke-width="1.2" stroke-linejoin="round" opacity="1.0"/>
<path d="M58.30,242.60 L58.30,296.40 L118.90,296.40" fill="none" stroke="#383838" stroke-width="1.4"/>
<path d="M54.80,293.90 L58.30,293.90 M54.80,275.80 L58.30,275.80 M54.80,257.70 L58.30,257.70 M60.60,296.40 L60.60,299.10 M74.70,296.40 L74.70,299.10 M88.80,296.40 L88.80,299.10 M102.90,296.40 L102.90,299.10 M117.00,296.40 L117.00,299.10" stroke="#383838" stroke-width="1"/>
<g font-family='"Liberation Sans", sans-serif' font-size="6.5" fill="#2a2a2a" stroke="#2a2a2a">
<text x="52.00" y="296.25" text-anchor="end">0</text>
<text x="52.00" y="278.15" text-anchor="end">100</text>
<text x="52.00" y="260.05" text-anchor="end">200</text>
<text x="60.60" y="308.40" text-anchor="middle">0</text>
<text x="74.70" y="308.40" text-anchor="middle">10</text>
<text x="88.80" y="308.40" text-anchor="middle">20</text>
<text x="102.90" y="308.40" text-anchor="middle">30</text>
<text x="117.00" y="308.40" text-anchor="middle">40</text>
</g>
<line x1="155.70" y1="282.50" x2="214.90" y2="282.50" stroke="#3a3a3a" stroke-width="1.15" stroke-dasharray="7.6 4.1" stroke-dashoffset="3.9"/>
<path d="M171.8,293.5 L172.7,291.7 L173.7,289.5 L174.6,287.2 L175.5,285.2 L176.4,283.6 L177.3,282.5 L178.2,281.7 L179.2,281.4 L180.1,281.4 L181.0,281.6 L181.9,282.0 L182.8,282.6 L183.7,283.2 L184.7,283.9 L185.6,284.7 L186.5,285.4 L187.4,286.1 L188.3,286.8 L189.2,287.5 L190.2,288.2 L191.1,288.8 L192.0,289.3 L192.9,289.8 L193.8,290.3 L194.7,290.7 L195.7,291.1 L196.6,291.4 L197.5,291.7 L198.4,292.0 L199.3,292.2 L200.2,292.5 L201.2,292.6 L202.1,292.8 L203.0,293.0 L203.9,293.1 L204.8,293.2 L205.7,293.3 L206.7,293.4 L207.6,293.4 L208.5,293.5 L209.4,293.6 L210.3,293.6 L211.2,293.7 L212.2,293.7 L213.1,293.7 L214.0,293.7 L214.9,293.8 L214.9,293.8 L214.0,293.8 L213.1,293.8 L212.2,293.7 L211.2,293.7 L210.3,293.7 L209.4,293.7 L208.5,293.6 L207.6,293.6 L206.7,293.5 L205.7,293.5 L204.8,293.4 L203.9,293.3 L203.0,293.2 L202.1,293.1 L201.2,293.0 L200.2,292.8 L199.3,292.7 L198.4,292.5 L197.5,292.3 L196.6,292.1 L195.7,291.9 L194.7,291.6 L193.8,291.3 L192.9,290.9 L192.0,290.6 L191.1,290.2 L190.2,289.7 L189.2,289.3 L188.3,288.8 L187.4,288.2 L186.5,287.7 L185.6,287.2 L184.7,286.6 L183.7,286.1 L182.8,285.7 L181.9,285.3 L181.0,285.0 L180.1,284.8 L179.2,284.8 L178.2,285.1 L177.3,285.6 L176.4,286.4 L175.5,287.6 L174.6,289.1 L173.7,290.7 L172.7,292.3 L171.8,293.6 Z" fill="#b8b8b8" opacity="0.1"/>
<path d="M168.2,293.3 L169.1,292.6 L170.0,292.3 L170.9,292.3 L171.8,292.3 L172.7,292.3 L173.7,292.3 L174.6,292.3 L175.5,292.3 L176.4,292.3 L177.3,292.3 L178.2,292.3 L179.2,292.3 L180.1,292.3 L181.0,292.3 L181.9,292.3 L182.8,292.3 L183.7,292.3 L184.7,292.3 L185.6,292.3 L186.5,292.3 L187.4,292.4 L188.3,292.6 L189.2,293.0 L190.2,293.4 L191.1,293.7 L191.1,293.8 L190.2,293.5 L189.2,293.2 L188.3,293.0 L187.4,292.8 L186.5,292.7 L185.6,292.7 L184.7,292.7 L183.7,292.7 L182.8,292.7 L181.9,292.7 L181.0,292.7 L180.1,292.7 L179.2,292.7 L178.2,292.7 L177.3,292.7 L176.4,292.7 L175.5,292.7 L174.6,292.7 L173.7,292.7 L172.7,292.7 L171.8,292.7 L170.9,292.7 L170.0,292.7 L169.1,292.9 L168.2,293.5 Z" fill="#dc5690" opacity="0.1"/>
<path d="M167.2,292.4 L168.2,288.8 L169.1,284.2 L170.0,279.7 L170.9,275.8 L171.8,273.0 L172.7,271.2 L173.7,270.3 L174.6,270.3 L175.5,270.9 L176.4,271.9 L177.3,273.3 L178.2,274.9 L179.2,276.6 L180.1,278.3 L181.0,280.0 L181.9,281.6 L182.8,283.1 L183.7,284.5 L184.7,285.7 L185.6,286.9 L186.5,287.9 L187.4,288.7 L188.3,289.5 L189.2,290.2 L190.2,290.8 L191.1,291.3 L192.0,291.7 L192.9,292.0 L193.8,292.4 L194.7,292.6 L195.7,292.8 L196.6,293.0 L197.5,293.2 L198.4,293.3 L199.3,293.4 L200.2,293.5 L201.2,293.6 L202.1,293.6 L203.0,293.7 L203.9,293.7 L204.8,293.7 L205.7,293.8 L206.7,293.8 L207.6,293.8 L208.5,293.8 L208.5,293.9 L207.6,293.8 L206.7,293.8 L205.7,293.8 L204.8,293.8 L203.9,293.8 L203.0,293.7 L202.1,293.7 L201.2,293.7 L200.2,293.6 L199.3,293.5 L198.4,293.5 L197.5,293.4 L196.6,293.3 L195.7,293.1 L194.7,293.0 L193.8,292.8 L192.9,292.6 L192.0,292.3 L191.1,292.0 L190.2,291.6 L189.2,291.2 L188.3,290.7 L187.4,290.2 L186.5,289.5 L185.6,288.8 L184.7,288.0 L183.7,287.1 L182.8,286.0 L181.9,285.0 L181.0,283.8 L180.1,282.6 L179.2,281.3 L178.2,280.1 L177.3,278.9 L176.4,277.9 L175.5,277.2 L174.6,276.7 L173.7,276.7 L172.7,277.4 L171.8,278.7 L170.9,280.8 L170.0,283.5 L169.1,286.8 L168.2,290.2 L167.2,292.8 Z" fill="#4b8fcf" opacity="0.1"/>
<path d="M165.4,293.5 L166.3,289.5 L167.2,282.6 L168.2,275.1 L169.1,268.4 L170.0,263.4 L170.9,260.3 L171.8,259.0 L172.7,259.1 L173.7,260.5 L174.6,262.8 L175.5,265.6 L176.4,268.6 L177.3,271.7 L178.2,274.7 L179.2,277.5 L180.1,280.1 L181.0,282.3 L181.9,284.3 L182.8,286.0 L183.7,287.4 L184.7,288.6 L185.6,289.6 L186.5,290.5 L187.4,291.2 L188.3,291.7 L189.2,292.2 L190.2,292.5 L191.1,292.8 L192.0,293.1 L192.9,293.2 L193.8,293.4 L194.7,293.5 L195.7,293.6 L196.6,293.7 L197.5,293.7 L198.4,293.8 L199.3,293.8 L200.2,293.8 L201.2,293.8 L201.2,293.9 L200.2,293.8 L199.3,293.8 L198.4,293.8 L197.5,293.8 L196.6,293.7 L195.7,293.7 L194.7,293.6 L193.8,293.5 L192.9,293.4 L192.0,293.3 L191.1,293.1 L190.2,292.9 L189.2,292.6 L188.3,292.3 L187.4,291.9 L186.5,291.4 L185.6,290.8 L184.7,290.1 L183.7,289.2 L182.8,288.1 L181.9,286.9 L181.0,285.5 L180.1,283.8 L179.2,282.0 L178.2,279.9 L177.3,277.8 L176.4,275.5 L175.5,273.3 L174.6,271.3 L173.7,269.6 L172.7,268.6 L171.8,268.5 L170.9,269.5 L170.0,271.7 L169.1,275.4 L168.2,280.2 L167.2,285.7 L166.3,290.7 L165.4,293.6 Z" fill="#cd8a50" opacity="0.1"/>
<path d="M164.5,292.4 L165.4,283.5 L166.3,270.4 L167.2,257.9 L168.2,248.6 L169.1,243.4 L170.0,241.9 L170.9,243.3 L171.8,246.4 L172.7,250.6 L173.7,255.4 L174.6,260.3 L175.5,265.0 L176.4,269.4 L177.3,273.4 L178.2,276.9 L179.2,279.9 L180.1,282.5 L181.0,284.7 L181.9,286.5 L182.8,288.0 L183.7,289.2 L184.7,290.2 L185.6,291.0 L186.5,291.6 L187.4,292.1 L188.3,292.5 L189.2,292.8 L190.2,293.1 L191.1,293.2 L192.0,293.4 L192.9,293.5 L193.8,293.6 L194.7,293.7 L195.7,293.7 L196.6,293.8 L197.5,293.8 L198.4,293.8 L198.4,293.8 L197.5,293.8 L196.6,293.8 L195.7,293.8 L194.7,293.7 L193.8,293.7 L192.9,293.6 L192.0,293.5 L191.1,293.4 L190.2,293.3 L189.2,293.1 L188.3,292.9 L187.4,292.6 L186.5,292.2 L185.6,291.8 L184.7,291.2 L183.7,290.5 L182.8,289.6 L181.9,288.5 L181.0,287.2 L180.1,285.6 L179.2,283.8 L178.2,281.5 L177.3,279.0 L176.4,276.1 L175.5,272.9 L174.6,269.4 L173.7,265.9 L172.7,262.4 L171.8,259.4 L170.9,257.1 L170.0,256.1 L169.1,257.1 L168.2,261.0 L167.2,267.7 L166.3,276.8 L165.4,286.3 L164.5,292.8 Z" fill="#34597c" opacity="0.1"/>
<path d="M159.9,293.9 L170.9,293.9 L171.4,293.8 L171.9,293.4 L172.4,292.6 L172.9,291.6 L173.4,290.5 L173.9,289.3 L174.4,288.2 L174.9,287.1 L175.4,286.2 L175.9,285.3 L176.4,284.6 L176.9,283.9 L177.4,283.4 L177.9,283 L178.4,282.8 L178.9,282.6 L179.4,282.5 L179.9,282.5 L180.4,282.6 L180.9,282.7 L181.4,282.9 L181.9,283.1 L182.4,283.4 L182.9,283.7 L183.4,284 L183.9,284.3 L184.4,284.6 L184.9,285 L185.4,285.4 L185.9,285.7 L186.4,286.1 L186.9,286.5 L187.4,286.8 L187.9,287.2 L188.4,287.5 L188.9,287.9 L189.4,288.2 L189.9,288.5 L190.4,288.8 L190.9,289.1 L191.4,289.4 L191.9,289.7 L192.4,289.9 L192.9,290.2 L193.4,290.4 L193.9,290.6 L194.4,290.9 L194.9,291.1 L195.4,291.2 L195.9,291.4 L196.4,291.6 L196.9,291.8 L197.4,291.9 L197.9,292 L198.4,292.2 L198.9,292.3 L199.4,292.4 L199.9,292.5 L200.4,292.6 L200.9,292.7 L201.4,292.8 L201.9,292.9 L202.4,293 L202.9,293 L203.4,293.1 L203.9,293.2 L204.4,293.2 L204.9,293.3 L205.4,293.3 L205.9,293.4 L206.9,293.4 L207.4,293.5 L208.4,293.5 L208.9,293.6 L210.4,293.6 L210.9,293.7 L213.4,293.7 L213.9,293.8 L214.9,293.8" fill="none" stroke="#b8b8b8" stroke-width="0.9" stroke-linejoin="round" opacity="1.0"/>
<path d="M159.9,293.9 L166.9,293.9 L167.4,293.8 L167.9,293.5 L168.4,293.1 L168.9,292.8 L169.4,292.5 L187.4,292.5 L187.9,292.6 L188.4,292.8 L188.9,292.9 L189.4,293.1 L189.9,293.3 L190.4,293.5 L190.9,293.7 L191.4,293.8 L191.9,293.9 L214.9,293.9" fill="none" stroke="#dc5690" stroke-width="1.0" stroke-linejoin="round" opacity="1.0"/>
<path d="M159.9,293.9 L166.4,293.9 L166.9,293.3 L167.4,292.1 L167.9,290.3 L168.4,288.1 L168.9,285.8 L169.4,283.5 L169.9,281.3 L170.4,279.3 L170.9,277.5 L171.4,276 L171.9,274.7 L172.4,273.7 L172.9,273 L173.4,272.6 L173.9,272.4 L174.4,272.4 L174.9,272.6 L175.4,272.9 L175.9,273.4 L176.4,273.9 L176.9,274.6 L177.4,275.3 L177.9,276.1 L178.4,276.9 L178.9,277.7 L179.4,278.6 L179.9,279.4 L180.4,280.3 L180.9,281.1 L181.4,281.9 L181.9,282.7 L182.4,283.5 L182.9,284.2 L183.4,284.9 L183.9,285.6 L184.4,286.2 L184.9,286.8 L185.4,287.3 L185.9,287.8 L186.4,288.3 L186.9,288.8 L187.4,289.2 L187.9,289.6 L188.4,290 L188.9,290.3 L189.4,290.6 L189.9,290.9 L190.4,291.2 L190.9,291.4 L191.4,291.6 L191.9,291.9 L192.4,292 L192.9,292.2 L193.4,292.4 L193.9,292.5 L194.4,292.6 L194.9,292.8 L195.4,292.9 L195.9,293 L196.4,293.1 L196.9,293.1 L197.4,293.2 L197.9,293.3 L198.4,293.4 L198.9,293.4 L199.4,293.5 L200.4,293.5 L200.9,293.6 L201.9,293.6 L202.4,293.7 L204.4,293.7 L204.9,293.8 L208.9,293.8 L209.4,293.9 L214.9,293.9" fill="none" stroke="#4b8fcf" stroke-width="1.0" stroke-linejoin="round" opacity="1.0"/>
<path d="M159.9,293.9 L164.9,293.9 L165.4,293.6 L165.9,292 L166.4,289.4 L166.9,286.1 L167.4,282.4 L167.9,278.6 L168.4,275 L168.9,271.8 L169.4,268.9 L169.9,266.6 L170.4,264.7 L170.9,263.4 L171.4,262.5 L171.9,262.1 L172.4,262.1 L172.9,262.4 L173.4,263.1 L173.9,264 L174.4,265.2 L174.9,266.5 L175.4,267.9 L175.9,269.4 L176.4,270.9 L176.9,272.5 L177.4,274 L177.9,275.5 L178.4,276.9 L178.9,278.3 L179.4,279.7 L179.9,280.9 L180.4,282.1 L180.9,283.2 L181.4,284.2 L181.9,285.2 L182.4,286 L182.9,286.8 L183.4,287.6 L183.9,288.2 L184.4,288.8 L184.9,289.4 L185.4,289.9 L185.9,290.3 L186.4,290.7 L186.9,291.1 L187.4,291.4 L187.9,291.7 L188.4,292 L188.9,292.2 L189.4,292.4 L189.9,292.6 L190.4,292.7 L190.9,292.9 L191.4,293 L191.9,293.1 L192.4,293.2 L192.9,293.3 L193.4,293.4 L193.9,293.4 L194.4,293.5 L194.9,293.5 L195.4,293.6 L195.9,293.6 L196.4,293.7 L197.9,293.7 L198.4,293.8 L201.4,293.8 L201.9,293.9 L214.9,293.9" fill="none" stroke="#cd8a50" stroke-width="1.0" stroke-linejoin="round" opacity="1.0"/>
<path d="M159.9,293.9 L163.9,293.9 L164.4,292.9 L164.9,289.6 L165.4,284.5 L165.9,278.1 L166.4,271.5 L166.9,265.1 L167.4,259.4 L167.9,254.7 L168.4,251 L168.9,248.6 L169.4,247.1 L169.9,246.7 L170.4,247 L170.9,247.9 L171.4,249.3 L171.9,251 L172.4,253.1 L172.9,255.3 L173.4,257.7 L173.9,260.1 L174.4,262.5 L174.9,264.9 L175.4,267.3 L175.9,269.5 L176.4,271.7 L176.9,273.7 L177.4,275.6 L177.9,277.4 L178.4,279 L178.9,280.5 L179.4,281.9 L179.9,283.2 L180.4,284.3 L180.9,285.4 L181.4,286.3 L181.9,287.2 L182.4,287.9 L182.9,288.6 L183.4,289.2 L183.9,289.8 L184.4,290.3 L184.9,290.7 L185.4,291.1 L185.9,291.5 L186.4,291.8 L186.9,292 L187.4,292.3 L187.9,292.5 L188.4,292.6 L188.9,292.8 L189.4,292.9 L189.9,293.1 L190.4,293.2 L190.9,293.3 L191.4,293.4 L191.9,293.4 L192.4,293.5 L192.9,293.5 L193.4,293.6 L193.9,293.6 L194.4,293.7 L195.4,293.7 L195.9,293.8 L199.4,293.8 L199.9,293.9 L214.9,293.9" fill="none" stroke="#34597c" stroke-width="1.2" stroke-linejoin="round" opacity="1.0"/>
<path d="M155.70,242.60 L155.70,296.40 L216.80,296.40" fill="none" stroke="#383838" stroke-width="1.4"/>
<path d="M152.70,293.90 L155.70,293.90 M152.70,275.80 L155.70,275.80 M152.70,257.70 L155.70,257.70 M158.50,296.40 L158.50,299.10 M172.60,296.40 L172.60,299.10 M186.70,296.40 L186.70,299.10 M200.80,296.40 L200.80,299.10 M214.90,296.40 L214.90,299.10" stroke="#383838" stroke-width="1"/>
<g font-family='"Liberation Sans", sans-serif' font-size="6.5" fill="#2a2a2a" stroke="#2a2a2a">
<text x="149.90" y="296.25" text-anchor="end">0</text>
<text x="149.90" y="278.15" text-anchor="end">100</text>
<text x="149.90" y="260.05" text-anchor="end">200</text>
<text x="158.50" y="308.40" text-anchor="middle">0</text>
<text x="172.60" y="308.40" text-anchor="middle">10</text>
<text x="186.70" y="308.40" text-anchor="middle">20</text>
<text x="200.80" y="308.40" text-anchor="middle">30</text>
<text x="214.90" y="308.40" text-anchor="middle">40</text>
</g>
<line x1="255.70" y1="283.50" x2="314.50" y2="283.50" stroke="#3a3a3a" stroke-width="1.15" stroke-dasharray="7.6 4.1" stroke-dashoffset="3.9"/>
<path d="M270.5,293.0 L271.4,291.4 L272.3,289.6 L273.3,287.8 L274.2,286.1 L275.1,284.8 L276.0,283.7 L276.9,282.9 L277.8,282.4 L278.8,282.2 L279.7,282.2 L280.6,282.4 L281.5,282.7 L282.4,283.2 L283.3,283.8 L284.3,284.4 L285.2,285.1 L286.1,285.8 L287.0,286.4 L287.9,287.1 L288.8,287.7 L289.8,288.3 L290.7,288.9 L291.6,289.4 L292.5,289.9 L293.4,290.4 L294.3,290.8 L295.3,291.1 L296.2,291.5 L297.1,291.8 L298.0,292.0 L298.9,292.3 L299.8,292.5 L300.8,292.7 L301.7,292.8 L302.6,293.0 L303.5,293.1 L304.4,293.2 L305.3,293.3 L306.3,293.4 L307.2,293.5 L308.1,293.5 L309.0,293.6 L309.9,293.6 L310.8,293.7 L311.8,293.7 L312.7,293.7 L313.6,293.7 L314.5,293.8 L314.5,293.8 L313.6,293.8 L312.7,293.8 L311.8,293.7 L310.8,293.7 L309.9,293.7 L309.0,293.7 L308.1,293.6 L307.2,293.6 L306.3,293.5 L305.3,293.5 L304.4,293.4 L303.5,293.3 L302.6,293.2 L301.7,293.1 L300.8,293.0 L299.8,292.9 L298.9,292.7 L298.0,292.5 L297.1,292.3 L296.2,292.1 L295.3,291.9 L294.3,291.6 L293.4,291.3 L292.5,291.0 L291.6,290.6 L290.7,290.3 L289.8,289.9 L288.8,289.4 L287.9,288.9 L287.0,288.5 L286.1,288.0 L285.2,287.5 L284.3,287.0 L283.3,286.5 L282.4,286.1 L281.5,285.8 L280.6,285.5 L279.7,285.4 L278.8,285.4 L277.8,285.5 L276.9,285.9 L276.0,286.5 L275.1,287.3 L274.2,288.3 L273.3,289.5 L272.3,290.8 L271.4,292.1 L270.5,293.2 Z" fill="#b8b8b8" opacity="0.1"/>
<path d="M269.6,293.2 L270.5,290.9 L271.4,287.7 L272.3,284.1 L273.3,280.8 L274.2,278.0 L275.1,276.0 L276.0,274.8 L276.9,274.2 L277.8,274.3 L278.8,274.8 L279.7,275.7 L280.6,276.8 L281.5,278.1 L282.4,279.5 L283.3,280.8 L284.3,282.2 L285.2,283.5 L286.1,284.7 L287.0,285.9 L287.9,286.9 L288.8,287.9 L289.8,288.7 L290.7,289.4 L291.6,290.1 L292.5,290.7 L293.4,291.1 L294.3,291.6 L295.3,291.9 L296.2,292.3 L297.1,292.5 L298.0,292.7 L298.9,292.9 L299.8,293.1 L300.8,293.2 L301.7,293.4 L302.6,293.4 L303.5,293.5 L304.4,293.6 L305.3,293.6 L306.3,293.7 L307.2,293.7 L308.1,293.8 L309.0,293.8 L309.9,293.8 L310.8,293.8 L311.8,293.8 L311.8,293.9 L310.8,293.8 L309.9,293.8 L309.0,293.8 L308.1,293.8 L307.2,293.8 L306.3,293.7 L305.3,293.7 L304.4,293.7 L303.5,293.6 L302.6,293.6 L301.7,293.5 L300.8,293.4 L299.8,293.3 L298.9,293.2 L298.0,293.1 L297.1,292.9 L296.2,292.7 L295.3,292.5 L294.3,292.2 L293.4,291.9 L292.5,291.5 L291.6,291.1 L290.7,290.7 L289.8,290.1 L288.8,289.5 L287.9,288.8 L287.0,288.1 L286.1,287.2 L285.2,286.3 L284.3,285.4 L283.3,284.4 L282.4,283.4 L281.5,282.4 L280.6,281.5 L279.7,280.7 L278.8,280.0 L277.8,279.6 L276.9,279.6 L276.0,280.0 L275.1,280.9 L274.2,282.4 L273.3,284.3 L272.3,286.8 L271.4,289.4 L270.5,291.8 L269.6,293.4 Z" fill="#dc5690" opacity="0.1"/>
<path d="M267.8,293.7 L268.7,291.5 L269.6,287.6 L270.5,283.0 L271.4,278.6 L272.3,275.0 L273.3,272.4 L274.2,270.8 L275.1,270.2 L276.0,270.4 L276.9,271.2 L277.8,272.5 L278.8,274.1 L279.7,275.9 L280.6,277.7 L281.5,279.5 L282.4,281.3 L283.3,282.9 L284.3,284.4 L285.2,285.8 L286.1,287.0 L287.0,288.0 L287.9,288.9 L288.8,289.7 L289.8,290.4 L290.7,291.0 L291.6,291.5 L292.5,291.9 L293.4,292.3 L294.3,292.6 L295.3,292.8 L296.2,293.0 L297.1,293.2 L298.0,293.3 L298.9,293.4 L299.8,293.5 L300.8,293.6 L301.7,293.7 L302.6,293.7 L303.5,293.7 L304.4,293.8 L305.3,293.8 L306.3,293.8 L307.2,293.8 L307.2,293.9 L306.3,293.8 L305.3,293.8 L304.4,293.8 L303.5,293.8 L302.6,293.8 L301.7,293.7 L300.8,293.7 L299.8,293.6 L298.9,293.6 L298.0,293.5 L297.1,293.4 L296.2,293.3 L295.3,293.1 L294.3,292.9 L293.4,292.7 L292.5,292.5 L291.6,292.2 L290.7,291.8 L289.8,291.4 L288.8,290.9 L287.9,290.3 L287.0,289.6 L286.1,288.9 L285.2,288.0 L284.3,287.0 L283.3,285.9 L282.4,284.7 L281.5,283.4 L280.6,282.1 L279.7,280.8 L278.8,279.5 L277.8,278.4 L276.9,277.4 L276.0,276.8 L275.1,276.7 L274.2,277.1 L273.3,278.3 L272.3,280.2 L271.4,282.8 L270.5,286.0 L269.6,289.3 L268.7,292.2 L267.8,293.7 Z" fill="#4aa9c4" opacity="0.1"/>
<path d="M267.8,291.8 L268.7,284.8 L269.6,275.8 L270.5,267.1 L271.4,260.5 L272.3,256.5 L273.3,254.9 L274.2,255.4 L275.1,257.5 L276.0,260.6 L276.9,264.2 L277.8,268.1 L278.8,271.8 L279.7,275.4 L280.6,278.5 L281.5,281.3 L282.4,283.7 L283.3,285.7 L284.3,287.4 L285.2,288.7 L286.1,289.8 L287.0,290.7 L287.9,291.4 L288.8,292.0 L289.8,292.4 L290.7,292.8 L291.6,293.0 L292.5,293.3 L293.4,293.4 L294.3,293.5 L295.3,293.6 L296.2,293.7 L297.1,293.7 L298.0,293.8 L298.9,293.8 L299.8,293.8 L299.8,293.9 L298.9,293.8 L298.0,293.8 L297.1,293.8 L296.2,293.7 L295.3,293.7 L294.3,293.6 L293.4,293.5 L292.5,293.4 L291.6,293.3 L290.7,293.1 L289.8,292.8 L288.8,292.5 L287.9,292.1 L287.0,291.6 L286.1,290.9 L285.2,290.1 L284.3,289.1 L283.3,287.9 L282.4,286.5 L281.5,284.7 L280.6,282.7 L279.7,280.4 L278.8,277.9 L277.8,275.1 L276.9,272.3 L276.0,269.7 L275.1,267.4 L274.2,265.9 L273.3,265.6 L272.3,266.7 L271.4,269.6 L270.5,274.4 L269.6,280.7 L268.7,287.3 L267.8,292.3 Z" fill="#34597c" opacity="0.1"/>
<path d="M259.5,293.9 L269.5,293.9 L270,293.6 L270.5,293.1 L271,292.4 L271.5,291.5 L272,290.6 L272.5,289.7 L273,288.8 L273.5,287.9 L274,287.1 L274.5,286.4 L275,285.7 L275.5,285.1 L276,284.6 L276.5,284.2 L277,283.9 L277.5,283.6 L278,283.4 L278.5,283.3 L279,283.2 L279.5,283.2 L280,283.3 L280.5,283.4 L281,283.5 L281.5,283.7 L282,284 L282.5,284.2 L283,284.5 L283.5,284.8 L284,285.1 L284.5,285.4 L285,285.8 L285.5,286.1 L286,286.4 L286.5,286.8 L287,287.1 L287.5,287.4 L288,287.8 L288.5,288.1 L289,288.4 L289.5,288.7 L290,289 L290.5,289.3 L291,289.5 L291.5,289.8 L292,290 L292.5,290.3 L293,290.5 L293.5,290.7 L294,290.9 L294.5,291.1 L295,291.3 L295.5,291.5 L296,291.6 L296.5,291.8 L297,291.9 L297.5,292.1 L298,292.2 L298.5,292.3 L299,292.4 L299.5,292.5 L300,292.6 L300.5,292.7 L301,292.8 L301.5,292.9 L302,293 L302.5,293 L303,293.1 L303.5,293.2 L304,293.2 L304.5,293.3 L305,293.3 L305.5,293.4 L306.5,293.4 L307,293.5 L308,293.5 L308.5,293.6 L310,293.6 L310.5,293.7 L313,293.7 L313.5,293.8 L314.5,293.8" fill="none" stroke="#b8b8b8" stroke-width="0.8" stroke-linejoin="round" opacity="1.0"/>
<path d="M259.5,293.9 L268.5,293.9 L269,293.8 L269.5,293.4 L270,292.5 L270.5,291.2 L271,289.7 L271.5,287.9 L272,286.2 L272.5,284.4 L273,282.7 L273.5,281.2 L274,279.9 L274.5,278.7 L275,277.8 L275.5,277 L276,276.5 L276.5,276.2 L277,276 L277.5,276 L278,276.1 L278.5,276.4 L279,276.7 L279.5,277.2 L280,277.7 L280.5,278.3 L281,278.9 L281.5,279.5 L282,280.2 L282.5,280.9 L283,281.6 L283.5,282.3 L284,282.9 L284.5,283.6 L285,284.2 L285.5,284.9 L286,285.5 L286.5,286.1 L287,286.6 L287.5,287.1 L288,287.6 L288.5,288.1 L289,288.5 L289.5,289 L290,289.4 L290.5,289.7 L291,290.1 L291.5,290.4 L292,290.7 L292.5,290.9 L293,291.2 L293.5,291.4 L294,291.7 L294.5,291.9 L295,292 L295.5,292.2 L296,292.4 L296.5,292.5 L297,292.6 L297.5,292.7 L298,292.9 L298.5,293 L299,293 L299.5,293.1 L300,293.2 L300.5,293.3 L301,293.3 L301.5,293.4 L302,293.4 L302.5,293.5 L303,293.5 L303.5,293.6 L304.5,293.6 L305,293.7 L307,293.7 L307.5,293.8 L312,293.8 L312.5,293.9 L314.5,293.9" fill="none" stroke="#dc5690" stroke-width="1.0" stroke-linejoin="round" opacity="1.0"/>
<path d="M259.5,293.9 L267.5,293.9 L268,293.4 L268.5,292.2 L269,290.6 L269.5,288.5 L270,286.3 L270.5,284 L271,281.8 L271.5,279.7 L272,277.8 L272.5,276.2 L273,274.9 L273.5,273.9 L274,273.1 L274.5,272.6 L275,272.4 L275.5,272.4 L276,272.6 L276.5,272.9 L277,273.4 L277.5,274 L278,274.7 L278.5,275.5 L279,276.3 L279.5,277.2 L280,278.1 L280.5,279 L281,279.9 L281.5,280.8 L282,281.7 L282.5,282.6 L283,283.4 L283.5,284.2 L284,284.9 L284.5,285.6 L285,286.3 L285.5,286.9 L286,287.5 L286.5,288 L287,288.6 L287.5,289 L288,289.5 L288.5,289.9 L289,290.2 L289.5,290.6 L290,290.9 L290.5,291.2 L291,291.5 L291.5,291.7 L292,291.9 L292.5,292.1 L293,292.3 L293.5,292.5 L294,292.6 L294.5,292.7 L295,292.9 L295.5,293 L296,293.1 L296.5,293.2 L297,293.2 L297.5,293.3 L298,293.4 L298.5,293.4 L299,293.5 L299.5,293.5 L300,293.6 L301,293.6 L301.5,293.7 L303,293.7 L303.5,293.8 L307.5,293.8 L308,293.9 L314.5,293.9" fill="none" stroke="#4aa9c4" stroke-width="1.0" stroke-linejoin="round" opacity="1.0"/>
<path d="M259.5,293.9 L267,293.9 L267.5,293 L268,290.6 L268.5,287 L269,282.7 L269.5,278.2 L270,273.7 L270.5,269.6 L271,266 L271.5,263.1 L272,261 L272.5,259.5 L273,258.7 L273.5,258.4 L274,258.7 L274.5,259.5 L275,260.6 L275.5,262 L276,263.6 L276.5,265.4 L277,267.3 L277.5,269.2 L278,271.1 L278.5,272.9 L279,274.7 L279.5,276.5 L280,278.1 L280.5,279.7 L281,281.1 L281.5,282.4 L282,283.7 L282.5,284.8 L283,285.8 L283.5,286.7 L284,287.6 L284.5,288.3 L285,289 L285.5,289.6 L286,290.1 L286.5,290.6 L287,291 L287.5,291.4 L288,291.7 L288.5,292 L289,292.3 L289.5,292.5 L290,292.7 L290.5,292.8 L291,293 L291.5,293.1 L292,293.2 L292.5,293.3 L293,293.4 L293.5,293.5 L294,293.5 L294.5,293.6 L295,293.6 L295.5,293.7 L296.5,293.7 L297,293.8 L300,293.8 L300.5,293.9 L314.5,293.9" fill="none" stroke="#34597c" stroke-width="1.2" stroke-linejoin="round" opacity="1.0"/>
<path d="M255.70,242.60 L255.70,296.40 L316.40,296.40" fill="none" stroke="#383838" stroke-width="1.4"/>
<path d="M252.30,293.90 L255.70,293.90 M252.30,275.80 L255.70,275.80 M252.30,257.70 L255.70,257.70 M258.10,296.40 L258.10,299.10 M272.20,296.40 L272.20,299.10 M286.30,296.40 L286.30,299.10 M300.40,296.40 L300.40,299.10 M314.50,296.40 L314.50,299.10" stroke="#383838" stroke-width="1"/>
<g font-family='"Liberation Sans", sans-serif' font-size="6.5" fill="#2a2a2a" stroke="#2a2a2a">
<text x="249.50" y="296.25" text-anchor="end">0</text>
<text x="249.50" y="278.15" text-anchor="end">100</text>
<text x="249.50" y="260.05" text-anchor="end">200</text>
<text x="258.10" y="308.40" text-anchor="middle">0</text>
<text x="272.20" y="308.40" text-anchor="middle">10</text>
<text x="286.30" y="308.40" text-anchor="middle">20</text>
<text x="300.40" y="308.40" text-anchor="middle">30</text>
<text x="314.50" y="308.40" text-anchor="middle">40</text>
</g>
<line x1="352.90" y1="283.50" x2="411.80" y2="283.50" stroke="#3a3a3a" stroke-width="1.15" stroke-dasharray="7.6 4.1" stroke-dashoffset="3.9"/>
<path d="M367.8,293.7 L368.7,292.6 L369.6,290.8 L370.6,288.9 L371.5,287.1 L372.4,285.5 L373.3,284.3 L374.2,283.4 L375.1,282.8 L376.1,282.6 L377.0,282.6 L377.9,282.8 L378.8,283.2 L379.7,283.7 L380.6,284.3 L381.6,285.0 L382.5,285.7 L383.4,286.4 L384.3,287.1 L385.2,287.8 L386.1,288.4 L387.1,289.0 L388.0,289.6 L388.9,290.1 L389.8,290.5 L390.7,290.9 L391.6,291.3 L392.6,291.7 L393.5,291.9 L394.4,292.2 L395.3,292.4 L396.2,292.6 L397.1,292.8 L398.1,293.0 L399.0,293.1 L399.9,293.2 L400.8,293.3 L401.7,293.4 L402.6,293.5 L403.6,293.5 L404.5,293.6 L405.4,293.6 L406.3,293.7 L407.2,293.7 L408.1,293.7 L409.1,293.8 L410.0,293.8 L410.9,293.8 L411.8,293.8 L411.8,293.8 L410.9,293.8 L410.0,293.8 L409.1,293.8 L408.1,293.8 L407.2,293.8 L406.3,293.7 L405.4,293.7 L404.5,293.7 L403.6,293.6 L402.6,293.6 L401.7,293.5 L400.8,293.5 L399.9,293.4 L399.0,293.3 L398.1,293.2 L397.1,293.1 L396.2,293.0 L395.3,292.8 L394.4,292.7 L393.5,292.5 L392.6,292.3 L391.6,292.0 L390.7,291.8 L389.8,291.4 L388.9,291.1 L388.0,290.7 L387.1,290.3 L386.1,289.9 L385.2,289.4 L384.3,289.0 L383.4,288.5 L382.5,287.9 L381.6,287.4 L380.6,286.9 L379.7,286.5 L378.8,286.1 L377.9,285.8 L377.0,285.7 L376.1,285.7 L375.1,285.9 L374.2,286.3 L373.3,286.9 L372.4,287.8 L371.5,288.9 L370.6,290.2 L369.6,291.6 L368.7,292.9 L367.8,293.8 Z" fill="#b8b8b8" opacity="0.1"/>
<path d="M373.3,293.7 L374.2,293.5 L375.1,293.2 L376.1,292.9 L377.0,292.6 L377.9,292.4 L378.8,292.2 L379.7,292.0 L380.6,291.9 L381.6,291.8 L382.5,291.8 L383.4,291.7 L384.3,291.7 L385.2,291.7 L386.1,291.7 L387.1,291.8 L388.0,291.9 L388.9,291.9 L389.8,292.0 L390.7,292.1 L391.6,292.2 L392.6,292.3 L393.5,292.4 L394.4,292.5 L395.3,292.6 L396.2,292.7 L397.1,292.8 L398.1,292.9 L399.0,292.9 L399.9,293.0 L400.8,293.1 L401.7,293.2 L402.6,293.2 L403.6,293.3 L404.5,293.3 L405.4,293.4 L406.3,293.4 L407.2,293.5 L408.1,293.5 L409.1,293.6 L410.0,293.6 L410.9,293.6 L411.8,293.6 L411.8,293.7 L410.9,293.7 L410.0,293.7 L409.1,293.6 L408.1,293.6 L407.2,293.6 L406.3,293.6 L405.4,293.5 L404.5,293.5 L403.6,293.4 L402.6,293.4 L401.7,293.4 L400.8,293.3 L399.9,293.3 L399.0,293.2 L398.1,293.1 L397.1,293.1 L396.2,293.0 L395.3,292.9 L394.4,292.9 L393.5,292.8 L392.6,292.7 L391.6,292.7 L390.7,292.6 L389.8,292.5 L388.9,292.5 L388.0,292.4 L387.1,292.4 L386.1,292.3 L385.2,292.3 L384.3,292.3 L383.4,292.3 L382.5,292.3 L381.6,292.4 L380.6,292.5 L379.7,292.6 L378.8,292.7 L377.9,292.8 L377.0,293.0 L376.1,293.2 L375.1,293.4 L374.2,293.6 L373.3,293.8 Z" fill="#dc5690" opacity="0.1"/>
<path d="M370.6,293.4 L371.5,292.4 L372.4,291.0 L373.3,289.5 L374.2,288.1 L375.1,286.9 L376.1,285.9 L377.0,285.1 L377.9,284.6 L378.8,284.2 L379.7,284.1 L380.6,284.2 L381.6,284.4 L382.5,284.7 L383.4,285.1 L384.3,285.6 L385.2,286.1 L386.1,286.6 L387.1,287.1 L388.0,287.6 L388.9,288.1 L389.8,288.6 L390.7,289.1 L391.6,289.6 L392.6,290.0 L393.5,290.4 L394.4,290.7 L395.3,291.1 L396.2,291.4 L397.1,291.6 L398.1,291.9 L399.0,292.1 L399.9,292.3 L400.8,292.5 L401.7,292.7 L402.6,292.8 L403.6,293.0 L404.5,293.1 L405.4,293.2 L406.3,293.3 L407.2,293.3 L408.1,293.4 L409.1,293.5 L410.0,293.5 L410.9,293.6 L411.8,293.6 L411.8,293.7 L410.9,293.7 L410.0,293.6 L409.1,293.6 L408.1,293.5 L407.2,293.5 L406.3,293.4 L405.4,293.4 L404.5,293.3 L403.6,293.2 L402.6,293.1 L401.7,293.0 L400.8,292.9 L399.9,292.8 L399.0,292.6 L398.1,292.4 L397.1,292.3 L396.2,292.1 L395.3,291.8 L394.4,291.6 L393.5,291.3 L392.6,291.0 L391.6,290.7 L390.7,290.4 L389.8,290.1 L388.9,289.7 L388.0,289.3 L387.1,289.0 L386.1,288.6 L385.2,288.2 L384.3,287.8 L383.4,287.5 L382.5,287.2 L381.6,287.0 L380.6,286.9 L379.7,286.8 L378.8,286.9 L377.9,287.1 L377.0,287.5 L376.1,288.1 L375.1,288.8 L374.2,289.7 L373.3,290.7 L372.4,291.8 L371.5,292.8 L370.6,293.6 Z" fill="#4aa9c4" opacity="0.1"/>
<path d="M368.7,293.6 L369.6,292.1 L370.6,289.7 L371.5,286.9 L372.4,284.2 L373.3,281.7 L374.2,279.7 L375.1,278.2 L376.1,277.2 L377.0,276.7 L377.9,276.6 L378.8,276.8 L379.7,277.3 L380.6,278.0 L381.6,278.9 L382.5,279.8 L383.4,280.8 L384.3,281.9 L385.2,282.9 L386.1,283.9 L387.1,284.9 L388.0,285.8 L388.9,286.6 L389.8,287.4 L390.7,288.2 L391.6,288.8 L392.6,289.4 L393.5,290.0 L394.4,290.5 L395.3,290.9 L396.2,291.3 L397.1,291.6 L398.1,291.9 L399.0,292.2 L399.9,292.4 L400.8,292.6 L401.7,292.8 L402.6,293.0 L403.6,293.1 L404.5,293.2 L405.4,293.3 L406.3,293.4 L407.2,293.5 L408.1,293.5 L409.1,293.6 L410.0,293.6 L410.9,293.7 L411.8,293.7 L411.8,293.8 L410.9,293.7 L410.0,293.7 L409.1,293.7 L408.1,293.6 L407.2,293.6 L406.3,293.5 L405.4,293.5 L404.5,293.4 L403.6,293.3 L402.6,293.2 L401.7,293.1 L400.8,293.0 L399.9,292.8 L399.0,292.7 L398.1,292.5 L397.1,292.2 L396.2,292.0 L395.3,291.7 L394.4,291.4 L393.5,291.0 L392.6,290.6 L391.6,290.2 L390.7,289.7 L389.8,289.2 L388.9,288.6 L388.0,288.0 L387.1,287.3 L386.1,286.6 L385.2,285.9 L384.3,285.2 L383.4,284.4 L382.5,283.7 L381.6,283.0 L380.6,282.4 L379.7,281.8 L378.8,281.5 L377.9,281.3 L377.0,281.4 L376.1,281.8 L375.1,282.5 L374.2,283.6 L373.3,285.0 L372.4,286.8 L371.5,288.8 L370.6,290.8 L369.6,292.6 L368.7,293.7 Z" fill="#cd8a50" opacity="0.1"/>
<path d="M367.8,292.9 L368.7,289.0 L369.6,283.4 L370.6,277.6 L371.5,272.6 L372.4,269.0 L373.3,266.9 L374.2,266.2 L375.1,266.6 L376.1,267.8 L377.0,269.5 L377.9,271.5 L378.8,273.6 L379.7,275.9 L380.6,278.0 L381.6,280.1 L382.5,282.0 L383.4,283.7 L384.3,285.2 L385.2,286.6 L386.1,287.8 L387.1,288.8 L388.0,289.6 L388.9,290.4 L389.8,291.0 L390.7,291.5 L391.6,291.9 L392.6,292.3 L393.5,292.6 L394.4,292.8 L395.3,293.0 L396.2,293.2 L397.1,293.3 L398.1,293.5 L399.0,293.5 L399.9,293.6 L400.8,293.7 L401.7,293.7 L402.6,293.8 L403.6,293.8 L404.5,293.8 L405.4,293.8 L405.4,293.8 L404.5,293.8 L403.6,293.8 L402.6,293.8 L401.7,293.8 L400.8,293.7 L399.9,293.7 L399.0,293.6 L398.1,293.6 L397.1,293.5 L396.2,293.4 L395.3,293.3 L394.4,293.1 L393.5,293.0 L392.6,292.7 L391.6,292.5 L390.7,292.2 L389.8,291.8 L388.9,291.3 L388.0,290.8 L387.1,290.2 L386.1,289.4 L385.2,288.6 L384.3,287.6 L383.4,286.5 L382.5,285.2 L381.6,283.9 L380.6,282.4 L379.7,280.8 L378.8,279.2 L377.9,277.6 L377.0,276.1 L376.1,274.9 L375.1,274.1 L374.2,273.8 L373.3,274.3 L372.4,275.8 L371.5,278.4 L370.6,282.0 L369.6,286.3 L368.7,290.3 L367.8,293.2 Z" fill="#34597c" opacity="0.1"/>
<path d="M356.8,293.9 L367.3,293.9 L367.8,293.8 L368.3,293.3 L368.8,292.6 L369.3,291.7 L369.8,290.8 L370.3,289.8 L370.8,288.9 L371.3,288 L371.8,287.1 L372.3,286.4 L372.8,285.7 L373.3,285.2 L373.8,284.7 L374.3,284.3 L374.8,284 L375.3,283.8 L375.8,283.7 L376.3,283.6 L376.8,283.6 L377.3,283.7 L377.8,283.8 L378.3,283.9 L378.8,284.2 L379.3,284.4 L379.8,284.7 L380.3,285 L380.8,285.3 L381.3,285.6 L381.8,286 L382.3,286.3 L382.8,286.7 L383.3,287 L383.8,287.4 L384.3,287.7 L384.8,288.1 L385.3,288.4 L385.8,288.7 L386.3,289 L386.8,289.3 L387.3,289.6 L387.8,289.9 L388.3,290.1 L388.8,290.4 L389.3,290.6 L389.8,290.8 L390.3,291 L390.8,291.2 L391.3,291.4 L391.8,291.6 L392.3,291.8 L392.8,291.9 L393.3,292.1 L393.8,292.2 L394.3,292.3 L394.8,292.5 L395.3,292.6 L395.8,292.7 L396.3,292.8 L396.8,292.9 L397.3,292.9 L397.8,293 L398.3,293.1 L398.8,293.2 L399.3,293.2 L399.8,293.3 L400.3,293.3 L400.8,293.4 L401.3,293.4 L401.8,293.5 L402.8,293.5 L403.3,293.6 L404.8,293.6 L405.3,293.7 L407.3,293.7 L407.8,293.8 L411.8,293.8" fill="none" stroke="#b8b8b8" stroke-width="0.8" stroke-linejoin="round" opacity="1.0"/>
<path d="M356.8,293.9 L372.3,293.9 L372.8,293.8 L373.3,293.7 L373.8,293.6 L374.3,293.5 L374.8,293.3 L375.3,293.2 L375.8,293.1 L376.3,292.9 L376.8,292.8 L377.3,292.7 L377.8,292.6 L378.3,292.5 L378.8,292.4 L379.3,292.3 L379.8,292.2 L380.3,292.1 L380.8,292.1 L381.3,292 L382.3,292 L382.8,291.9 L385.8,291.9 L386.3,292 L387.8,292 L388.3,292.1 L389.3,292.1 L389.8,292.2 L390.3,292.2 L390.8,292.3 L391.3,292.3 L391.8,292.4 L392.3,292.4 L392.8,292.5 L393.3,292.5 L393.8,292.6 L394.3,292.6 L394.8,292.7 L395.3,292.7 L395.8,292.8 L396.8,292.8 L397.3,292.9 L397.8,292.9 L398.3,293 L399.3,293 L399.8,293.1 L400.3,293.1 L400.8,293.2 L401.8,293.2 L402.3,293.3 L403.8,293.3 L404.3,293.4 L405.3,293.4 L405.8,293.5 L407.8,293.5 L408.3,293.6 L410.8,293.6 L411.3,293.7 L411.8,293.7" fill="none" stroke="#dc5690" stroke-width="1.0" stroke-linejoin="round" opacity="1.0"/>
<path d="M356.8,293.9 L369.8,293.9 L370.3,293.7 L370.8,293.3 L371.3,292.7 L371.8,292.1 L372.3,291.4 L372.8,290.7 L373.3,289.9 L373.8,289.2 L374.3,288.5 L374.8,287.9 L375.3,287.3 L375.8,286.8 L376.3,286.4 L376.8,286 L377.3,285.7 L377.8,285.4 L378.3,285.3 L378.8,285.1 L379.3,285.1 L379.8,285 L380.3,285.1 L380.8,285.1 L381.3,285.2 L381.8,285.3 L382.3,285.5 L382.8,285.7 L383.3,285.9 L383.8,286.1 L384.3,286.3 L384.8,286.6 L385.3,286.8 L385.8,287.1 L386.3,287.3 L386.8,287.6 L387.3,287.8 L387.8,288.1 L388.3,288.4 L388.8,288.6 L389.3,288.9 L389.8,289.1 L390.3,289.3 L390.8,289.6 L391.3,289.8 L391.8,290 L392.3,290.2 L392.8,290.4 L393.3,290.6 L393.8,290.8 L394.3,291 L394.8,291.2 L395.3,291.3 L395.8,291.5 L396.3,291.6 L396.8,291.8 L397.3,291.9 L397.8,292 L398.3,292.1 L398.8,292.2 L399.3,292.4 L399.8,292.5 L400.3,292.6 L400.8,292.6 L401.3,292.7 L401.8,292.8 L402.3,292.9 L402.8,292.9 L403.3,293 L403.8,293.1 L404.3,293.1 L404.8,293.2 L405.3,293.2 L405.8,293.3 L406.3,293.3 L406.8,293.4 L407.8,293.4 L408.3,293.5 L409.3,293.5 L409.8,293.6 L411.8,293.6" fill="none" stroke="#4aa9c4" stroke-width="1.0" stroke-linejoin="round" opacity="1.0"/>
<path d="M356.8,293.9 L368.3,293.9 L368.8,293.6 L369.3,292.9 L369.8,291.9 L370.3,290.7 L370.8,289.4 L371.3,288 L371.8,286.6 L372.3,285.3 L372.8,284 L373.3,282.8 L373.8,281.8 L374.3,280.8 L374.8,280.1 L375.3,279.4 L375.8,278.9 L376.3,278.6 L376.8,278.3 L377.3,278.2 L378.3,278.2 L378.8,278.4 L379.3,278.6 L379.8,278.9 L380.3,279.2 L380.8,279.6 L381.3,280 L381.8,280.5 L382.3,280.9 L382.8,281.4 L383.3,281.9 L383.8,282.5 L384.3,283 L384.8,283.5 L385.3,284 L385.8,284.5 L386.3,285 L386.8,285.5 L387.3,285.9 L387.8,286.4 L388.3,286.8 L388.8,287.2 L389.3,287.6 L389.8,288 L390.3,288.4 L390.8,288.7 L391.3,289.1 L391.8,289.4 L392.3,289.7 L392.8,290 L393.3,290.2 L393.8,290.5 L394.3,290.7 L394.8,291 L395.3,291.2 L395.8,291.4 L396.3,291.5 L396.8,291.7 L397.3,291.9 L397.8,292 L398.3,292.2 L398.8,292.3 L399.3,292.4 L399.8,292.5 L400.3,292.6 L400.8,292.7 L401.3,292.8 L401.8,292.9 L402.3,293 L402.8,293.1 L403.3,293.1 L403.8,293.2 L404.3,293.2 L404.8,293.3 L405.3,293.4 L406.3,293.4 L406.8,293.5 L407.8,293.5 L408.3,293.6 L409.8,293.6 L410.3,293.7 L411.8,293.7" fill="none" stroke="#cd8a50" stroke-width="1.0" stroke-linejoin="round" opacity="1.0"/>
<path d="M378.2,278.2 L378.7,278.4 L379.2,278.6 L379.7,278.8 L380.2,279.2 L380.7,279.6 L381.2,280 L381.7,280.4 L382.2,280.9 L382.7,281.4 L383.3,281.9 L383.8,282.4 L384.3,282.9 L384.8,283.4 L385.3,283.9 L385.8,284.4 L386.3,284.9 L386.8,285.4 L387.3,285.9 L387.8,286.3 L388.3,286.8 L388.8,287.2 L389.3,287.6 L389.8,288 L390.3,288.4 L390.8,288.7 L391.3,289 L391.8,289.4 L392.3,289.7 L392.8,289.9 L393.3,290.2 L393.8,290.5 L394.3,290.7 L394.8,290.9 L395.3,291.1 L395.8,291.3 L396.3,291.5 L396.8,291.7 L397.3,291.9 L397.8,292 L398.3,292.2 L398.8,292.3 L399.3,292.4 L399.8,292.5 L400.3,292.6 L400.8,292.7 L401.3,292.8 L401.8,292.9 L402.3,293 L402.8,293.1 L403.3,293.1 L403.8,293.2 L404.3,293.2 L404.8,293.3 L405.3,293.3 L405.8,293.4 L406.3,293.4 L406.8,293.5 L407.8,293.5 L408.3,293.6 L409.8,293.6 L410.3,293.7 L411.8,293.7" fill="none" stroke="#4a4d52" stroke-width="1.0" stroke-linejoin="round" opacity="1.0"/>
<path d="M356.8,293.9 L366.8,293.9 L367.3,293.8 L367.8,293 L368.3,291.3 L368.8,289 L369.3,286.3 L369.8,283.4 L370.3,280.5 L370.8,277.7 L371.3,275.3 L371.8,273.2 L372.3,271.5 L372.8,270.3 L373.3,269.4 L373.8,268.9 L374.3,268.7 L374.8,268.9 L375.3,269.2 L375.8,269.8 L376.3,270.5 L376.8,271.4 L377.3,272.3 L377.8,273.3 L378.3,274.4 L378.8,275.5 L379.3,276.6 L379.8,277.7 L380.3,278.8 L380.8,279.8 L381.3,280.8 L381.8,281.8 L382.3,282.8 L382.8,283.6 L383.3,284.5 L383.8,285.3 L384.3,286 L384.8,286.7 L385.3,287.3 L385.8,287.9 L386.3,288.5 L386.8,289 L387.3,289.5 L387.8,289.9 L388.3,290.3 L388.8,290.6 L389.3,291 L389.8,291.3 L390.3,291.5 L390.8,291.8 L391.3,292 L391.8,292.2 L392.3,292.4 L392.8,292.5 L393.3,292.7 L393.8,292.8 L394.3,292.9 L394.8,293 L395.3,293.1 L395.8,293.2 L396.3,293.3 L396.8,293.4 L397.3,293.4 L397.8,293.5 L398.3,293.5 L398.8,293.6 L399.8,293.6 L400.3,293.7 L401.8,293.7 L402.3,293.8 L406.3,293.8 L406.8,293.9 L411.8,293.9" fill="none" stroke="#34597c" stroke-width="1.2" stroke-linejoin="round" opacity="1.0"/>
<path d="M352.90,242.60 L352.90,296.40 L413.70,296.40" fill="none" stroke="#383838" stroke-width="1.4"/>
<path d="M349.60,293.90 L352.90,293.90 M349.60,275.80 L352.90,275.80 M349.60,257.70 L352.90,257.70 M355.40,296.40 L355.40,299.10 M369.50,296.40 L369.50,299.10 M383.60,296.40 L383.60,299.10 M397.70,296.40 L397.70,299.10 M411.80,296.40 L411.80,299.10" stroke="#383838" stroke-width="1"/>
<g font-family='"Liberation Sans", sans-serif' font-size="6.5" fill="#2a2a2a" stroke="#2a2a2a">
<text x="346.80" y="296.25" text-anchor="end">0</text>
<text x="346.80" y="278.15" text-anchor="end">100</text>
<text x="346.80" y="260.05" text-anchor="end">200</text>
<text x="355.40" y="308.40" text-anchor="middle">0</text>
<text x="369.50" y="308.40" text-anchor="middle">10</text>
<text x="383.60" y="308.40" text-anchor="middle">20</text>
<text x="397.70" y="308.40" text-anchor="middle">30</text>
<text x="411.80" y="308.40" text-anchor="middle">40</text>
</g>
<line x1="451.00" y1="281.50" x2="509.90" y2="281.50" stroke="#3a3a3a" stroke-width="1.15" stroke-dasharray="7.6 4.1" stroke-dashoffset="3.9"/>
<path d="M465.9,293.4 L466.8,291.6 L467.7,289.0 L468.7,286.4 L469.6,284.0 L470.5,282.1 L471.4,280.7 L472.3,280.0 L473.2,279.8 L474.2,279.9 L475.1,280.4 L476.0,281.0 L476.9,281.8 L477.8,282.7 L478.7,283.6 L479.7,284.5 L480.6,285.4 L481.5,286.3 L482.4,287.1 L483.3,287.9 L484.2,288.6 L485.2,289.3 L486.1,289.9 L487.0,290.4 L487.9,290.8 L488.8,291.3 L489.7,291.6 L490.7,291.9 L491.6,292.2 L492.5,292.5 L493.4,292.7 L494.3,292.9 L495.2,293.0 L496.2,293.1 L497.1,293.3 L498.0,293.4 L498.9,293.4 L499.8,293.5 L500.7,293.6 L501.7,293.6 L502.6,293.7 L503.5,293.7 L504.4,293.7 L505.3,293.8 L506.2,293.8 L507.2,293.8 L508.1,293.8 L509.0,293.8 L509.0,293.9 L508.1,293.8 L507.2,293.8 L506.2,293.8 L505.3,293.8 L504.4,293.8 L503.5,293.8 L502.6,293.7 L501.7,293.7 L500.7,293.7 L499.8,293.6 L498.9,293.6 L498.0,293.5 L497.1,293.4 L496.2,293.4 L495.2,293.3 L494.3,293.1 L493.4,293.0 L492.5,292.9 L491.6,292.7 L490.7,292.5 L489.7,292.2 L488.8,292.0 L487.9,291.7 L487.0,291.3 L486.1,291.0 L485.2,290.5 L484.2,290.1 L483.3,289.5 L482.4,289.0 L481.5,288.4 L480.6,287.7 L479.7,287.1 L478.7,286.4 L477.8,285.7 L476.9,285.1 L476.0,284.5 L475.1,284.1 L474.2,283.7 L473.2,283.6 L472.3,283.8 L471.4,284.3 L470.5,285.3 L469.6,286.7 L468.7,288.4 L467.7,290.4 L466.8,292.2 L465.9,293.5 Z" fill="#b8b8b8" opacity="0.1"/>
<path d="M476.0,293.6 L476.9,293.2 L477.8,292.8 L478.7,292.5 L479.7,292.1 L480.6,291.8 L481.5,291.6 L482.4,291.4 L483.3,291.2 L484.2,291.1 L485.2,291.0 L486.1,290.9 L487.0,290.9 L487.9,290.9 L488.8,290.9 L489.7,291.0 L490.7,291.0 L491.6,291.1 L492.5,291.1 L493.4,291.2 L494.3,291.3 L495.2,291.3 L496.2,291.4 L497.1,291.5 L498.0,291.6 L498.9,291.7 L499.8,291.8 L500.7,291.9 L501.7,292.0 L502.6,292.0 L503.5,292.1 L504.4,292.2 L505.3,292.3 L506.2,292.4 L507.2,292.5 L508.1,292.5 L509.0,292.6 L509.9,292.7 L509.9,293.0 L509.0,293.0 L508.1,292.9 L507.2,292.8 L506.2,292.8 L505.3,292.7 L504.4,292.7 L503.5,292.6 L502.6,292.6 L501.7,292.5 L500.7,292.4 L499.8,292.4 L498.9,292.3 L498.0,292.2 L497.1,292.2 L496.2,292.1 L495.2,292.0 L494.3,292.0 L493.4,291.9 L492.5,291.9 L491.6,291.8 L490.7,291.8 L489.7,291.8 L488.8,291.7 L487.9,291.7 L487.0,291.7 L486.1,291.8 L485.2,291.8 L484.2,291.9 L483.3,292.0 L482.4,292.1 L481.5,292.2 L480.6,292.4 L479.7,292.6 L478.7,292.9 L477.8,293.1 L476.9,293.4 L476.0,293.7 Z" fill="#b04a6a" opacity="0.1"/>
<path d="M472.3,293.3 L473.2,292.1 L474.2,290.7 L475.1,289.2 L476.0,287.8 L476.9,286.6 L477.8,285.6 L478.7,284.9 L479.7,284.4 L480.6,284.2 L481.5,284.1 L482.4,284.3 L483.3,284.5 L484.2,284.8 L485.2,285.3 L486.1,285.7 L487.0,286.3 L487.9,286.8 L488.8,287.3 L489.7,287.8 L490.7,288.4 L491.6,288.9 L492.5,289.3 L493.4,289.8 L494.3,290.2 L495.2,290.6 L496.2,290.9 L497.1,291.2 L498.0,291.5 L498.9,291.8 L499.8,292.0 L500.7,292.2 L501.7,292.4 L502.6,292.6 L503.5,292.8 L504.4,292.9 L505.3,293.0 L506.2,293.1 L507.2,293.2 L508.1,293.3 L509.0,293.4 L509.9,293.5 L509.9,293.6 L509.0,293.5 L508.1,293.5 L507.2,293.4 L506.2,293.3 L505.3,293.3 L504.4,293.2 L503.5,293.1 L502.6,293.0 L501.7,292.8 L500.7,292.7 L499.8,292.5 L498.9,292.4 L498.0,292.2 L497.1,292.0 L496.2,291.7 L495.2,291.5 L494.3,291.2 L493.4,290.9 L492.5,290.6 L491.6,290.2 L490.7,289.9 L489.7,289.5 L488.8,289.1 L487.9,288.7 L487.0,288.3 L486.1,288.0 L485.2,287.6 L484.2,287.3 L483.3,287.1 L482.4,286.9 L481.5,286.8 L480.6,286.8 L479.7,287.0 L478.7,287.4 L477.8,287.9 L476.9,288.6 L476.0,289.5 L475.1,290.5 L474.2,291.6 L473.2,292.6 L472.3,293.5 Z" fill="#4aa9c4" opacity="0.1"/>
<path d="M469.6,293.7 L470.5,292.3 L471.4,290.2 L472.3,287.7 L473.2,285.3 L474.2,283.2 L475.1,281.5 L476.0,280.3 L476.9,279.6 L477.8,279.4 L478.7,279.5 L479.7,279.8 L480.6,280.4 L481.5,281.1 L482.4,282.0 L483.3,282.9 L484.2,283.8 L485.2,284.7 L486.1,285.6 L487.0,286.4 L487.9,287.2 L488.8,288.0 L489.7,288.7 L490.7,289.3 L491.6,289.9 L492.5,290.4 L493.4,290.8 L494.3,291.2 L495.2,291.6 L496.2,291.9 L497.1,292.2 L498.0,292.4 L498.9,292.6 L499.8,292.8 L500.7,293.0 L501.7,293.1 L502.6,293.2 L503.5,293.3 L504.4,293.4 L505.3,293.5 L506.2,293.6 L507.2,293.6 L508.1,293.7 L509.0,293.7 L509.9,293.7 L509.9,293.8 L509.0,293.8 L508.1,293.7 L507.2,293.7 L506.2,293.7 L505.3,293.6 L504.4,293.6 L503.5,293.5 L502.6,293.4 L501.7,293.3 L500.7,293.2 L499.8,293.1 L498.9,293.0 L498.0,292.8 L497.1,292.7 L496.2,292.5 L495.2,292.2 L494.3,292.0 L493.4,291.7 L492.5,291.3 L491.6,291.0 L490.7,290.6 L489.7,290.1 L488.8,289.6 L487.9,289.1 L487.0,288.5 L486.1,287.9 L485.2,287.2 L484.2,286.5 L483.3,285.9 L482.4,285.2 L481.5,284.6 L480.6,284.1 L479.7,283.7 L478.7,283.4 L477.8,283.3 L476.9,283.5 L476.0,284.0 L475.1,284.9 L474.2,286.1 L473.2,287.6 L472.3,289.4 L471.4,291.2 L470.5,292.8 L469.6,293.7 Z" fill="#cd8a50" opacity="0.1"/>
<path d="M467.7,293.8 L468.7,291.7 L469.6,287.2 L470.5,281.7 L471.4,276.8 L472.3,273.0 L473.2,270.7 L474.2,269.8 L475.1,270.1 L476.0,271.0 L476.9,272.5 L477.8,274.3 L478.7,276.3 L479.7,278.3 L480.6,280.2 L481.5,282.0 L482.4,283.7 L483.3,285.2 L484.2,286.6 L485.2,287.8 L486.1,288.8 L487.0,289.6 L487.9,290.4 L488.8,291.0 L489.7,291.5 L490.7,292.0 L491.6,292.3 L492.5,292.6 L493.4,292.9 L494.3,293.1 L495.2,293.2 L496.2,293.4 L497.1,293.5 L498.0,293.6 L498.9,293.6 L499.8,293.7 L500.7,293.7 L501.7,293.8 L502.6,293.8 L503.5,293.8 L504.4,293.8 L504.4,293.9 L503.5,293.8 L502.6,293.8 L501.7,293.8 L500.7,293.8 L499.8,293.7 L498.9,293.7 L498.0,293.7 L497.1,293.6 L496.2,293.5 L495.2,293.4 L494.3,293.3 L493.4,293.1 L492.5,293.0 L491.6,292.8 L490.7,292.5 L489.7,292.2 L488.8,291.8 L487.9,291.3 L487.0,290.8 L486.1,290.2 L485.2,289.4 L484.2,288.6 L483.3,287.6 L482.4,286.5 L481.5,285.3 L480.6,283.9 L479.7,282.5 L478.7,281.1 L477.8,279.7 L476.9,278.4 L476.0,277.3 L475.1,276.6 L474.2,276.4 L473.2,277.0 L472.3,278.7 L471.4,281.4 L470.5,285.0 L469.6,289.0 L468.7,292.3 L467.7,293.8 Z" fill="#34597c" opacity="0.1"/>
<path d="M454.9,293.9 L464.9,293.9 L465.4,293.8 L465.9,293.4 L466.4,292.6 L466.9,291.6 L467.4,290.3 L467.9,289 L468.4,287.7 L468.9,286.4 L469.4,285.2 L469.9,284.2 L470.4,283.3 L470.9,282.5 L471.4,281.9 L471.9,281.5 L472.4,281.2 L472.9,281.1 L473.9,281.1 L474.4,281.3 L474.9,281.5 L475.4,281.8 L475.9,282.1 L476.4,282.5 L476.9,282.9 L477.4,283.3 L477.9,283.8 L478.4,284.2 L478.9,284.7 L479.4,285.1 L479.9,285.6 L480.4,286.1 L480.9,286.5 L481.4,286.9 L481.9,287.4 L482.4,287.8 L482.9,288.1 L483.4,288.5 L483.9,288.9 L484.4,289.2 L484.9,289.5 L485.4,289.8 L485.9,290.1 L486.4,290.4 L486.9,290.7 L487.4,290.9 L487.9,291.1 L488.4,291.3 L488.9,291.5 L489.4,291.7 L489.9,291.9 L490.4,292 L490.9,292.2 L491.4,292.3 L491.9,292.5 L492.4,292.6 L492.9,292.7 L493.4,292.8 L493.9,292.9 L494.4,293 L494.9,293 L495.4,293.1 L495.9,293.2 L496.4,293.2 L496.9,293.3 L497.4,293.4 L498.4,293.4 L498.9,293.5 L499.4,293.5 L499.9,293.6 L501.4,293.6 L501.9,293.7 L503.9,293.7 L504.4,293.8 L509.4,293.8 L509.9,293.9" fill="none" stroke="#b8b8b8" stroke-width="0.8" stroke-linejoin="round" opacity="1.0"/>
<path d="M454.9,293.9 L474.9,293.9 L475.4,293.8 L475.9,293.6 L476.4,293.5 L476.9,293.3 L477.4,293.1 L477.9,292.9 L478.4,292.7 L478.9,292.5 L479.4,292.4 L479.9,292.2 L480.4,292.1 L480.9,291.9 L481.4,291.8 L481.9,291.7 L482.4,291.6 L482.9,291.5 L483.4,291.5 L483.9,291.4 L484.4,291.3 L484.9,291.3 L485.4,291.2 L489.9,291.2 L490.4,291.3 L491.9,291.3 L492.4,291.4 L493.4,291.4 L493.9,291.5 L494.4,291.5 L494.9,291.6 L495.9,291.6 L496.4,291.7 L496.9,291.7 L497.4,291.8 L497.9,291.8 L498.4,291.9 L499.4,291.9 L499.9,292 L500.4,292 L500.9,292.1 L501.4,292.1 L501.9,292.2 L502.9,292.2 L503.4,292.3 L503.9,292.3 L504.4,292.4 L505.4,292.4 L505.9,292.5 L506.4,292.5 L506.9,292.6 L507.9,292.6 L508.4,292.7 L509.4,292.7 L509.9,292.8" fill="none" stroke="#b04a6a" stroke-width="1.0" stroke-linejoin="round" opacity="1.0"/>
<path d="M454.9,293.9 L471.4,293.9 L471.9,293.7 L472.4,293.3 L472.9,292.7 L473.4,292.1 L473.9,291.4 L474.4,290.6 L474.9,289.9 L475.4,289.2 L475.9,288.5 L476.4,287.8 L476.9,287.3 L477.4,286.8 L477.9,286.3 L478.4,285.9 L478.9,285.6 L479.4,285.4 L479.9,285.2 L480.4,285.1 L480.9,285 L481.4,285 L481.9,285.1 L482.4,285.1 L482.9,285.2 L483.4,285.4 L483.9,285.5 L484.4,285.7 L484.9,285.9 L485.4,286.2 L485.9,286.4 L486.4,286.7 L486.9,286.9 L487.4,287.2 L487.9,287.4 L488.4,287.7 L488.9,288 L489.4,288.2 L489.9,288.5 L490.4,288.7 L490.9,289 L491.4,289.2 L491.9,289.5 L492.4,289.7 L492.9,289.9 L493.4,290.1 L493.9,290.3 L494.4,290.5 L494.9,290.7 L495.4,290.9 L495.9,291.1 L496.4,291.3 L496.9,291.4 L497.4,291.6 L497.9,291.7 L498.4,291.9 L498.9,292 L499.4,292.1 L499.9,292.2 L500.4,292.3 L500.9,292.4 L501.4,292.5 L501.9,292.6 L502.4,292.7 L502.9,292.8 L503.4,292.9 L503.9,292.9 L504.4,293 L504.9,293.1 L505.4,293.1 L505.9,293.2 L506.4,293.2 L506.9,293.3 L507.4,293.3 L507.9,293.4 L508.9,293.4 L509.4,293.5 L509.9,293.5" fill="none" stroke="#4aa9c4" stroke-width="1.0" stroke-linejoin="round" opacity="1.0"/>
<path d="M454.9,293.9 L468.9,293.9 L469.4,293.8 L469.9,293.4 L470.4,292.6 L470.9,291.7 L471.4,290.5 L471.9,289.3 L472.4,288 L472.9,286.8 L473.4,285.7 L473.9,284.6 L474.4,283.7 L474.9,282.9 L475.4,282.2 L475.9,281.7 L476.4,281.2 L476.9,280.9 L477.4,280.8 L477.9,280.7 L478.4,280.7 L478.9,280.8 L479.4,281 L479.9,281.2 L480.4,281.5 L480.9,281.9 L481.4,282.2 L481.9,282.6 L482.4,283 L482.9,283.5 L483.4,283.9 L483.9,284.4 L484.4,284.8 L484.9,285.3 L485.4,285.8 L485.9,286.2 L486.4,286.6 L486.9,287 L487.4,287.5 L487.9,287.8 L488.4,288.2 L488.9,288.6 L489.4,288.9 L489.9,289.3 L490.4,289.6 L490.9,289.9 L491.4,290.2 L491.9,290.4 L492.4,290.7 L492.9,290.9 L493.4,291.1 L493.9,291.3 L494.4,291.5 L494.9,291.7 L495.4,291.9 L495.9,292 L496.4,292.2 L496.9,292.3 L497.4,292.4 L497.9,292.6 L498.4,292.7 L498.9,292.8 L499.4,292.9 L499.9,292.9 L500.4,293 L500.9,293.1 L501.4,293.2 L501.9,293.2 L502.4,293.3 L502.9,293.3 L503.4,293.4 L503.9,293.4 L504.4,293.5 L505.4,293.5 L505.9,293.6 L506.9,293.6 L507.4,293.7 L509.9,293.7" fill="none" stroke="#cd8a50" stroke-width="1.0" stroke-linejoin="round" opacity="1.0"/>
<path d="M478.6,280.7 L479.1,280.9 L479.6,281.1 L480.1,281.3 L480.6,281.7 L481.1,282 L481.6,282.4 L482.1,282.8 L482.6,283.2 L483.1,283.7 L483.6,284.2 L484.2,284.6 L484.7,285.1 L485.2,285.5 L485.7,286 L486.2,286.4 L486.7,286.9 L487.2,287.3 L487.7,287.7 L488.2,288.1 L488.7,288.4 L489.2,288.8 L489.7,289.1 L490.2,289.5 L490.7,289.8 L491.2,290.1 L491.7,290.3 L492.2,290.6 L492.7,290.8 L493.2,291.1 L493.7,291.3 L494.2,291.5 L494.8,291.6 L495.3,291.8 L495.8,292 L496.3,292.1 L496.8,292.3 L497.3,292.4 L497.8,292.5 L498.3,292.6 L498.8,292.7 L499.3,292.8 L499.8,292.9 L500.3,293 L500.8,293.1 L501.3,293.2 L501.8,293.2 L502.3,293.3 L502.8,293.3 L503.3,293.4 L503.8,293.4 L504.3,293.5 L505.4,293.5 L505.9,293.6 L506.9,293.6 L507.4,293.7 L509.9,293.7" fill="none" stroke="#4a4d52" stroke-width="1.0" stroke-linejoin="round" opacity="1.0"/>
<path d="M454.9,293.9 L467.4,293.9 L467.9,293.7 L468.4,292.7 L468.9,291 L469.4,288.6 L469.9,286 L470.4,283.3 L470.9,280.7 L471.4,278.3 L471.9,276.3 L472.4,274.7 L472.9,273.4 L473.4,272.6 L473.9,272.1 L474.4,272 L474.9,272.1 L475.4,272.5 L475.9,273 L476.4,273.7 L476.9,274.5 L477.4,275.3 L477.9,276.3 L478.4,277.2 L478.9,278.2 L479.4,279.2 L479.9,280.2 L480.4,281.1 L480.9,282.1 L481.4,283 L481.9,283.8 L482.4,284.6 L482.9,285.4 L483.4,286.1 L483.9,286.8 L484.4,287.4 L484.9,288 L485.4,288.6 L485.9,289.1 L486.4,289.5 L486.9,290 L487.4,290.3 L487.9,290.7 L488.4,291 L488.9,291.3 L489.4,291.6 L489.9,291.8 L490.4,292 L490.9,292.2 L491.4,292.4 L491.9,292.6 L492.4,292.7 L492.9,292.8 L493.4,293 L493.9,293.1 L494.4,293.2 L494.9,293.2 L495.4,293.3 L495.9,293.4 L496.4,293.4 L496.9,293.5 L497.4,293.5 L497.9,293.6 L498.4,293.6 L498.9,293.7 L500.9,293.7 L501.4,293.8 L504.9,293.8 L505.4,293.9 L509.9,293.9" fill="none" stroke="#34597c" stroke-width="1.2" stroke-linejoin="round" opacity="1.0"/>
<path d="M451.00,242.60 L451.00,296.40 L511.80,296.40" fill="none" stroke="#383838" stroke-width="1.4"/>
<path d="M447.70,293.90 L451.00,293.90 M447.70,275.80 L451.00,275.80 M447.70,257.70 L451.00,257.70 M453.50,296.40 L453.50,299.10 M467.60,296.40 L467.60,299.10 M481.70,296.40 L481.70,299.10 M495.80,296.40 L495.80,299.10 M509.90,296.40 L509.90,299.10" stroke="#383838" stroke-width="1"/>
<g font-family='"Liberation Sans", sans-serif' font-size="6.5" fill="#2a2a2a" stroke="#2a2a2a">
<text x="444.90" y="296.25" text-anchor="end">0</text>
<text x="444.90" y="278.15" text-anchor="end">100</text>
<text x="444.90" y="260.05" text-anchor="end">200</text>
<text x="453.50" y="308.40" text-anchor="middle">0</text>
<text x="467.60" y="308.40" text-anchor="middle">10</text>
<text x="481.70" y="308.40" text-anchor="middle">20</text>
<text x="495.80" y="308.40" text-anchor="middle">30</text>
<text x="509.90" y="308.40" text-anchor="middle">40</text>
</g>
<text transform="translate(285.8,320.8) scale(0.74,1)" font-family='"Liberation Sans", sans-serif' font-size="8" fill="#2a2a2a" stroke="#2a2a2a" style="stroke-width:0.35px" text-anchor="middle">Time (min)</text>
<line x1="185.6" y1="347.3" x2="201" y2="347.3" stroke="#c0c0c0" stroke-width="1"/>
<line x1="185.6" y1="358.8" x2="201" y2="358.8" stroke="#dc5690" stroke-width="1.4"/>
<g font-family='"Liberation Sans", sans-serif' font-size="7.2" fill="#2a2a2a" stroke="#2a2a2a">
<text x="204.6" y="350.3">Pooled normal plasma (control)</text>
<text x="204.6" y="361.3">Unspiked plasma</text>
</g>
<text x="333.6" y="338.8" font-family='"Liberation Sans", sans-serif' font-size="7" fill="#2a2a2a" stroke="#2a2a2a"><tspan font-style="italic">In vitro</tspan> spike in:</text>
<line x1="333.1" y1="347.5" x2="348.2" y2="347.5" stroke="#4aa9c4" stroke-width="1.2"/>
<line x1="333.1" y1="358.8" x2="348.2" y2="358.8" stroke="#cd8a50" stroke-width="1.2"/>
<line x1="333.1" y1="369.9" x2="348.2" y2="369.9" stroke="#34597c" stroke-width="1.2"/>
<g font-family='"Liberation Sans", sans-serif' font-size="7.4" fill="#2a2a2a" stroke="#2a2a2a">
<text x="351.3" y="350">0.25 U/mL</text>
<text x="351.3" y="361.2">0.50 U/mL</text>
<text x="351.3" y="372.4">1.0 U/mL</text>
</g></svg>
</body></html>
